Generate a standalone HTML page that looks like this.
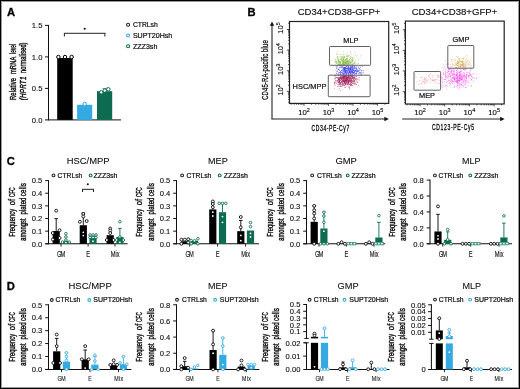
<!DOCTYPE html>
<html><head><meta charset="utf-8"><style>
html,body{margin:0;padding:0;background:#fff;}
#w{position:relative;width:520px;height:389px;overflow:hidden;}
svg{position:absolute;left:0;top:0;will-change:transform;}
text{font-family:"Liberation Sans", sans-serif;}
</style></head><body><div id="w">
<svg width="520" height="389" viewBox="0 0 520 389">
<text x="6.90" y="15.60" font-size="11.2" font-weight="bold" fill="#000" stroke="#000" stroke-width="0.3">A</text>
<line x1="48.50" y1="24.90" x2="48.50" y2="120.40" stroke="#111" stroke-width="1"/>
<line x1="45.00" y1="25.40" x2="48.50" y2="25.40" stroke="#111" stroke-width="1"/>
<text x="42.40" y="28.10" font-size="7.7" text-anchor="end" fill="#111" textLength="10.6" lengthAdjust="spacingAndGlyphs" stroke="#111" stroke-width="0.12">1.5</text>
<line x1="45.00" y1="56.90" x2="48.50" y2="56.90" stroke="#111" stroke-width="1"/>
<text x="42.40" y="59.60" font-size="7.7" text-anchor="end" fill="#111" textLength="10.6" lengthAdjust="spacingAndGlyphs" stroke="#111" stroke-width="0.12">1.0</text>
<line x1="45.00" y1="88.40" x2="48.50" y2="88.40" stroke="#111" stroke-width="1"/>
<text x="42.40" y="91.10" font-size="7.7" text-anchor="end" fill="#111" textLength="10.6" lengthAdjust="spacingAndGlyphs" stroke="#111" stroke-width="0.12">0.5</text>
<line x1="45.00" y1="119.90" x2="48.50" y2="119.90" stroke="#111" stroke-width="1"/>
<text x="42.40" y="122.60" font-size="7.7" text-anchor="end" fill="#111" textLength="10.6" lengthAdjust="spacingAndGlyphs" stroke="#111" stroke-width="0.12">0.0</text>
<line x1="48.50" y1="119.90" x2="121.00" y2="119.90" stroke="#111" stroke-width="1"/>
<rect x="57.20" y="58.00" width="15.50" height="61.90" fill="#000"/>
<rect x="77.10" y="104.80" width="15.10" height="15.10" fill="#35a9e1"/>
<rect x="97.00" y="91.20" width="15.20" height="28.70" fill="#0c6b51"/>
<circle cx="58.40" cy="57.00" r="1.75" fill="#fff" stroke="#000" stroke-width="1.0"/>
<circle cx="65.00" cy="57.00" r="1.75" fill="#fff" stroke="#000" stroke-width="1.0"/>
<circle cx="71.60" cy="57.00" r="1.75" fill="#fff" stroke="#000" stroke-width="1.0"/>
<circle cx="84.70" cy="104.00" r="1.75" fill="#fff" stroke="#35a9e1" stroke-width="1.0"/>
<line x1="104.60" y1="91.20" x2="104.60" y2="88.80" stroke="#0c6b51" stroke-width="0.9"/>
<line x1="102.60" y1="88.80" x2="106.60" y2="88.80" stroke="#0c6b51" stroke-width="0.9"/>
<circle cx="101.20" cy="92.30" r="1.75" fill="#fff" stroke="#0c6b51" stroke-width="1.0"/>
<circle cx="104.80" cy="90.60" r="1.75" fill="#fff" stroke="#0c6b51" stroke-width="1.0"/>
<circle cx="108.30" cy="89.30" r="1.75" fill="#fff" stroke="#0c6b51" stroke-width="1.0"/>
<line x1="63.90" y1="33.30" x2="105.40" y2="33.30" stroke="#222" stroke-width="1"/>
<line x1="64.40" y1="33.30" x2="64.40" y2="36.50" stroke="#222" stroke-width="1"/>
<line x1="104.90" y1="33.30" x2="104.90" y2="36.50" stroke="#222" stroke-width="1"/>
<circle cx="84.7" cy="28.8" r="1.05" fill="#111"/>
<text x="0.00" y="0" transform="translate(15.60,100.00) rotate(-90) scale(0.6929688028693239,1)" font-size="8.4" letter-spacing="0.200" fill="#111" stroke="#111" stroke-width="0.42">Relative</text>
<text x="0.00" y="0" transform="translate(15.60,74.10) rotate(-90) scale(0.6908143282293253,1)" font-size="8.4" letter-spacing="0.200" fill="#111" stroke="#111" stroke-width="0.42">mRNA</text>
<text x="0.00" y="0" transform="translate(15.60,53.80) rotate(-90) scale(0.5310973764965203,1)" font-size="8.4" letter-spacing="0.200" fill="#111" stroke="#111" stroke-width="0.42">level</text>
<text x="0.00" y="0" transform="translate(25.50,100.20) rotate(-90) scale(0.7595302799870353,1)" font-size="8.4" letter-spacing="0.200" fill="#111" stroke="#111" stroke-width="0.42" font-style="italic">(HPRT1</text>
<text x="0.00" y="0" transform="translate(25.50,73.00) rotate(-90) scale(0.6647397613645554,1)" font-size="8.4" letter-spacing="0.200" fill="#111" stroke="#111" stroke-width="0.42">normalised)</text>
<circle cx="128.10" cy="24.70" r="1.55" fill="#fff" stroke="#222" stroke-width="1.05"/>
<text x="132.90" y="27.15" font-size="7.1" fill="#111" textLength="24.9" lengthAdjust="spacingAndGlyphs" stroke="#111" stroke-width="0.22">CTRLsh</text>
<circle cx="128.10" cy="35.45" r="1.55" fill="#fff" stroke="#35a9e1" stroke-width="1.05"/>
<text x="132.90" y="37.90" font-size="7.1" fill="#111" stroke="#111" stroke-width="0.22">SUPT20Hsh</text>
<circle cx="128.10" cy="46.20" r="1.55" fill="#fff" stroke="#0c6b51" stroke-width="1.05"/>
<text x="132.90" y="48.65" font-size="7.1" fill="#111" stroke="#111" stroke-width="0.22">ZZZ3sh</text>
<text x="247.40" y="16.20" font-size="11.2" font-weight="bold" fill="#000" stroke="#000" stroke-width="0.3">B</text>
<g fill="#78b030" fill-opacity="0.8"><circle cx="342.5" cy="63.9" r="0.45"/><circle cx="342.6" cy="60.8" r="0.45"/><circle cx="338.4" cy="61.2" r="0.45"/><circle cx="350.7" cy="63.6" r="0.45"/><circle cx="350.2" cy="62.9" r="0.45"/><circle cx="346.4" cy="62.7" r="0.45"/><circle cx="347.0" cy="63.9" r="0.45"/><circle cx="338.7" cy="60.2" r="0.45"/><circle cx="345.8" cy="61.8" r="0.45"/><circle cx="347.1" cy="59.6" r="0.45"/><circle cx="345.9" cy="63.5" r="0.45"/><circle cx="340.3" cy="59.2" r="0.45"/><circle cx="341.9" cy="61.6" r="0.45"/><circle cx="347.8" cy="62.9" r="0.45"/><circle cx="341.3" cy="58.4" r="0.45"/><circle cx="339.2" cy="62.9" r="0.45"/><circle cx="346.6" cy="56.3" r="0.45"/><circle cx="343.4" cy="58.9" r="0.45"/><circle cx="347.0" cy="61.8" r="0.45"/><circle cx="335.2" cy="65.1" r="0.45"/><circle cx="352.6" cy="63.4" r="0.45"/><circle cx="344.7" cy="57.1" r="0.45"/><circle cx="347.7" cy="59.7" r="0.45"/><circle cx="341.3" cy="57.2" r="0.45"/><circle cx="338.2" cy="60.0" r="0.45"/><circle cx="351.7" cy="54.3" r="0.45"/><circle cx="335.3" cy="62.9" r="0.45"/><circle cx="352.7" cy="64.2" r="0.45"/><circle cx="346.1" cy="59.2" r="0.45"/><circle cx="350.6" cy="62.6" r="0.45"/><circle cx="345.5" cy="63.7" r="0.45"/><circle cx="353.6" cy="64.4" r="0.45"/><circle cx="347.1" cy="64.1" r="0.45"/><circle cx="349.7" cy="64.0" r="0.45"/><circle cx="349.1" cy="55.1" r="0.45"/><circle cx="347.3" cy="61.4" r="0.45"/><circle cx="345.9" cy="64.5" r="0.45"/><circle cx="340.0" cy="60.4" r="0.45"/><circle cx="350.3" cy="62.1" r="0.45"/><circle cx="352.8" cy="60.3" r="0.45"/><circle cx="335.7" cy="61.5" r="0.45"/><circle cx="343.1" cy="60.9" r="0.45"/><circle cx="352.4" cy="58.1" r="0.45"/><circle cx="351.6" cy="57.2" r="0.45"/><circle cx="339.3" cy="64.4" r="0.45"/><circle cx="350.8" cy="65.3" r="0.45"/><circle cx="346.1" cy="62.5" r="0.45"/><circle cx="344.9" cy="64.2" r="0.45"/><circle cx="342.9" cy="63.1" r="0.45"/><circle cx="347.4" cy="62.0" r="0.45"/><circle cx="348.6" cy="64.2" r="0.45"/><circle cx="356.1" cy="63.2" r="0.45"/><circle cx="341.4" cy="60.6" r="0.45"/><circle cx="342.0" cy="63.5" r="0.45"/><circle cx="355.0" cy="52.3" r="0.45"/><circle cx="337.3" cy="62.9" r="0.45"/><circle cx="346.4" cy="62.9" r="0.45"/><circle cx="341.4" cy="64.5" r="0.45"/><circle cx="345.7" cy="60.0" r="0.45"/><circle cx="358.6" cy="63.3" r="0.45"/><circle cx="340.7" cy="61.6" r="0.45"/><circle cx="342.6" cy="61.8" r="0.45"/><circle cx="350.1" cy="57.6" r="0.45"/><circle cx="342.0" cy="64.4" r="0.45"/><circle cx="350.6" cy="51.8" r="0.45"/><circle cx="350.5" cy="56.5" r="0.45"/><circle cx="348.1" cy="56.3" r="0.45"/><circle cx="343.1" cy="62.7" r="0.45"/><circle cx="348.8" cy="62.5" r="0.45"/><circle cx="350.3" cy="60.9" r="0.45"/><circle cx="360.5" cy="57.6" r="0.45"/><circle cx="349.5" cy="61.0" r="0.45"/><circle cx="344.8" cy="64.7" r="0.45"/><circle cx="345.3" cy="64.4" r="0.45"/><circle cx="347.7" cy="58.3" r="0.45"/><circle cx="337.8" cy="56.4" r="0.45"/><circle cx="351.6" cy="64.8" r="0.45"/><circle cx="352.8" cy="58.4" r="0.45"/><circle cx="344.0" cy="57.7" r="0.45"/><circle cx="349.9" cy="61.3" r="0.45"/><circle cx="343.4" cy="59.7" r="0.45"/><circle cx="346.4" cy="63.6" r="0.45"/><circle cx="353.0" cy="58.1" r="0.45"/><circle cx="352.7" cy="61.3" r="0.45"/><circle cx="344.7" cy="62.5" r="0.45"/><circle cx="352.5" cy="61.0" r="0.45"/><circle cx="345.9" cy="59.7" r="0.45"/><circle cx="343.9" cy="65.2" r="0.45"/><circle cx="336.6" cy="62.0" r="0.45"/><circle cx="342.8" cy="61.9" r="0.45"/><circle cx="340.5" cy="62.9" r="0.45"/><circle cx="354.7" cy="62.2" r="0.45"/><circle cx="342.8" cy="57.2" r="0.45"/><circle cx="350.0" cy="65.0" r="0.45"/><circle cx="344.0" cy="65.1" r="0.45"/><circle cx="345.0" cy="57.5" r="0.45"/><circle cx="349.5" cy="59.9" r="0.45"/><circle cx="338.6" cy="59.1" r="0.45"/><circle cx="336.9" cy="63.4" r="0.45"/><circle cx="340.2" cy="54.6" r="0.45"/><circle cx="348.3" cy="61.0" r="0.45"/><circle cx="345.7" cy="60.3" r="0.45"/><circle cx="348.7" cy="64.8" r="0.45"/><circle cx="348.0" cy="63.2" r="0.45"/><circle cx="352.0" cy="64.5" r="0.45"/><circle cx="346.7" cy="54.1" r="0.45"/><circle cx="342.2" cy="60.2" r="0.45"/><circle cx="355.6" cy="55.3" r="0.45"/><circle cx="338.4" cy="64.6" r="0.45"/><circle cx="355.3" cy="61.5" r="0.45"/><circle cx="338.6" cy="61.7" r="0.45"/><circle cx="345.8" cy="65.1" r="0.45"/><circle cx="343.8" cy="61.3" r="0.45"/><circle cx="337.9" cy="60.6" r="0.45"/><circle cx="349.4" cy="62.4" r="0.45"/><circle cx="338.9" cy="58.8" r="0.45"/><circle cx="347.8" cy="52.1" r="0.45"/><circle cx="347.7" cy="63.8" r="0.45"/><circle cx="354.1" cy="63.6" r="0.45"/><circle cx="343.6" cy="64.0" r="0.45"/><circle cx="345.9" cy="59.3" r="0.45"/><circle cx="335.6" cy="59.5" r="0.45"/><circle cx="345.7" cy="62.7" r="0.45"/><circle cx="341.6" cy="58.3" r="0.45"/><circle cx="336.8" cy="56.9" r="0.45"/><circle cx="354.9" cy="65.1" r="0.45"/><circle cx="338.8" cy="63.0" r="0.45"/><circle cx="343.6" cy="64.0" r="0.45"/><circle cx="339.6" cy="61.5" r="0.45"/><circle cx="346.8" cy="63.4" r="0.45"/><circle cx="347.8" cy="62.8" r="0.45"/><circle cx="342.1" cy="65.0" r="0.45"/><circle cx="344.3" cy="58.9" r="0.45"/><circle cx="340.2" cy="62.0" r="0.45"/><circle cx="343.3" cy="62.6" r="0.45"/><circle cx="344.0" cy="62.7" r="0.45"/><circle cx="343.2" cy="57.2" r="0.45"/><circle cx="346.6" cy="61.3" r="0.45"/><circle cx="346.7" cy="58.3" r="0.45"/><circle cx="338.4" cy="64.8" r="0.45"/><circle cx="337.5" cy="52.0" r="0.45"/><circle cx="341.7" cy="56.8" r="0.45"/><circle cx="339.4" cy="64.0" r="0.45"/><circle cx="347.0" cy="62.7" r="0.45"/><circle cx="352.9" cy="64.7" r="0.45"/><circle cx="343.9" cy="64.3" r="0.45"/><circle cx="350.1" cy="57.9" r="0.45"/><circle cx="343.1" cy="64.8" r="0.45"/><circle cx="351.4" cy="61.2" r="0.45"/><circle cx="349.9" cy="62.0" r="0.45"/><circle cx="337.0" cy="62.7" r="0.45"/><circle cx="348.7" cy="62.1" r="0.45"/><circle cx="349.1" cy="64.1" r="0.45"/><circle cx="345.2" cy="62.2" r="0.45"/><circle cx="342.5" cy="64.6" r="0.45"/><circle cx="337.7" cy="59.6" r="0.45"/><circle cx="344.0" cy="56.4" r="0.45"/><circle cx="341.4" cy="54.4" r="0.45"/><circle cx="339.9" cy="64.2" r="0.45"/><circle cx="347.4" cy="61.8" r="0.45"/><circle cx="342.6" cy="56.6" r="0.45"/><circle cx="355.0" cy="64.0" r="0.45"/><circle cx="350.6" cy="58.6" r="0.45"/><circle cx="342.9" cy="55.1" r="0.45"/><circle cx="347.8" cy="55.3" r="0.45"/><circle cx="340.2" cy="56.7" r="0.45"/><circle cx="344.2" cy="62.9" r="0.45"/><circle cx="347.8" cy="64.7" r="0.45"/><circle cx="336.1" cy="60.1" r="0.45"/><circle cx="337.6" cy="57.9" r="0.45"/><circle cx="343.5" cy="62.0" r="0.45"/><circle cx="346.9" cy="56.0" r="0.45"/><circle cx="336.6" cy="61.9" r="0.45"/><circle cx="342.8" cy="60.8" r="0.45"/><circle cx="343.6" cy="59.1" r="0.45"/><circle cx="348.2" cy="63.3" r="0.45"/><circle cx="343.5" cy="59.4" r="0.45"/><circle cx="343.0" cy="51.7" r="0.45"/><circle cx="338.1" cy="62.1" r="0.45"/><circle cx="344.9" cy="56.8" r="0.45"/><circle cx="342.5" cy="60.8" r="0.45"/><circle cx="346.8" cy="64.3" r="0.45"/><circle cx="343.8" cy="58.8" r="0.45"/><circle cx="343.1" cy="61.8" r="0.45"/><circle cx="348.4" cy="63.1" r="0.45"/><circle cx="339.7" cy="56.9" r="0.45"/><circle cx="341.8" cy="59.2" r="0.45"/><circle cx="337.3" cy="61.6" r="0.45"/><circle cx="341.1" cy="62.4" r="0.45"/><circle cx="347.1" cy="60.4" r="0.45"/><circle cx="357.9" cy="60.8" r="0.45"/><circle cx="350.6" cy="62.5" r="0.45"/><circle cx="350.7" cy="53.0" r="0.45"/><circle cx="339.5" cy="62.9" r="0.45"/><circle cx="347.1" cy="61.4" r="0.45"/><circle cx="347.1" cy="57.9" r="0.45"/><circle cx="351.1" cy="58.1" r="0.45"/><circle cx="342.7" cy="62.1" r="0.45"/><circle cx="351.0" cy="62.1" r="0.45"/><circle cx="339.2" cy="63.0" r="0.45"/><circle cx="347.5" cy="64.7" r="0.45"/><circle cx="354.0" cy="62.1" r="0.45"/><circle cx="345.6" cy="60.4" r="0.45"/><circle cx="352.5" cy="59.3" r="0.45"/><circle cx="348.0" cy="60.2" r="0.45"/><circle cx="339.8" cy="64.7" r="0.45"/><circle cx="352.0" cy="62.0" r="0.45"/><circle cx="339.9" cy="65.1" r="0.45"/><circle cx="343.7" cy="63.2" r="0.45"/><circle cx="344.0" cy="65.0" r="0.45"/><circle cx="340.1" cy="61.8" r="0.45"/><circle cx="352.2" cy="57.4" r="0.45"/><circle cx="351.1" cy="60.3" r="0.45"/><circle cx="343.6" cy="60.8" r="0.45"/><circle cx="343.3" cy="57.9" r="0.45"/><circle cx="344.1" cy="56.5" r="0.45"/><circle cx="343.6" cy="63.2" r="0.45"/><circle cx="346.8" cy="61.1" r="0.45"/><circle cx="338.6" cy="62.6" r="0.45"/><circle cx="348.6" cy="61.6" r="0.45"/><circle cx="341.2" cy="59.3" r="0.45"/><circle cx="338.4" cy="60.7" r="0.45"/><circle cx="345.8" cy="64.0" r="0.45"/><circle cx="339.8" cy="62.0" r="0.45"/><circle cx="360.8" cy="54.9" r="0.45"/><circle cx="340.9" cy="62.6" r="0.45"/><circle cx="344.9" cy="63.5" r="0.45"/><circle cx="342.6" cy="63.4" r="0.45"/><circle cx="344.3" cy="64.9" r="0.45"/><circle cx="344.0" cy="58.1" r="0.45"/><circle cx="337.7" cy="64.4" r="0.45"/><circle cx="340.1" cy="64.4" r="0.45"/><circle cx="348.5" cy="63.2" r="0.45"/><circle cx="347.0" cy="61.6" r="0.45"/><circle cx="335.5" cy="61.9" r="0.45"/><circle cx="346.7" cy="60.0" r="0.45"/><circle cx="343.4" cy="64.8" r="0.45"/><circle cx="338.7" cy="64.4" r="0.45"/><circle cx="355.2" cy="59.9" r="0.45"/><circle cx="344.9" cy="61.4" r="0.45"/><circle cx="353.2" cy="63.2" r="0.45"/><circle cx="349.4" cy="59.4" r="0.45"/><circle cx="343.9" cy="62.0" r="0.45"/><circle cx="349.4" cy="55.4" r="0.45"/><circle cx="348.5" cy="61.5" r="0.45"/><circle cx="346.7" cy="63.4" r="0.45"/><circle cx="335.0" cy="61.2" r="0.45"/><circle cx="353.0" cy="59.8" r="0.45"/><circle cx="337.9" cy="56.8" r="0.45"/><circle cx="336.7" cy="63.3" r="0.45"/><circle cx="354.2" cy="63.6" r="0.45"/><circle cx="340.9" cy="59.4" r="0.45"/><circle cx="347.2" cy="64.1" r="0.45"/><circle cx="337.9" cy="57.6" r="0.45"/><circle cx="345.7" cy="62.9" r="0.45"/><circle cx="336.2" cy="61.2" r="0.45"/><circle cx="340.7" cy="63.7" r="0.45"/><circle cx="343.3" cy="61.7" r="0.45"/><circle cx="352.3" cy="60.6" r="0.45"/><circle cx="349.1" cy="59.1" r="0.45"/><circle cx="344.4" cy="64.8" r="0.45"/><circle cx="353.1" cy="60.5" r="0.45"/><circle cx="343.6" cy="62.7" r="0.45"/><circle cx="335.0" cy="62.1" r="0.45"/><circle cx="339.9" cy="63.4" r="0.45"/><circle cx="337.2" cy="54.5" r="0.45"/><circle cx="344.2" cy="63.0" r="0.45"/><circle cx="342.4" cy="59.7" r="0.45"/><circle cx="346.9" cy="56.0" r="0.45"/><circle cx="339.9" cy="61.9" r="0.45"/><circle cx="349.1" cy="61.4" r="0.45"/><circle cx="345.9" cy="59.5" r="0.45"/><circle cx="340.1" cy="62.1" r="0.45"/><circle cx="336.6" cy="54.0" r="0.45"/><circle cx="347.6" cy="65.0" r="0.45"/><circle cx="345.2" cy="63.0" r="0.45"/><circle cx="349.6" cy="63.4" r="0.45"/><circle cx="354.0" cy="57.3" r="0.45"/><circle cx="348.9" cy="60.6" r="0.45"/><circle cx="344.0" cy="61.0" r="0.45"/><circle cx="341.0" cy="58.8" r="0.45"/><circle cx="340.2" cy="64.4" r="0.45"/><circle cx="344.2" cy="62.3" r="0.45"/><circle cx="347.0" cy="61.5" r="0.45"/><circle cx="348.0" cy="61.4" r="0.45"/><circle cx="346.8" cy="58.4" r="0.45"/><circle cx="350.5" cy="63.3" r="0.45"/><circle cx="345.2" cy="61.4" r="0.45"/><circle cx="344.2" cy="60.9" r="0.45"/><circle cx="346.1" cy="62.3" r="0.45"/><circle cx="348.1" cy="60.6" r="0.45"/><circle cx="343.8" cy="53.9" r="0.45"/><circle cx="341.5" cy="64.6" r="0.45"/><circle cx="352.0" cy="60.6" r="0.45"/><circle cx="342.0" cy="64.8" r="0.45"/><circle cx="354.1" cy="62.2" r="0.45"/><circle cx="351.4" cy="59.3" r="0.45"/><circle cx="345.2" cy="61.7" r="0.45"/><circle cx="358.3" cy="59.5" r="0.45"/><circle cx="340.5" cy="63.9" r="0.45"/><circle cx="337.7" cy="63.9" r="0.45"/><circle cx="347.4" cy="60.9" r="0.45"/><circle cx="347.2" cy="56.1" r="0.45"/><circle cx="348.6" cy="56.1" r="0.45"/><circle cx="339.8" cy="59.9" r="0.45"/><circle cx="341.6" cy="65.3" r="0.45"/><circle cx="344.5" cy="60.5" r="0.45"/><circle cx="344.0" cy="63.4" r="0.45"/><circle cx="351.4" cy="63.0" r="0.45"/><circle cx="357.3" cy="54.5" r="0.45"/><circle cx="343.8" cy="63.6" r="0.45"/><circle cx="349.8" cy="64.5" r="0.45"/><circle cx="342.4" cy="58.0" r="0.45"/><circle cx="337.5" cy="58.1" r="0.45"/><circle cx="343.9" cy="54.6" r="0.45"/><circle cx="342.4" cy="60.3" r="0.45"/><circle cx="346.7" cy="59.3" r="0.45"/><circle cx="338.7" cy="60.5" r="0.45"/><circle cx="343.7" cy="59.5" r="0.45"/><circle cx="344.1" cy="64.9" r="0.45"/></g>
<g fill="#3030f0" fill-opacity="0.8"><circle cx="343.9" cy="69.0" r="0.45"/><circle cx="344.3" cy="70.4" r="0.45"/><circle cx="352.4" cy="65.7" r="0.45"/><circle cx="352.0" cy="70.4" r="0.45"/><circle cx="337.1" cy="71.5" r="0.45"/><circle cx="354.2" cy="71.2" r="0.45"/><circle cx="352.1" cy="72.0" r="0.45"/><circle cx="357.5" cy="69.7" r="0.45"/><circle cx="354.7" cy="69.1" r="0.45"/><circle cx="353.7" cy="67.7" r="0.45"/><circle cx="351.9" cy="69.9" r="0.45"/><circle cx="341.6" cy="67.7" r="0.45"/><circle cx="350.3" cy="73.8" r="0.45"/><circle cx="351.8" cy="72.3" r="0.45"/><circle cx="348.7" cy="75.2" r="0.45"/><circle cx="346.5" cy="68.6" r="0.45"/><circle cx="354.8" cy="70.7" r="0.45"/><circle cx="347.2" cy="68.5" r="0.45"/><circle cx="347.3" cy="72.7" r="0.45"/><circle cx="351.3" cy="66.3" r="0.45"/><circle cx="351.8" cy="71.1" r="0.45"/><circle cx="342.5" cy="73.2" r="0.45"/><circle cx="347.2" cy="69.3" r="0.45"/><circle cx="354.2" cy="75.1" r="0.45"/><circle cx="344.5" cy="72.0" r="0.45"/><circle cx="345.8" cy="74.7" r="0.45"/><circle cx="344.8" cy="73.3" r="0.45"/><circle cx="346.2" cy="72.3" r="0.45"/><circle cx="348.4" cy="68.2" r="0.45"/><circle cx="363.0" cy="70.8" r="0.45"/><circle cx="338.3" cy="73.5" r="0.45"/><circle cx="337.8" cy="74.5" r="0.45"/><circle cx="345.2" cy="71.0" r="0.45"/><circle cx="357.2" cy="70.9" r="0.45"/><circle cx="356.7" cy="73.1" r="0.45"/><circle cx="343.7" cy="73.5" r="0.45"/><circle cx="352.2" cy="72.8" r="0.45"/><circle cx="354.9" cy="73.1" r="0.45"/><circle cx="350.1" cy="72.2" r="0.45"/><circle cx="346.9" cy="70.6" r="0.45"/><circle cx="354.8" cy="68.9" r="0.45"/><circle cx="356.5" cy="67.7" r="0.45"/><circle cx="350.7" cy="68.7" r="0.45"/><circle cx="350.0" cy="68.1" r="0.45"/><circle cx="338.6" cy="74.3" r="0.45"/><circle cx="351.0" cy="68.5" r="0.45"/><circle cx="350.3" cy="74.0" r="0.45"/><circle cx="342.6" cy="70.1" r="0.45"/><circle cx="352.5" cy="72.3" r="0.45"/><circle cx="357.1" cy="71.6" r="0.45"/><circle cx="349.1" cy="69.5" r="0.45"/><circle cx="350.7" cy="69.0" r="0.45"/><circle cx="342.3" cy="67.9" r="0.45"/><circle cx="345.1" cy="68.4" r="0.45"/><circle cx="341.5" cy="72.7" r="0.45"/><circle cx="340.5" cy="72.8" r="0.45"/><circle cx="342.4" cy="71.7" r="0.45"/><circle cx="357.9" cy="71.2" r="0.45"/><circle cx="344.2" cy="70.7" r="0.45"/><circle cx="345.1" cy="71.1" r="0.45"/><circle cx="346.0" cy="70.8" r="0.45"/><circle cx="353.8" cy="73.2" r="0.45"/><circle cx="354.9" cy="72.6" r="0.45"/><circle cx="347.1" cy="70.4" r="0.45"/><circle cx="347.2" cy="69.4" r="0.45"/><circle cx="346.8" cy="70.4" r="0.45"/><circle cx="342.7" cy="70.4" r="0.45"/><circle cx="352.4" cy="69.9" r="0.45"/><circle cx="352.4" cy="69.4" r="0.45"/><circle cx="354.5" cy="71.8" r="0.45"/><circle cx="349.1" cy="68.4" r="0.45"/><circle cx="353.1" cy="68.8" r="0.45"/><circle cx="350.5" cy="68.7" r="0.45"/><circle cx="350.3" cy="73.1" r="0.45"/><circle cx="343.3" cy="70.4" r="0.45"/><circle cx="353.0" cy="71.0" r="0.45"/><circle cx="355.0" cy="73.3" r="0.45"/><circle cx="345.0" cy="68.0" r="0.45"/><circle cx="354.8" cy="67.3" r="0.45"/><circle cx="337.2" cy="67.0" r="0.45"/><circle cx="344.5" cy="67.9" r="0.45"/><circle cx="350.5" cy="67.9" r="0.45"/><circle cx="357.5" cy="70.2" r="0.45"/><circle cx="341.9" cy="75.1" r="0.45"/><circle cx="345.2" cy="71.3" r="0.45"/><circle cx="348.9" cy="69.4" r="0.45"/><circle cx="351.1" cy="68.1" r="0.45"/><circle cx="340.8" cy="67.8" r="0.45"/><circle cx="348.9" cy="70.7" r="0.45"/><circle cx="352.6" cy="70.9" r="0.45"/><circle cx="343.8" cy="68.0" r="0.45"/><circle cx="335.2" cy="69.9" r="0.45"/><circle cx="352.2" cy="72.4" r="0.45"/><circle cx="348.2" cy="69.9" r="0.45"/><circle cx="355.1" cy="70.6" r="0.45"/><circle cx="353.8" cy="72.5" r="0.45"/><circle cx="350.4" cy="75.1" r="0.45"/><circle cx="345.3" cy="69.2" r="0.45"/><circle cx="343.7" cy="67.7" r="0.45"/><circle cx="349.1" cy="72.5" r="0.45"/><circle cx="356.6" cy="73.3" r="0.45"/><circle cx="356.8" cy="66.1" r="0.45"/><circle cx="344.8" cy="72.1" r="0.45"/><circle cx="358.3" cy="70.9" r="0.45"/><circle cx="343.4" cy="69.3" r="0.45"/><circle cx="344.7" cy="67.5" r="0.45"/><circle cx="358.8" cy="68.3" r="0.45"/><circle cx="356.7" cy="71.7" r="0.45"/><circle cx="345.0" cy="71.9" r="0.45"/><circle cx="359.5" cy="72.7" r="0.45"/><circle cx="357.2" cy="70.8" r="0.45"/><circle cx="352.4" cy="69.8" r="0.45"/><circle cx="351.8" cy="75.1" r="0.45"/><circle cx="339.7" cy="70.3" r="0.45"/><circle cx="350.6" cy="68.5" r="0.45"/><circle cx="347.0" cy="73.3" r="0.45"/><circle cx="362.0" cy="72.7" r="0.45"/><circle cx="361.5" cy="70.8" r="0.45"/><circle cx="348.8" cy="66.6" r="0.45"/><circle cx="348.6" cy="66.7" r="0.45"/><circle cx="349.5" cy="72.1" r="0.45"/><circle cx="349.2" cy="71.5" r="0.45"/><circle cx="347.8" cy="67.8" r="0.45"/><circle cx="342.4" cy="69.3" r="0.45"/><circle cx="350.9" cy="66.4" r="0.45"/><circle cx="353.4" cy="70.0" r="0.45"/><circle cx="349.8" cy="70.1" r="0.45"/><circle cx="348.7" cy="73.1" r="0.45"/><circle cx="348.9" cy="67.4" r="0.45"/><circle cx="353.2" cy="68.4" r="0.45"/><circle cx="342.2" cy="66.6" r="0.45"/><circle cx="336.8" cy="71.8" r="0.45"/><circle cx="339.4" cy="72.7" r="0.45"/><circle cx="344.0" cy="69.2" r="0.45"/><circle cx="351.1" cy="75.2" r="0.45"/><circle cx="361.6" cy="74.1" r="0.45"/><circle cx="349.9" cy="71.1" r="0.45"/><circle cx="347.0" cy="72.1" r="0.45"/><circle cx="350.9" cy="70.7" r="0.45"/><circle cx="345.7" cy="65.9" r="0.45"/><circle cx="357.0" cy="72.4" r="0.45"/><circle cx="361.0" cy="73.3" r="0.45"/><circle cx="362.4" cy="66.2" r="0.45"/><circle cx="352.4" cy="72.0" r="0.45"/><circle cx="350.3" cy="71.1" r="0.45"/><circle cx="340.9" cy="65.6" r="0.45"/><circle cx="345.4" cy="68.4" r="0.45"/><circle cx="351.4" cy="71.4" r="0.45"/><circle cx="349.2" cy="68.1" r="0.45"/><circle cx="346.1" cy="73.8" r="0.45"/><circle cx="354.0" cy="70.9" r="0.45"/><circle cx="345.1" cy="72.8" r="0.45"/><circle cx="356.5" cy="69.6" r="0.45"/><circle cx="354.4" cy="66.6" r="0.45"/><circle cx="355.6" cy="71.2" r="0.45"/><circle cx="338.7" cy="72.8" r="0.45"/><circle cx="343.2" cy="75.0" r="0.45"/><circle cx="344.6" cy="69.9" r="0.45"/><circle cx="350.8" cy="69.3" r="0.45"/><circle cx="350.7" cy="68.6" r="0.45"/><circle cx="353.4" cy="70.5" r="0.45"/><circle cx="356.5" cy="70.6" r="0.45"/><circle cx="337.4" cy="70.8" r="0.45"/><circle cx="352.0" cy="74.2" r="0.45"/><circle cx="348.0" cy="72.9" r="0.45"/><circle cx="346.6" cy="66.6" r="0.45"/><circle cx="356.1" cy="73.7" r="0.45"/><circle cx="359.0" cy="73.5" r="0.45"/><circle cx="344.8" cy="68.1" r="0.45"/><circle cx="343.7" cy="72.5" r="0.45"/><circle cx="351.1" cy="69.6" r="0.45"/><circle cx="350.1" cy="70.0" r="0.45"/><circle cx="350.4" cy="73.1" r="0.45"/><circle cx="355.2" cy="68.1" r="0.45"/><circle cx="349.7" cy="74.4" r="0.45"/><circle cx="338.3" cy="69.3" r="0.45"/><circle cx="345.6" cy="73.0" r="0.45"/><circle cx="343.4" cy="65.6" r="0.45"/><circle cx="352.4" cy="73.8" r="0.45"/><circle cx="350.3" cy="65.9" r="0.45"/><circle cx="354.1" cy="73.3" r="0.45"/><circle cx="352.6" cy="68.8" r="0.45"/><circle cx="351.0" cy="73.3" r="0.45"/><circle cx="351.1" cy="72.2" r="0.45"/><circle cx="349.1" cy="73.6" r="0.45"/><circle cx="345.2" cy="70.2" r="0.45"/><circle cx="347.0" cy="72.5" r="0.45"/><circle cx="359.4" cy="69.6" r="0.45"/><circle cx="354.1" cy="72.6" r="0.45"/><circle cx="360.5" cy="69.9" r="0.45"/><circle cx="348.3" cy="66.8" r="0.45"/><circle cx="352.1" cy="75.2" r="0.45"/><circle cx="352.5" cy="72.0" r="0.45"/><circle cx="347.7" cy="71.1" r="0.45"/><circle cx="339.7" cy="74.2" r="0.45"/><circle cx="346.3" cy="66.6" r="0.45"/><circle cx="344.1" cy="67.6" r="0.45"/><circle cx="354.6" cy="74.2" r="0.45"/><circle cx="340.2" cy="73.7" r="0.45"/><circle cx="354.8" cy="68.5" r="0.45"/><circle cx="339.3" cy="67.9" r="0.45"/><circle cx="344.9" cy="71.7" r="0.45"/><circle cx="354.9" cy="66.3" r="0.45"/><circle cx="344.5" cy="67.5" r="0.45"/><circle cx="345.5" cy="75.0" r="0.45"/><circle cx="354.5" cy="72.6" r="0.45"/><circle cx="345.6" cy="68.6" r="0.45"/><circle cx="342.6" cy="72.3" r="0.45"/><circle cx="344.2" cy="68.0" r="0.45"/><circle cx="352.9" cy="75.2" r="0.45"/><circle cx="350.1" cy="67.1" r="0.45"/><circle cx="356.9" cy="71.5" r="0.45"/><circle cx="356.3" cy="69.0" r="0.45"/><circle cx="355.8" cy="73.2" r="0.45"/><circle cx="339.0" cy="69.1" r="0.45"/><circle cx="339.7" cy="70.1" r="0.45"/><circle cx="352.8" cy="66.8" r="0.45"/><circle cx="335.6" cy="75.0" r="0.45"/><circle cx="340.4" cy="74.2" r="0.45"/><circle cx="347.6" cy="71.4" r="0.45"/><circle cx="348.0" cy="74.0" r="0.45"/><circle cx="355.7" cy="70.8" r="0.45"/><circle cx="340.2" cy="73.1" r="0.45"/><circle cx="345.9" cy="72.7" r="0.45"/><circle cx="356.4" cy="68.9" r="0.45"/><circle cx="345.5" cy="72.0" r="0.45"/><circle cx="356.7" cy="74.9" r="0.45"/><circle cx="352.4" cy="65.9" r="0.45"/><circle cx="340.8" cy="71.4" r="0.45"/><circle cx="343.4" cy="74.5" r="0.45"/><circle cx="343.7" cy="71.1" r="0.45"/><circle cx="345.8" cy="70.0" r="0.45"/><circle cx="352.1" cy="67.7" r="0.45"/><circle cx="352.0" cy="68.3" r="0.45"/><circle cx="345.5" cy="72.4" r="0.45"/><circle cx="345.3" cy="71.5" r="0.45"/><circle cx="359.4" cy="70.6" r="0.45"/><circle cx="348.1" cy="73.1" r="0.45"/><circle cx="346.6" cy="74.3" r="0.45"/><circle cx="340.7" cy="72.7" r="0.45"/><circle cx="345.7" cy="67.7" r="0.45"/><circle cx="360.5" cy="67.5" r="0.45"/><circle cx="360.4" cy="72.8" r="0.45"/><circle cx="358.4" cy="67.1" r="0.45"/><circle cx="348.2" cy="70.0" r="0.45"/><circle cx="346.3" cy="68.3" r="0.45"/><circle cx="351.9" cy="71.7" r="0.45"/><circle cx="346.9" cy="72.2" r="0.45"/><circle cx="358.5" cy="67.0" r="0.45"/><circle cx="340.2" cy="66.7" r="0.45"/><circle cx="338.5" cy="69.4" r="0.45"/><circle cx="336.5" cy="73.2" r="0.45"/><circle cx="344.2" cy="69.6" r="0.45"/><circle cx="349.4" cy="72.4" r="0.45"/><circle cx="346.7" cy="70.6" r="0.45"/><circle cx="345.4" cy="70.9" r="0.45"/><circle cx="341.4" cy="70.7" r="0.45"/><circle cx="336.4" cy="68.8" r="0.45"/><circle cx="361.4" cy="70.8" r="0.45"/><circle cx="340.8" cy="71.4" r="0.45"/><circle cx="344.2" cy="73.1" r="0.45"/><circle cx="351.5" cy="70.2" r="0.45"/><circle cx="343.0" cy="66.7" r="0.45"/><circle cx="357.8" cy="71.4" r="0.45"/><circle cx="341.5" cy="70.2" r="0.45"/><circle cx="350.4" cy="69.9" r="0.45"/><circle cx="347.2" cy="65.7" r="0.45"/><circle cx="344.1" cy="73.5" r="0.45"/><circle cx="338.0" cy="69.5" r="0.45"/><circle cx="350.7" cy="74.1" r="0.45"/><circle cx="341.7" cy="72.6" r="0.45"/><circle cx="351.5" cy="67.9" r="0.45"/><circle cx="352.1" cy="67.4" r="0.45"/><circle cx="343.8" cy="70.4" r="0.45"/><circle cx="346.2" cy="73.2" r="0.45"/><circle cx="346.4" cy="74.9" r="0.45"/><circle cx="341.5" cy="65.9" r="0.45"/><circle cx="359.1" cy="71.9" r="0.45"/><circle cx="355.1" cy="67.6" r="0.45"/><circle cx="354.2" cy="71.4" r="0.45"/><circle cx="353.2" cy="70.6" r="0.45"/><circle cx="356.8" cy="68.2" r="0.45"/><circle cx="356.5" cy="67.9" r="0.45"/><circle cx="342.2" cy="67.2" r="0.45"/><circle cx="346.1" cy="66.1" r="0.45"/><circle cx="347.1" cy="68.3" r="0.45"/><circle cx="345.4" cy="67.1" r="0.45"/><circle cx="349.2" cy="68.9" r="0.45"/><circle cx="349.7" cy="71.4" r="0.45"/><circle cx="345.5" cy="67.7" r="0.45"/><circle cx="344.4" cy="69.5" r="0.45"/><circle cx="346.8" cy="74.0" r="0.45"/><circle cx="346.1" cy="73.9" r="0.45"/><circle cx="356.9" cy="72.0" r="0.45"/><circle cx="352.2" cy="70.9" r="0.45"/><circle cx="352.1" cy="66.2" r="0.45"/><circle cx="355.2" cy="68.6" r="0.45"/><circle cx="355.4" cy="70.8" r="0.45"/><circle cx="336.2" cy="66.0" r="0.45"/><circle cx="356.3" cy="70.0" r="0.45"/><circle cx="346.4" cy="71.3" r="0.45"/><circle cx="346.2" cy="68.6" r="0.45"/><circle cx="349.7" cy="71.0" r="0.45"/><circle cx="358.9" cy="70.7" r="0.45"/><circle cx="360.2" cy="74.2" r="0.45"/><circle cx="349.8" cy="71.0" r="0.45"/><circle cx="348.1" cy="67.9" r="0.45"/><circle cx="348.6" cy="68.3" r="0.45"/><circle cx="359.7" cy="72.4" r="0.45"/><circle cx="348.7" cy="69.0" r="0.45"/><circle cx="341.9" cy="66.5" r="0.45"/><circle cx="348.8" cy="70.0" r="0.45"/><circle cx="358.4" cy="71.0" r="0.45"/><circle cx="350.1" cy="69.2" r="0.45"/><circle cx="346.7" cy="70.6" r="0.45"/><circle cx="343.3" cy="73.9" r="0.45"/><circle cx="339.9" cy="72.5" r="0.45"/><circle cx="342.9" cy="74.3" r="0.45"/><circle cx="344.4" cy="67.9" r="0.45"/><circle cx="340.4" cy="74.5" r="0.45"/><circle cx="359.7" cy="68.4" r="0.45"/><circle cx="344.1" cy="69.3" r="0.45"/><circle cx="344.6" cy="74.7" r="0.45"/><circle cx="361.1" cy="69.6" r="0.45"/><circle cx="344.5" cy="68.7" r="0.45"/><circle cx="336.7" cy="73.7" r="0.45"/><circle cx="341.9" cy="74.2" r="0.45"/><circle cx="337.9" cy="66.1" r="0.45"/><circle cx="350.9" cy="67.8" r="0.45"/><circle cx="354.1" cy="70.5" r="0.45"/><circle cx="341.4" cy="72.7" r="0.45"/><circle cx="360.9" cy="72.2" r="0.45"/><circle cx="344.3" cy="69.3" r="0.45"/><circle cx="347.4" cy="71.7" r="0.45"/><circle cx="338.0" cy="68.4" r="0.45"/><circle cx="353.3" cy="69.4" r="0.45"/><circle cx="341.3" cy="67.2" r="0.45"/><circle cx="344.7" cy="71.0" r="0.45"/><circle cx="350.9" cy="66.7" r="0.45"/><circle cx="359.0" cy="73.8" r="0.45"/><circle cx="349.7" cy="68.0" r="0.45"/><circle cx="336.8" cy="66.9" r="0.45"/><circle cx="354.9" cy="67.7" r="0.45"/><circle cx="340.4" cy="71.2" r="0.45"/><circle cx="350.6" cy="72.6" r="0.45"/><circle cx="343.5" cy="73.9" r="0.45"/><circle cx="342.6" cy="72.9" r="0.45"/><circle cx="350.2" cy="71.4" r="0.45"/><circle cx="355.3" cy="70.4" r="0.45"/><circle cx="356.2" cy="73.6" r="0.45"/><circle cx="349.9" cy="68.5" r="0.45"/><circle cx="344.1" cy="68.7" r="0.45"/><circle cx="347.7" cy="70.4" r="0.45"/><circle cx="354.0" cy="67.5" r="0.45"/><circle cx="344.4" cy="69.4" r="0.45"/><circle cx="350.2" cy="66.9" r="0.45"/><circle cx="359.5" cy="68.5" r="0.45"/><circle cx="349.0" cy="71.5" r="0.45"/><circle cx="350.2" cy="72.6" r="0.45"/><circle cx="350.8" cy="71.1" r="0.45"/><circle cx="336.7" cy="68.0" r="0.45"/><circle cx="351.0" cy="69.8" r="0.45"/><circle cx="343.7" cy="68.5" r="0.45"/><circle cx="348.6" cy="75.0" r="0.45"/><circle cx="345.9" cy="67.4" r="0.45"/><circle cx="345.4" cy="71.2" r="0.45"/><circle cx="349.3" cy="71.5" r="0.45"/><circle cx="348.8" cy="73.8" r="0.45"/><circle cx="360.5" cy="66.1" r="0.45"/><circle cx="350.1" cy="69.6" r="0.45"/><circle cx="352.4" cy="71.2" r="0.45"/><circle cx="346.6" cy="67.9" r="0.45"/><circle cx="339.8" cy="67.3" r="0.45"/><circle cx="353.5" cy="72.4" r="0.45"/><circle cx="348.9" cy="72.3" r="0.45"/><circle cx="345.1" cy="70.7" r="0.45"/><circle cx="349.3" cy="72.4" r="0.45"/><circle cx="348.5" cy="70.0" r="0.45"/><circle cx="348.1" cy="68.2" r="0.45"/><circle cx="363.5" cy="72.3" r="0.45"/><circle cx="353.5" cy="73.4" r="0.45"/><circle cx="361.3" cy="75.1" r="0.45"/><circle cx="354.0" cy="66.4" r="0.45"/><circle cx="343.3" cy="71.4" r="0.45"/><circle cx="352.3" cy="66.9" r="0.45"/><circle cx="346.5" cy="69.1" r="0.45"/><circle cx="349.4" cy="71.7" r="0.45"/><circle cx="347.1" cy="66.2" r="0.45"/><circle cx="348.3" cy="74.1" r="0.45"/><circle cx="351.9" cy="72.8" r="0.45"/><circle cx="352.1" cy="67.8" r="0.45"/><circle cx="352.7" cy="74.0" r="0.45"/><circle cx="361.9" cy="73.1" r="0.45"/><circle cx="346.8" cy="68.4" r="0.45"/><circle cx="343.7" cy="70.9" r="0.45"/><circle cx="348.8" cy="72.8" r="0.45"/><circle cx="363.8" cy="70.4" r="0.45"/><circle cx="353.4" cy="72.2" r="0.45"/><circle cx="350.8" cy="69.8" r="0.45"/><circle cx="348.2" cy="67.6" r="0.45"/><circle cx="350.2" cy="70.4" r="0.45"/><circle cx="351.1" cy="67.5" r="0.45"/><circle cx="349.3" cy="70.7" r="0.45"/><circle cx="352.9" cy="66.8" r="0.45"/><circle cx="351.7" cy="73.9" r="0.45"/><circle cx="352.9" cy="69.2" r="0.45"/><circle cx="345.8" cy="69.7" r="0.45"/><circle cx="348.0" cy="68.3" r="0.45"/><circle cx="351.4" cy="71.2" r="0.45"/><circle cx="343.1" cy="67.9" r="0.45"/></g>
<g fill="#a0205a" fill-opacity="0.8"><circle cx="345.4" cy="81.9" r="0.45"/><circle cx="338.8" cy="75.8" r="0.45"/><circle cx="346.7" cy="80.8" r="0.45"/><circle cx="345.3" cy="75.8" r="0.45"/><circle cx="345.6" cy="78.3" r="0.45"/><circle cx="348.0" cy="76.5" r="0.45"/><circle cx="344.9" cy="79.5" r="0.45"/><circle cx="351.8" cy="77.3" r="0.45"/><circle cx="349.3" cy="77.5" r="0.45"/><circle cx="350.4" cy="85.8" r="0.45"/><circle cx="343.6" cy="81.1" r="0.45"/><circle cx="340.4" cy="83.0" r="0.45"/><circle cx="353.3" cy="79.6" r="0.45"/><circle cx="339.2" cy="80.9" r="0.45"/><circle cx="352.9" cy="83.4" r="0.45"/><circle cx="341.9" cy="84.6" r="0.45"/><circle cx="338.6" cy="83.6" r="0.45"/><circle cx="357.3" cy="82.2" r="0.45"/><circle cx="352.7" cy="78.3" r="0.45"/><circle cx="338.6" cy="79.1" r="0.45"/><circle cx="344.8" cy="79.3" r="0.45"/><circle cx="350.2" cy="79.0" r="0.45"/><circle cx="347.2" cy="81.0" r="0.45"/><circle cx="346.0" cy="86.1" r="0.45"/><circle cx="348.7" cy="79.8" r="0.45"/><circle cx="344.8" cy="77.2" r="0.45"/><circle cx="354.1" cy="80.0" r="0.45"/><circle cx="339.5" cy="77.5" r="0.45"/><circle cx="345.2" cy="77.9" r="0.45"/><circle cx="349.0" cy="80.0" r="0.45"/><circle cx="338.9" cy="79.7" r="0.45"/><circle cx="345.4" cy="81.3" r="0.45"/><circle cx="343.3" cy="80.6" r="0.45"/><circle cx="336.0" cy="75.6" r="0.45"/><circle cx="350.7" cy="83.2" r="0.45"/><circle cx="345.9" cy="77.3" r="0.45"/><circle cx="341.2" cy="81.9" r="0.45"/><circle cx="349.9" cy="75.8" r="0.45"/><circle cx="334.7" cy="84.7" r="0.45"/><circle cx="346.9" cy="76.3" r="0.45"/><circle cx="346.3" cy="82.7" r="0.45"/><circle cx="352.8" cy="80.9" r="0.45"/><circle cx="359.5" cy="77.3" r="0.45"/><circle cx="346.0" cy="83.3" r="0.45"/><circle cx="342.2" cy="77.0" r="0.45"/><circle cx="343.8" cy="79.2" r="0.45"/><circle cx="339.5" cy="81.2" r="0.45"/><circle cx="349.3" cy="79.8" r="0.45"/><circle cx="356.2" cy="78.3" r="0.45"/><circle cx="353.8" cy="77.5" r="0.45"/><circle cx="347.2" cy="78.9" r="0.45"/><circle cx="343.0" cy="77.3" r="0.45"/><circle cx="343.9" cy="76.9" r="0.45"/><circle cx="342.7" cy="77.6" r="0.45"/><circle cx="339.7" cy="79.0" r="0.45"/><circle cx="350.7" cy="78.6" r="0.45"/><circle cx="343.0" cy="84.4" r="0.45"/><circle cx="351.9" cy="82.8" r="0.45"/><circle cx="352.9" cy="78.3" r="0.45"/><circle cx="345.2" cy="83.5" r="0.45"/><circle cx="342.7" cy="79.1" r="0.45"/><circle cx="348.3" cy="80.8" r="0.45"/><circle cx="344.3" cy="83.0" r="0.45"/><circle cx="344.9" cy="82.1" r="0.45"/><circle cx="352.4" cy="81.9" r="0.45"/><circle cx="338.1" cy="77.3" r="0.45"/><circle cx="348.9" cy="84.9" r="0.45"/><circle cx="338.7" cy="80.6" r="0.45"/><circle cx="340.9" cy="76.9" r="0.45"/><circle cx="344.3" cy="82.0" r="0.45"/><circle cx="347.3" cy="83.7" r="0.45"/><circle cx="340.1" cy="82.7" r="0.45"/><circle cx="351.6" cy="79.8" r="0.45"/><circle cx="348.9" cy="77.5" r="0.45"/><circle cx="339.5" cy="78.0" r="0.45"/><circle cx="342.1" cy="89.9" r="0.45"/><circle cx="343.1" cy="85.4" r="0.45"/><circle cx="347.2" cy="80.6" r="0.45"/><circle cx="350.5" cy="76.7" r="0.45"/><circle cx="351.5" cy="80.9" r="0.45"/><circle cx="336.9" cy="81.7" r="0.45"/><circle cx="349.3" cy="81.1" r="0.45"/><circle cx="355.5" cy="78.0" r="0.45"/><circle cx="349.1" cy="82.2" r="0.45"/><circle cx="340.6" cy="83.8" r="0.45"/><circle cx="349.1" cy="75.6" r="0.45"/><circle cx="346.4" cy="75.4" r="0.45"/><circle cx="348.7" cy="78.5" r="0.45"/><circle cx="346.4" cy="79.3" r="0.45"/><circle cx="340.4" cy="77.9" r="0.45"/><circle cx="341.4" cy="77.3" r="0.45"/><circle cx="339.7" cy="80.7" r="0.45"/><circle cx="345.2" cy="76.5" r="0.45"/><circle cx="340.1" cy="82.4" r="0.45"/><circle cx="342.0" cy="81.6" r="0.45"/><circle cx="339.5" cy="79.5" r="0.45"/><circle cx="348.1" cy="82.3" r="0.45"/><circle cx="350.8" cy="83.2" r="0.45"/><circle cx="343.8" cy="78.7" r="0.45"/><circle cx="350.7" cy="78.0" r="0.45"/><circle cx="349.9" cy="78.9" r="0.45"/><circle cx="334.2" cy="83.0" r="0.45"/><circle cx="347.9" cy="79.6" r="0.45"/><circle cx="339.5" cy="77.8" r="0.45"/><circle cx="355.1" cy="76.5" r="0.45"/><circle cx="338.8" cy="79.0" r="0.45"/><circle cx="343.6" cy="76.2" r="0.45"/><circle cx="340.9" cy="83.3" r="0.45"/><circle cx="337.3" cy="86.5" r="0.45"/><circle cx="342.7" cy="75.6" r="0.45"/><circle cx="350.7" cy="81.5" r="0.45"/><circle cx="339.7" cy="82.2" r="0.45"/><circle cx="335.0" cy="76.2" r="0.45"/><circle cx="352.8" cy="78.6" r="0.45"/><circle cx="338.2" cy="81.4" r="0.45"/><circle cx="351.5" cy="79.4" r="0.45"/><circle cx="335.2" cy="78.3" r="0.45"/><circle cx="348.5" cy="82.3" r="0.45"/><circle cx="357.1" cy="78.6" r="0.45"/><circle cx="343.1" cy="79.4" r="0.45"/><circle cx="353.2" cy="76.1" r="0.45"/><circle cx="350.8" cy="77.1" r="0.45"/><circle cx="348.8" cy="82.0" r="0.45"/><circle cx="338.9" cy="79.2" r="0.45"/><circle cx="347.4" cy="81.6" r="0.45"/><circle cx="340.4" cy="75.9" r="0.45"/><circle cx="334.5" cy="88.6" r="0.45"/><circle cx="344.8" cy="78.7" r="0.45"/><circle cx="337.0" cy="82.8" r="0.45"/><circle cx="342.8" cy="84.7" r="0.45"/><circle cx="351.1" cy="79.6" r="0.45"/><circle cx="350.4" cy="75.5" r="0.45"/><circle cx="344.0" cy="77.4" r="0.45"/><circle cx="338.4" cy="79.6" r="0.45"/><circle cx="345.1" cy="84.7" r="0.45"/><circle cx="340.5" cy="77.8" r="0.45"/><circle cx="348.5" cy="81.0" r="0.45"/><circle cx="346.2" cy="77.8" r="0.45"/><circle cx="349.0" cy="80.8" r="0.45"/><circle cx="334.9" cy="78.6" r="0.45"/><circle cx="346.9" cy="79.7" r="0.45"/><circle cx="346.7" cy="76.3" r="0.45"/><circle cx="344.8" cy="76.2" r="0.45"/><circle cx="348.3" cy="82.0" r="0.45"/><circle cx="356.5" cy="84.1" r="0.45"/><circle cx="341.2" cy="77.9" r="0.45"/><circle cx="340.4" cy="80.6" r="0.45"/><circle cx="357.9" cy="82.1" r="0.45"/><circle cx="338.2" cy="81.4" r="0.45"/><circle cx="346.0" cy="80.6" r="0.45"/><circle cx="356.7" cy="76.5" r="0.45"/><circle cx="340.9" cy="86.6" r="0.45"/><circle cx="348.1" cy="76.7" r="0.45"/><circle cx="346.3" cy="83.1" r="0.45"/><circle cx="345.2" cy="77.0" r="0.45"/><circle cx="341.6" cy="86.3" r="0.45"/><circle cx="335.4" cy="80.1" r="0.45"/><circle cx="346.2" cy="81.7" r="0.45"/><circle cx="343.6" cy="81.3" r="0.45"/><circle cx="350.9" cy="79.0" r="0.45"/><circle cx="343.3" cy="78.8" r="0.45"/><circle cx="340.2" cy="78.8" r="0.45"/><circle cx="344.2" cy="80.3" r="0.45"/><circle cx="354.0" cy="84.2" r="0.45"/><circle cx="343.3" cy="81.7" r="0.45"/><circle cx="347.8" cy="82.2" r="0.45"/><circle cx="346.1" cy="80.5" r="0.45"/><circle cx="343.2" cy="76.7" r="0.45"/><circle cx="351.2" cy="84.2" r="0.45"/><circle cx="350.0" cy="81.1" r="0.45"/><circle cx="347.6" cy="77.9" r="0.45"/><circle cx="335.3" cy="81.9" r="0.45"/><circle cx="347.2" cy="77.5" r="0.45"/><circle cx="340.2" cy="84.1" r="0.45"/><circle cx="335.2" cy="85.8" r="0.45"/><circle cx="349.8" cy="88.0" r="0.45"/><circle cx="341.7" cy="79.4" r="0.45"/><circle cx="343.0" cy="80.1" r="0.45"/><circle cx="344.7" cy="76.8" r="0.45"/><circle cx="352.4" cy="76.7" r="0.45"/><circle cx="343.0" cy="81.5" r="0.45"/><circle cx="342.8" cy="77.9" r="0.45"/><circle cx="348.1" cy="78.2" r="0.45"/><circle cx="338.5" cy="79.1" r="0.45"/><circle cx="344.7" cy="85.6" r="0.45"/><circle cx="339.4" cy="83.0" r="0.45"/><circle cx="341.3" cy="78.2" r="0.45"/><circle cx="344.0" cy="80.5" r="0.45"/><circle cx="351.2" cy="85.8" r="0.45"/><circle cx="342.2" cy="84.3" r="0.45"/><circle cx="352.0" cy="82.4" r="0.45"/><circle cx="341.4" cy="82.7" r="0.45"/><circle cx="345.4" cy="80.8" r="0.45"/><circle cx="344.4" cy="81.9" r="0.45"/><circle cx="352.7" cy="83.6" r="0.45"/><circle cx="344.8" cy="83.1" r="0.45"/><circle cx="354.7" cy="76.1" r="0.45"/><circle cx="349.3" cy="81.6" r="0.45"/><circle cx="354.9" cy="80.5" r="0.45"/><circle cx="343.1" cy="76.6" r="0.45"/><circle cx="338.5" cy="82.3" r="0.45"/><circle cx="344.6" cy="76.9" r="0.45"/><circle cx="349.2" cy="76.7" r="0.45"/><circle cx="343.4" cy="77.8" r="0.45"/><circle cx="355.9" cy="84.8" r="0.45"/><circle cx="347.7" cy="79.8" r="0.45"/><circle cx="348.1" cy="81.5" r="0.45"/><circle cx="344.1" cy="82.8" r="0.45"/><circle cx="351.0" cy="80.3" r="0.45"/><circle cx="343.6" cy="77.8" r="0.45"/><circle cx="350.2" cy="75.5" r="0.45"/><circle cx="345.0" cy="76.8" r="0.45"/><circle cx="337.6" cy="81.7" r="0.45"/><circle cx="345.8" cy="79.6" r="0.45"/><circle cx="345.6" cy="80.5" r="0.45"/><circle cx="351.0" cy="75.6" r="0.45"/><circle cx="350.3" cy="80.3" r="0.45"/><circle cx="354.1" cy="83.6" r="0.45"/><circle cx="349.3" cy="87.2" r="0.45"/><circle cx="346.0" cy="78.0" r="0.45"/><circle cx="344.0" cy="76.1" r="0.45"/><circle cx="345.5" cy="81.0" r="0.45"/><circle cx="351.9" cy="78.2" r="0.45"/><circle cx="354.3" cy="77.2" r="0.45"/><circle cx="341.4" cy="76.7" r="0.45"/><circle cx="354.8" cy="81.4" r="0.45"/><circle cx="339.5" cy="81.4" r="0.45"/><circle cx="348.8" cy="78.7" r="0.45"/><circle cx="346.1" cy="78.4" r="0.45"/><circle cx="345.5" cy="84.0" r="0.45"/><circle cx="354.4" cy="78.5" r="0.45"/><circle cx="341.6" cy="78.8" r="0.45"/><circle cx="351.3" cy="80.7" r="0.45"/><circle cx="342.6" cy="80.8" r="0.45"/><circle cx="344.8" cy="81.3" r="0.45"/><circle cx="346.3" cy="82.2" r="0.45"/><circle cx="339.5" cy="79.1" r="0.45"/><circle cx="351.1" cy="78.2" r="0.45"/><circle cx="342.2" cy="86.6" r="0.45"/><circle cx="350.9" cy="83.1" r="0.45"/><circle cx="340.5" cy="85.2" r="0.45"/><circle cx="336.3" cy="77.7" r="0.45"/><circle cx="350.3" cy="84.2" r="0.45"/><circle cx="340.6" cy="77.2" r="0.45"/><circle cx="349.7" cy="81.5" r="0.45"/><circle cx="343.4" cy="81.4" r="0.45"/><circle cx="350.5" cy="80.6" r="0.45"/><circle cx="349.0" cy="84.8" r="0.45"/><circle cx="343.2" cy="80.1" r="0.45"/><circle cx="343.0" cy="83.1" r="0.45"/><circle cx="343.6" cy="81.2" r="0.45"/><circle cx="346.8" cy="79.7" r="0.45"/><circle cx="356.0" cy="79.2" r="0.45"/><circle cx="354.2" cy="82.4" r="0.45"/><circle cx="353.7" cy="78.9" r="0.45"/><circle cx="351.4" cy="82.1" r="0.45"/><circle cx="342.4" cy="80.4" r="0.45"/><circle cx="345.3" cy="79.4" r="0.45"/><circle cx="353.6" cy="77.0" r="0.45"/><circle cx="343.4" cy="77.3" r="0.45"/><circle cx="346.1" cy="81.5" r="0.45"/><circle cx="356.2" cy="80.6" r="0.45"/><circle cx="348.7" cy="76.9" r="0.45"/><circle cx="349.4" cy="84.2" r="0.45"/><circle cx="351.2" cy="85.0" r="0.45"/><circle cx="344.2" cy="81.5" r="0.45"/><circle cx="348.4" cy="76.7" r="0.45"/><circle cx="340.9" cy="82.9" r="0.45"/><circle cx="338.3" cy="84.5" r="0.45"/><circle cx="346.1" cy="80.5" r="0.45"/><circle cx="338.3" cy="77.4" r="0.45"/><circle cx="338.9" cy="79.6" r="0.45"/><circle cx="348.8" cy="82.0" r="0.45"/><circle cx="343.9" cy="78.8" r="0.45"/><circle cx="344.6" cy="77.5" r="0.45"/><circle cx="347.4" cy="80.0" r="0.45"/><circle cx="342.4" cy="80.4" r="0.45"/><circle cx="345.9" cy="79.2" r="0.45"/><circle cx="347.5" cy="75.8" r="0.45"/><circle cx="344.2" cy="84.7" r="0.45"/><circle cx="339.8" cy="79.2" r="0.45"/><circle cx="342.6" cy="82.8" r="0.45"/><circle cx="349.0" cy="78.3" r="0.45"/><circle cx="344.2" cy="83.2" r="0.45"/><circle cx="340.9" cy="78.2" r="0.45"/><circle cx="346.9" cy="80.9" r="0.45"/><circle cx="343.0" cy="83.1" r="0.45"/><circle cx="358.9" cy="78.1" r="0.45"/><circle cx="354.1" cy="78.3" r="0.45"/><circle cx="346.8" cy="78.3" r="0.45"/><circle cx="343.7" cy="84.0" r="0.45"/><circle cx="352.6" cy="78.3" r="0.45"/><circle cx="343.0" cy="77.1" r="0.45"/><circle cx="339.1" cy="85.7" r="0.45"/><circle cx="349.8" cy="79.9" r="0.45"/><circle cx="343.2" cy="76.0" r="0.45"/><circle cx="353.6" cy="82.2" r="0.45"/><circle cx="340.5" cy="82.9" r="0.45"/><circle cx="339.6" cy="81.7" r="0.45"/><circle cx="340.5" cy="78.1" r="0.45"/><circle cx="348.9" cy="81.0" r="0.45"/><circle cx="351.8" cy="76.6" r="0.45"/><circle cx="355.1" cy="84.1" r="0.45"/><circle cx="345.9" cy="81.1" r="0.45"/><circle cx="341.5" cy="79.0" r="0.45"/><circle cx="338.4" cy="79.8" r="0.45"/><circle cx="347.1" cy="84.1" r="0.45"/><circle cx="351.5" cy="82.3" r="0.45"/><circle cx="343.9" cy="78.7" r="0.45"/><circle cx="344.0" cy="80.3" r="0.45"/><circle cx="334.9" cy="82.2" r="0.45"/><circle cx="337.0" cy="77.7" r="0.45"/><circle cx="346.1" cy="77.7" r="0.45"/><circle cx="355.6" cy="79.2" r="0.45"/><circle cx="355.1" cy="83.6" r="0.45"/><circle cx="343.1" cy="80.9" r="0.45"/><circle cx="353.5" cy="78.3" r="0.45"/><circle cx="346.5" cy="77.6" r="0.45"/><circle cx="346.3" cy="78.3" r="0.45"/><circle cx="346.5" cy="83.0" r="0.45"/><circle cx="354.0" cy="80.0" r="0.45"/><circle cx="347.2" cy="82.5" r="0.45"/><circle cx="344.3" cy="75.8" r="0.45"/><circle cx="352.4" cy="76.3" r="0.45"/><circle cx="351.4" cy="76.2" r="0.45"/><circle cx="356.5" cy="75.9" r="0.45"/><circle cx="350.9" cy="84.7" r="0.45"/><circle cx="340.5" cy="84.6" r="0.45"/><circle cx="350.2" cy="81.9" r="0.45"/><circle cx="345.7" cy="78.4" r="0.45"/><circle cx="343.8" cy="78.5" r="0.45"/><circle cx="335.7" cy="77.5" r="0.45"/><circle cx="356.4" cy="84.8" r="0.45"/><circle cx="343.9" cy="77.0" r="0.45"/><circle cx="348.3" cy="83.2" r="0.45"/><circle cx="350.2" cy="75.5" r="0.45"/><circle cx="346.9" cy="80.0" r="0.45"/><circle cx="354.3" cy="83.6" r="0.45"/><circle cx="349.0" cy="83.7" r="0.45"/><circle cx="343.7" cy="84.8" r="0.45"/><circle cx="343.5" cy="80.9" r="0.45"/><circle cx="351.3" cy="76.3" r="0.45"/><circle cx="346.9" cy="79.3" r="0.45"/><circle cx="344.1" cy="81.2" r="0.45"/><circle cx="346.5" cy="78.6" r="0.45"/><circle cx="350.6" cy="85.6" r="0.45"/><circle cx="343.4" cy="76.3" r="0.45"/><circle cx="342.5" cy="79.8" r="0.45"/><circle cx="349.4" cy="76.5" r="0.45"/><circle cx="351.8" cy="76.0" r="0.45"/><circle cx="350.8" cy="81.0" r="0.45"/><circle cx="348.7" cy="87.0" r="0.45"/><circle cx="344.5" cy="78.9" r="0.45"/><circle cx="348.7" cy="82.5" r="0.45"/><circle cx="338.3" cy="80.5" r="0.45"/><circle cx="341.7" cy="81.7" r="0.45"/><circle cx="353.9" cy="79.7" r="0.45"/><circle cx="345.4" cy="80.1" r="0.45"/><circle cx="349.2" cy="80.1" r="0.45"/><circle cx="343.7" cy="77.0" r="0.45"/><circle cx="345.0" cy="83.7" r="0.45"/><circle cx="345.4" cy="84.2" r="0.45"/><circle cx="347.6" cy="79.5" r="0.45"/><circle cx="336.4" cy="77.2" r="0.45"/><circle cx="340.3" cy="75.7" r="0.45"/><circle cx="342.8" cy="81.7" r="0.45"/><circle cx="354.4" cy="77.5" r="0.45"/><circle cx="342.6" cy="85.3" r="0.45"/><circle cx="342.3" cy="77.0" r="0.45"/><circle cx="340.2" cy="78.3" r="0.45"/><circle cx="351.1" cy="80.7" r="0.45"/><circle cx="338.0" cy="89.1" r="0.45"/><circle cx="340.3" cy="79.9" r="0.45"/><circle cx="346.2" cy="82.1" r="0.45"/><circle cx="344.1" cy="81.1" r="0.45"/><circle cx="358.1" cy="79.8" r="0.45"/><circle cx="339.8" cy="80.6" r="0.45"/><circle cx="341.4" cy="78.2" r="0.45"/><circle cx="347.1" cy="80.7" r="0.45"/><circle cx="344.4" cy="82.4" r="0.45"/><circle cx="351.1" cy="78.2" r="0.45"/><circle cx="353.0" cy="77.2" r="0.45"/><circle cx="349.3" cy="80.6" r="0.45"/><circle cx="339.6" cy="84.4" r="0.45"/><circle cx="335.1" cy="82.7" r="0.45"/><circle cx="352.3" cy="81.2" r="0.45"/><circle cx="349.9" cy="77.8" r="0.45"/><circle cx="345.9" cy="80.3" r="0.45"/><circle cx="348.4" cy="81.9" r="0.45"/><circle cx="344.8" cy="77.1" r="0.45"/><circle cx="342.8" cy="80.9" r="0.45"/><circle cx="343.6" cy="77.6" r="0.45"/><circle cx="344.0" cy="78.6" r="0.45"/><circle cx="344.2" cy="81.1" r="0.45"/><circle cx="348.8" cy="83.6" r="0.45"/><circle cx="352.1" cy="75.9" r="0.45"/><circle cx="349.7" cy="78.3" r="0.45"/><circle cx="341.4" cy="84.8" r="0.45"/><circle cx="342.4" cy="76.5" r="0.45"/><circle cx="343.6" cy="76.6" r="0.45"/><circle cx="351.8" cy="80.8" r="0.45"/><circle cx="354.1" cy="80.9" r="0.45"/><circle cx="342.5" cy="83.1" r="0.45"/><circle cx="342.2" cy="77.9" r="0.45"/><circle cx="345.0" cy="79.6" r="0.45"/><circle cx="352.9" cy="77.4" r="0.45"/><circle cx="348.0" cy="79.4" r="0.45"/><circle cx="338.7" cy="75.7" r="0.45"/><circle cx="344.7" cy="80.9" r="0.45"/><circle cx="347.9" cy="81.2" r="0.45"/><circle cx="346.3" cy="77.9" r="0.45"/><circle cx="348.5" cy="76.0" r="0.45"/><circle cx="338.2" cy="78.3" r="0.45"/><circle cx="337.7" cy="77.7" r="0.45"/><circle cx="341.7" cy="77.6" r="0.45"/><circle cx="345.7" cy="76.7" r="0.45"/><circle cx="346.8" cy="76.4" r="0.45"/><circle cx="341.4" cy="80.3" r="0.45"/><circle cx="346.5" cy="79.9" r="0.45"/><circle cx="337.3" cy="80.3" r="0.45"/><circle cx="346.9" cy="76.1" r="0.45"/><circle cx="350.3" cy="79.3" r="0.45"/><circle cx="346.1" cy="77.9" r="0.45"/><circle cx="349.2" cy="79.8" r="0.45"/><circle cx="352.6" cy="81.1" r="0.45"/><circle cx="342.4" cy="78.7" r="0.45"/><circle cx="351.3" cy="78.2" r="0.45"/><circle cx="348.2" cy="81.3" r="0.45"/><circle cx="346.8" cy="80.2" r="0.45"/><circle cx="346.8" cy="76.9" r="0.45"/><circle cx="353.0" cy="79.0" r="0.45"/><circle cx="342.4" cy="77.0" r="0.45"/><circle cx="348.1" cy="75.7" r="0.45"/><circle cx="340.2" cy="86.5" r="0.45"/><circle cx="353.6" cy="83.2" r="0.45"/><circle cx="353.9" cy="81.6" r="0.45"/><circle cx="336.2" cy="83.7" r="0.45"/><circle cx="353.2" cy="81.2" r="0.45"/><circle cx="334.6" cy="83.8" r="0.45"/><circle cx="353.9" cy="77.8" r="0.45"/><circle cx="346.7" cy="82.2" r="0.45"/><circle cx="345.5" cy="83.3" r="0.45"/><circle cx="346.5" cy="81.9" r="0.45"/><circle cx="340.2" cy="90.5" r="0.45"/><circle cx="347.6" cy="84.1" r="0.45"/><circle cx="352.6" cy="85.5" r="0.45"/><circle cx="349.2" cy="77.4" r="0.45"/><circle cx="344.9" cy="82.7" r="0.45"/><circle cx="350.8" cy="84.1" r="0.45"/><circle cx="340.6" cy="77.2" r="0.45"/><circle cx="335.1" cy="75.9" r="0.45"/><circle cx="349.1" cy="86.7" r="0.45"/><circle cx="339.3" cy="84.3" r="0.45"/><circle cx="348.5" cy="77.8" r="0.45"/><circle cx="345.6" cy="80.3" r="0.45"/><circle cx="358.4" cy="85.8" r="0.45"/><circle cx="359.2" cy="80.0" r="0.45"/><circle cx="351.7" cy="84.3" r="0.45"/><circle cx="349.0" cy="80.8" r="0.45"/><circle cx="344.9" cy="78.1" r="0.45"/><circle cx="338.8" cy="86.3" r="0.45"/><circle cx="347.5" cy="79.4" r="0.45"/><circle cx="347.0" cy="85.9" r="0.45"/><circle cx="345.4" cy="78.6" r="0.45"/><circle cx="341.6" cy="79.4" r="0.45"/><circle cx="343.4" cy="80.2" r="0.45"/><circle cx="341.0" cy="86.3" r="0.45"/><circle cx="351.0" cy="82.4" r="0.45"/><circle cx="350.2" cy="82.4" r="0.45"/><circle cx="349.9" cy="84.4" r="0.45"/><circle cx="351.9" cy="84.2" r="0.45"/><circle cx="343.1" cy="79.5" r="0.45"/><circle cx="341.7" cy="82.9" r="0.45"/><circle cx="350.9" cy="77.9" r="0.45"/><circle cx="349.4" cy="88.7" r="0.45"/><circle cx="353.2" cy="75.6" r="0.45"/><circle cx="345.5" cy="81.7" r="0.45"/><circle cx="345.8" cy="80.9" r="0.45"/><circle cx="352.9" cy="80.7" r="0.45"/><circle cx="339.6" cy="82.0" r="0.45"/><circle cx="345.4" cy="79.9" r="0.45"/><circle cx="338.7" cy="78.3" r="0.45"/><circle cx="352.7" cy="75.4" r="0.45"/><circle cx="341.8" cy="81.4" r="0.45"/><circle cx="341.5" cy="81.8" r="0.45"/><circle cx="343.2" cy="80.6" r="0.45"/><circle cx="346.6" cy="79.5" r="0.45"/><circle cx="345.8" cy="84.4" r="0.45"/><circle cx="342.8" cy="81.4" r="0.45"/><circle cx="346.9" cy="81.2" r="0.45"/><circle cx="347.6" cy="78.9" r="0.45"/><circle cx="344.2" cy="76.5" r="0.45"/><circle cx="341.4" cy="75.9" r="0.45"/><circle cx="339.6" cy="88.3" r="0.45"/><circle cx="355.9" cy="79.5" r="0.45"/><circle cx="350.3" cy="76.1" r="0.45"/><circle cx="346.8" cy="84.5" r="0.45"/><circle cx="345.8" cy="76.0" r="0.45"/><circle cx="344.6" cy="76.0" r="0.45"/><circle cx="337.8" cy="78.7" r="0.45"/><circle cx="343.7" cy="76.7" r="0.45"/><circle cx="340.8" cy="76.2" r="0.45"/><circle cx="347.4" cy="84.4" r="0.45"/><circle cx="344.8" cy="87.3" r="0.45"/><circle cx="336.5" cy="80.5" r="0.45"/><circle cx="339.2" cy="78.9" r="0.45"/><circle cx="346.6" cy="81.5" r="0.45"/><circle cx="352.6" cy="77.6" r="0.45"/><circle cx="338.7" cy="78.8" r="0.45"/><circle cx="347.7" cy="77.0" r="0.45"/><circle cx="351.2" cy="85.4" r="0.45"/><circle cx="337.7" cy="80.8" r="0.45"/><circle cx="347.2" cy="78.7" r="0.45"/><circle cx="337.7" cy="84.1" r="0.45"/><circle cx="347.3" cy="77.8" r="0.45"/><circle cx="348.6" cy="81.8" r="0.45"/><circle cx="350.5" cy="81.5" r="0.45"/><circle cx="343.5" cy="80.0" r="0.45"/><circle cx="343.8" cy="75.8" r="0.45"/><circle cx="335.4" cy="80.4" r="0.45"/><circle cx="346.2" cy="77.5" r="0.45"/><circle cx="343.6" cy="76.4" r="0.45"/><circle cx="341.6" cy="79.2" r="0.45"/><circle cx="342.2" cy="81.9" r="0.45"/><circle cx="345.2" cy="80.0" r="0.45"/><circle cx="348.4" cy="84.0" r="0.45"/><circle cx="349.5" cy="80.3" r="0.45"/><circle cx="345.0" cy="76.7" r="0.45"/><circle cx="344.0" cy="81.9" r="0.45"/><circle cx="347.3" cy="78.1" r="0.45"/><circle cx="347.9" cy="83.1" r="0.45"/><circle cx="344.8" cy="80.3" r="0.45"/><circle cx="340.6" cy="80.7" r="0.45"/><circle cx="344.8" cy="76.6" r="0.45"/><circle cx="338.7" cy="82.3" r="0.45"/><circle cx="348.1" cy="76.4" r="0.45"/><circle cx="340.1" cy="82.6" r="0.45"/><circle cx="349.5" cy="78.4" r="0.45"/><circle cx="355.3" cy="78.5" r="0.45"/><circle cx="339.8" cy="83.3" r="0.45"/><circle cx="344.9" cy="80.7" r="0.45"/><circle cx="346.2" cy="76.0" r="0.45"/><circle cx="339.1" cy="78.8" r="0.45"/><circle cx="354.2" cy="76.0" r="0.45"/><circle cx="353.9" cy="80.3" r="0.45"/><circle cx="339.5" cy="80.4" r="0.45"/><circle cx="349.3" cy="76.3" r="0.45"/><circle cx="339.5" cy="81.0" r="0.45"/><circle cx="334.8" cy="79.0" r="0.45"/><circle cx="344.6" cy="80.1" r="0.45"/><circle cx="349.1" cy="81.2" r="0.45"/><circle cx="355.8" cy="82.6" r="0.45"/><circle cx="348.1" cy="80.4" r="0.45"/><circle cx="354.5" cy="81.3" r="0.45"/><circle cx="344.3" cy="75.5" r="0.45"/><circle cx="354.7" cy="81.4" r="0.45"/><circle cx="339.1" cy="81.9" r="0.45"/><circle cx="357.1" cy="79.4" r="0.45"/><circle cx="348.3" cy="78.0" r="0.45"/><circle cx="342.3" cy="83.3" r="0.45"/><circle cx="345.3" cy="82.3" r="0.45"/><circle cx="344.2" cy="82.0" r="0.45"/><circle cx="350.8" cy="75.9" r="0.45"/><circle cx="339.8" cy="79.2" r="0.45"/><circle cx="350.9" cy="80.5" r="0.45"/><circle cx="348.9" cy="77.3" r="0.45"/><circle cx="346.6" cy="80.6" r="0.45"/><circle cx="340.3" cy="78.7" r="0.45"/><circle cx="339.2" cy="80.4" r="0.45"/><circle cx="341.0" cy="77.8" r="0.45"/><circle cx="347.3" cy="77.2" r="0.45"/><circle cx="352.7" cy="77.3" r="0.45"/><circle cx="350.9" cy="80.5" r="0.45"/><circle cx="340.0" cy="78.7" r="0.45"/><circle cx="341.1" cy="78.2" r="0.45"/><circle cx="344.4" cy="85.8" r="0.45"/><circle cx="343.6" cy="85.0" r="0.45"/><circle cx="334.4" cy="82.0" r="0.45"/><circle cx="352.0" cy="80.9" r="0.45"/><circle cx="344.8" cy="78.6" r="0.45"/><circle cx="347.5" cy="78.4" r="0.45"/><circle cx="342.9" cy="78.2" r="0.45"/><circle cx="352.8" cy="77.3" r="0.45"/><circle cx="348.2" cy="75.5" r="0.45"/><circle cx="344.9" cy="81.9" r="0.45"/><circle cx="347.8" cy="77.8" r="0.45"/><circle cx="349.6" cy="78.3" r="0.45"/><circle cx="348.2" cy="80.5" r="0.45"/><circle cx="338.4" cy="82.2" r="0.45"/><circle cx="345.4" cy="87.3" r="0.45"/><circle cx="344.6" cy="77.6" r="0.45"/><circle cx="354.7" cy="81.4" r="0.45"/><circle cx="357.0" cy="81.3" r="0.45"/><circle cx="344.8" cy="82.0" r="0.45"/><circle cx="341.4" cy="77.9" r="0.45"/><circle cx="342.8" cy="78.7" r="0.45"/><circle cx="350.5" cy="77.8" r="0.45"/><circle cx="347.9" cy="77.8" r="0.45"/><circle cx="344.8" cy="80.1" r="0.45"/><circle cx="339.7" cy="83.0" r="0.45"/><circle cx="347.3" cy="84.0" r="0.45"/><circle cx="351.6" cy="81.7" r="0.45"/><circle cx="345.1" cy="75.7" r="0.45"/><circle cx="344.7" cy="77.9" r="0.45"/><circle cx="347.4" cy="77.9" r="0.45"/><circle cx="352.8" cy="77.9" r="0.45"/><circle cx="344.6" cy="82.7" r="0.45"/></g>
<rect x="329.5" y="46.5" width="41.10" height="18.80" rx="0.8" fill="none" stroke="#5a5a5a" stroke-width="0.95"/>
<rect x="328.3" y="75.2" width="41.80" height="21.50" rx="0.8" fill="none" stroke="#5a5a5a" stroke-width="0.95"/>
<text x="350.90" y="43.40" font-size="7.4" text-anchor="middle" fill="#111" stroke="#111" stroke-width="0.2">MLP</text>
<text x="292.60" y="89.20" font-size="7.4" fill="#111" textLength="33.8" lengthAdjust="spacingAndGlyphs" stroke="#111" stroke-width="0.2">HSC/MPP</text>
<g fill="#ee30e8" fill-opacity="0.7"><circle cx="460.2" cy="76.1" r="0.45"/><circle cx="441.1" cy="78.0" r="0.45"/><circle cx="448.8" cy="73.4" r="0.45"/><circle cx="460.7" cy="78.4" r="0.45"/><circle cx="454.8" cy="87.5" r="0.45"/><circle cx="460.2" cy="74.0" r="0.45"/><circle cx="458.8" cy="76.4" r="0.45"/><circle cx="446.3" cy="87.0" r="0.45"/><circle cx="455.6" cy="75.7" r="0.45"/><circle cx="452.6" cy="81.7" r="0.45"/><circle cx="457.2" cy="85.2" r="0.45"/><circle cx="463.1" cy="84.9" r="0.45"/><circle cx="456.1" cy="78.8" r="0.45"/><circle cx="453.7" cy="76.2" r="0.45"/><circle cx="443.6" cy="74.2" r="0.45"/><circle cx="449.7" cy="73.9" r="0.45"/><circle cx="466.4" cy="78.3" r="0.45"/><circle cx="466.5" cy="81.1" r="0.45"/><circle cx="464.1" cy="81.8" r="0.45"/><circle cx="452.3" cy="80.9" r="0.45"/><circle cx="454.5" cy="74.4" r="0.45"/><circle cx="466.2" cy="87.4" r="0.45"/><circle cx="449.5" cy="85.4" r="0.45"/><circle cx="463.4" cy="72.9" r="0.45"/><circle cx="459.1" cy="78.8" r="0.45"/><circle cx="459.9" cy="75.3" r="0.45"/><circle cx="447.1" cy="77.2" r="0.45"/><circle cx="463.6" cy="80.8" r="0.45"/><circle cx="462.1" cy="82.3" r="0.45"/><circle cx="449.4" cy="76.8" r="0.45"/><circle cx="459.6" cy="81.8" r="0.45"/><circle cx="458.2" cy="79.5" r="0.45"/><circle cx="458.0" cy="87.1" r="0.45"/><circle cx="440.2" cy="76.9" r="0.45"/><circle cx="476.1" cy="78.1" r="0.45"/><circle cx="442.9" cy="77.6" r="0.45"/><circle cx="446.0" cy="73.7" r="0.45"/><circle cx="458.7" cy="85.3" r="0.45"/><circle cx="460.6" cy="80.2" r="0.45"/><circle cx="464.8" cy="78.0" r="0.45"/><circle cx="450.4" cy="76.5" r="0.45"/><circle cx="459.6" cy="75.7" r="0.45"/><circle cx="451.9" cy="75.3" r="0.45"/><circle cx="445.4" cy="72.1" r="0.45"/><circle cx="456.3" cy="75.3" r="0.45"/><circle cx="457.3" cy="83.8" r="0.45"/><circle cx="459.3" cy="76.8" r="0.45"/><circle cx="448.0" cy="71.8" r="0.45"/><circle cx="459.9" cy="72.8" r="0.45"/><circle cx="460.3" cy="71.8" r="0.45"/><circle cx="458.0" cy="76.6" r="0.45"/><circle cx="464.7" cy="75.1" r="0.45"/><circle cx="454.1" cy="78.2" r="0.45"/><circle cx="457.4" cy="85.1" r="0.45"/><circle cx="455.0" cy="74.4" r="0.45"/><circle cx="454.5" cy="79.3" r="0.45"/><circle cx="458.8" cy="80.3" r="0.45"/><circle cx="446.3" cy="88.9" r="0.45"/><circle cx="471.2" cy="76.8" r="0.45"/><circle cx="447.7" cy="77.7" r="0.45"/><circle cx="460.2" cy="66.3" r="0.45"/><circle cx="457.1" cy="69.9" r="0.45"/><circle cx="460.5" cy="83.6" r="0.45"/><circle cx="465.0" cy="69.8" r="0.45"/><circle cx="467.6" cy="81.4" r="0.45"/><circle cx="454.2" cy="79.4" r="0.45"/><circle cx="468.7" cy="75.4" r="0.45"/><circle cx="456.9" cy="74.3" r="0.45"/><circle cx="465.9" cy="66.6" r="0.45"/><circle cx="467.9" cy="72.3" r="0.45"/><circle cx="464.1" cy="69.2" r="0.45"/><circle cx="449.8" cy="74.1" r="0.45"/><circle cx="463.4" cy="69.2" r="0.45"/><circle cx="461.6" cy="73.9" r="0.45"/><circle cx="466.6" cy="75.5" r="0.45"/><circle cx="460.7" cy="76.2" r="0.45"/><circle cx="470.8" cy="75.3" r="0.45"/><circle cx="456.8" cy="86.5" r="0.45"/><circle cx="457.6" cy="80.3" r="0.45"/><circle cx="451.3" cy="78.0" r="0.45"/><circle cx="452.0" cy="69.8" r="0.45"/><circle cx="446.1" cy="82.5" r="0.45"/><circle cx="460.3" cy="69.7" r="0.45"/><circle cx="471.0" cy="73.7" r="0.45"/><circle cx="454.2" cy="78.2" r="0.45"/><circle cx="448.2" cy="69.2" r="0.45"/><circle cx="451.3" cy="82.7" r="0.45"/><circle cx="464.3" cy="69.4" r="0.45"/><circle cx="466.3" cy="77.2" r="0.45"/><circle cx="460.9" cy="77.2" r="0.45"/><circle cx="460.2" cy="72.2" r="0.45"/><circle cx="450.0" cy="73.6" r="0.45"/><circle cx="454.2" cy="80.0" r="0.45"/><circle cx="447.6" cy="84.7" r="0.45"/><circle cx="452.1" cy="74.2" r="0.45"/><circle cx="462.4" cy="79.1" r="0.45"/><circle cx="454.4" cy="71.9" r="0.45"/><circle cx="449.3" cy="69.3" r="0.45"/><circle cx="465.8" cy="82.2" r="0.45"/><circle cx="471.4" cy="79.4" r="0.45"/><circle cx="459.6" cy="80.6" r="0.45"/><circle cx="464.3" cy="75.8" r="0.45"/><circle cx="459.7" cy="87.4" r="0.45"/><circle cx="444.0" cy="70.2" r="0.45"/><circle cx="449.6" cy="80.6" r="0.45"/><circle cx="466.1" cy="75.4" r="0.45"/><circle cx="462.2" cy="76.8" r="0.45"/><circle cx="459.3" cy="74.4" r="0.45"/><circle cx="456.8" cy="77.0" r="0.45"/><circle cx="465.7" cy="87.7" r="0.45"/><circle cx="443.0" cy="79.6" r="0.45"/><circle cx="457.0" cy="81.7" r="0.45"/><circle cx="465.2" cy="80.8" r="0.45"/><circle cx="463.2" cy="72.4" r="0.45"/><circle cx="443.9" cy="85.0" r="0.45"/><circle cx="466.3" cy="72.4" r="0.45"/><circle cx="466.9" cy="80.2" r="0.45"/><circle cx="449.4" cy="82.6" r="0.45"/><circle cx="451.8" cy="73.4" r="0.45"/><circle cx="445.1" cy="76.0" r="0.45"/><circle cx="464.8" cy="73.8" r="0.45"/><circle cx="442.7" cy="87.3" r="0.45"/><circle cx="471.2" cy="80.3" r="0.45"/><circle cx="452.9" cy="71.2" r="0.45"/><circle cx="444.4" cy="79.7" r="0.45"/><circle cx="467.0" cy="71.9" r="0.45"/><circle cx="457.0" cy="75.7" r="0.45"/><circle cx="455.0" cy="79.4" r="0.45"/><circle cx="473.1" cy="73.9" r="0.45"/><circle cx="463.6" cy="82.2" r="0.45"/><circle cx="454.8" cy="76.3" r="0.45"/><circle cx="446.7" cy="82.2" r="0.45"/><circle cx="452.9" cy="73.8" r="0.45"/><circle cx="457.5" cy="72.9" r="0.45"/><circle cx="449.0" cy="75.6" r="0.45"/><circle cx="468.5" cy="76.0" r="0.45"/><circle cx="461.1" cy="69.9" r="0.45"/><circle cx="442.0" cy="85.8" r="0.45"/><circle cx="453.9" cy="69.6" r="0.45"/><circle cx="456.2" cy="79.9" r="0.45"/><circle cx="443.7" cy="72.7" r="0.45"/><circle cx="459.0" cy="72.6" r="0.45"/><circle cx="463.1" cy="81.6" r="0.45"/><circle cx="460.4" cy="74.9" r="0.45"/><circle cx="456.6" cy="73.9" r="0.45"/><circle cx="456.0" cy="78.5" r="0.45"/><circle cx="454.7" cy="81.7" r="0.45"/><circle cx="477.0" cy="74.4" r="0.45"/><circle cx="459.6" cy="81.0" r="0.45"/><circle cx="462.0" cy="75.9" r="0.45"/><circle cx="453.3" cy="81.8" r="0.45"/><circle cx="461.8" cy="79.4" r="0.45"/><circle cx="450.8" cy="80.0" r="0.45"/><circle cx="463.1" cy="76.1" r="0.45"/><circle cx="462.0" cy="87.5" r="0.45"/><circle cx="442.5" cy="79.9" r="0.45"/><circle cx="448.0" cy="70.4" r="0.45"/><circle cx="455.2" cy="79.6" r="0.45"/><circle cx="457.4" cy="71.4" r="0.45"/><circle cx="445.9" cy="74.3" r="0.45"/><circle cx="457.1" cy="73.0" r="0.45"/><circle cx="445.4" cy="85.5" r="0.45"/><circle cx="450.5" cy="76.2" r="0.45"/><circle cx="452.8" cy="74.2" r="0.45"/><circle cx="457.3" cy="75.6" r="0.45"/><circle cx="461.8" cy="71.3" r="0.45"/><circle cx="445.5" cy="86.4" r="0.45"/><circle cx="456.4" cy="80.7" r="0.45"/><circle cx="466.1" cy="79.7" r="0.45"/><circle cx="457.3" cy="69.5" r="0.45"/><circle cx="444.6" cy="81.7" r="0.45"/><circle cx="462.2" cy="79.8" r="0.45"/><circle cx="444.2" cy="66.7" r="0.45"/><circle cx="448.8" cy="71.3" r="0.45"/><circle cx="458.2" cy="72.1" r="0.45"/><circle cx="469.3" cy="74.0" r="0.45"/><circle cx="452.6" cy="81.2" r="0.45"/><circle cx="459.5" cy="72.6" r="0.45"/><circle cx="463.4" cy="86.3" r="0.45"/><circle cx="447.5" cy="75.8" r="0.45"/><circle cx="448.6" cy="67.6" r="0.45"/><circle cx="461.9" cy="80.4" r="0.45"/><circle cx="464.6" cy="79.1" r="0.45"/><circle cx="441.4" cy="76.9" r="0.45"/><circle cx="451.8" cy="71.3" r="0.45"/><circle cx="448.4" cy="80.7" r="0.45"/><circle cx="454.7" cy="86.5" r="0.45"/><circle cx="460.7" cy="67.7" r="0.45"/><circle cx="463.9" cy="83.1" r="0.45"/><circle cx="457.2" cy="71.1" r="0.45"/><circle cx="470.7" cy="70.6" r="0.45"/><circle cx="456.3" cy="67.7" r="0.45"/><circle cx="447.2" cy="68.7" r="0.45"/><circle cx="465.5" cy="82.7" r="0.45"/><circle cx="453.8" cy="70.4" r="0.45"/><circle cx="456.5" cy="78.8" r="0.45"/><circle cx="445.1" cy="71.4" r="0.45"/><circle cx="456.2" cy="80.4" r="0.45"/><circle cx="457.6" cy="79.2" r="0.45"/><circle cx="459.4" cy="72.5" r="0.45"/><circle cx="456.0" cy="75.2" r="0.45"/><circle cx="460.7" cy="73.2" r="0.45"/><circle cx="468.3" cy="77.2" r="0.45"/><circle cx="461.1" cy="80.1" r="0.45"/><circle cx="465.1" cy="79.0" r="0.45"/><circle cx="443.3" cy="73.9" r="0.45"/><circle cx="471.5" cy="79.3" r="0.45"/><circle cx="461.4" cy="79.3" r="0.45"/><circle cx="452.0" cy="73.7" r="0.45"/><circle cx="451.9" cy="82.7" r="0.45"/><circle cx="459.8" cy="85.7" r="0.45"/><circle cx="460.9" cy="86.2" r="0.45"/><circle cx="460.6" cy="71.2" r="0.45"/><circle cx="470.6" cy="78.7" r="0.45"/><circle cx="466.3" cy="78.1" r="0.45"/><circle cx="454.4" cy="77.8" r="0.45"/><circle cx="448.2" cy="71.1" r="0.45"/><circle cx="450.0" cy="74.4" r="0.45"/><circle cx="446.4" cy="76.5" r="0.45"/><circle cx="459.4" cy="86.9" r="0.45"/><circle cx="471.4" cy="76.8" r="0.45"/><circle cx="463.9" cy="75.9" r="0.45"/><circle cx="460.1" cy="76.8" r="0.45"/><circle cx="452.8" cy="77.4" r="0.45"/><circle cx="445.4" cy="79.2" r="0.45"/><circle cx="454.7" cy="71.7" r="0.45"/><circle cx="454.2" cy="79.7" r="0.45"/><circle cx="451.7" cy="79.3" r="0.45"/><circle cx="461.5" cy="84.7" r="0.45"/><circle cx="448.4" cy="76.5" r="0.45"/><circle cx="461.0" cy="84.4" r="0.45"/><circle cx="459.1" cy="80.7" r="0.45"/><circle cx="445.4" cy="74.1" r="0.45"/><circle cx="470.1" cy="75.6" r="0.45"/><circle cx="474.0" cy="73.4" r="0.45"/><circle cx="454.8" cy="69.1" r="0.45"/><circle cx="462.0" cy="78.3" r="0.45"/><circle cx="472.9" cy="77.8" r="0.45"/><circle cx="455.0" cy="70.1" r="0.45"/><circle cx="456.4" cy="81.7" r="0.45"/><circle cx="462.8" cy="83.1" r="0.45"/><circle cx="463.8" cy="76.8" r="0.45"/><circle cx="461.8" cy="77.9" r="0.45"/><circle cx="446.5" cy="85.4" r="0.45"/><circle cx="460.0" cy="71.8" r="0.45"/><circle cx="460.0" cy="78.4" r="0.45"/><circle cx="464.9" cy="84.1" r="0.45"/><circle cx="469.1" cy="72.3" r="0.45"/><circle cx="442.3" cy="78.4" r="0.45"/><circle cx="459.7" cy="78.7" r="0.45"/><circle cx="448.2" cy="74.7" r="0.45"/><circle cx="458.5" cy="80.7" r="0.45"/><circle cx="474.4" cy="78.5" r="0.45"/><circle cx="465.5" cy="76.3" r="0.45"/><circle cx="456.1" cy="72.1" r="0.45"/><circle cx="462.8" cy="68.1" r="0.45"/><circle cx="457.9" cy="77.6" r="0.45"/><circle cx="459.4" cy="83.5" r="0.45"/><circle cx="456.2" cy="77.5" r="0.45"/><circle cx="463.8" cy="69.3" r="0.45"/><circle cx="454.7" cy="77.3" r="0.45"/><circle cx="464.6" cy="73.0" r="0.45"/><circle cx="463.4" cy="78.9" r="0.45"/><circle cx="445.2" cy="69.7" r="0.45"/><circle cx="445.6" cy="77.7" r="0.45"/><circle cx="458.6" cy="80.6" r="0.45"/><circle cx="463.5" cy="74.3" r="0.45"/><circle cx="465.5" cy="81.1" r="0.45"/><circle cx="460.7" cy="79.4" r="0.45"/><circle cx="446.8" cy="78.8" r="0.45"/><circle cx="448.8" cy="71.1" r="0.45"/><circle cx="454.2" cy="77.7" r="0.45"/><circle cx="456.6" cy="75.4" r="0.45"/><circle cx="449.0" cy="77.9" r="0.45"/><circle cx="451.1" cy="70.0" r="0.45"/><circle cx="457.7" cy="84.2" r="0.45"/><circle cx="453.8" cy="71.7" r="0.45"/><circle cx="468.0" cy="85.5" r="0.45"/><circle cx="454.7" cy="76.0" r="0.45"/><circle cx="458.1" cy="81.9" r="0.45"/><circle cx="460.5" cy="67.9" r="0.45"/><circle cx="448.2" cy="70.9" r="0.45"/><circle cx="460.4" cy="77.5" r="0.45"/><circle cx="471.3" cy="75.7" r="0.45"/><circle cx="459.5" cy="77.4" r="0.45"/><circle cx="458.1" cy="88.5" r="0.45"/><circle cx="459.3" cy="84.3" r="0.45"/><circle cx="467.3" cy="74.0" r="0.45"/><circle cx="462.5" cy="75.1" r="0.45"/><circle cx="457.9" cy="77.8" r="0.45"/><circle cx="457.2" cy="74.7" r="0.45"/><circle cx="469.4" cy="75.7" r="0.45"/><circle cx="462.6" cy="85.4" r="0.45"/><circle cx="462.0" cy="82.1" r="0.45"/><circle cx="468.1" cy="82.4" r="0.45"/><circle cx="470.7" cy="69.9" r="0.45"/><circle cx="472.6" cy="77.1" r="0.45"/><circle cx="443.1" cy="73.8" r="0.45"/><circle cx="445.9" cy="76.9" r="0.45"/><circle cx="445.1" cy="72.0" r="0.45"/><circle cx="459.4" cy="77.8" r="0.45"/><circle cx="450.6" cy="75.8" r="0.45"/><circle cx="456.2" cy="77.4" r="0.45"/><circle cx="456.9" cy="75.9" r="0.45"/><circle cx="464.0" cy="69.0" r="0.45"/><circle cx="453.1" cy="77.7" r="0.45"/><circle cx="453.8" cy="74.2" r="0.45"/><circle cx="453.5" cy="78.0" r="0.45"/><circle cx="466.9" cy="76.1" r="0.45"/><circle cx="454.9" cy="78.8" r="0.45"/><circle cx="455.1" cy="67.3" r="0.45"/><circle cx="459.1" cy="75.1" r="0.45"/><circle cx="452.4" cy="80.1" r="0.45"/><circle cx="457.4" cy="74.2" r="0.45"/><circle cx="457.1" cy="76.4" r="0.45"/><circle cx="460.5" cy="78.1" r="0.45"/><circle cx="453.2" cy="70.7" r="0.45"/><circle cx="448.2" cy="76.3" r="0.45"/><circle cx="447.8" cy="80.8" r="0.45"/><circle cx="446.4" cy="68.0" r="0.45"/><circle cx="455.5" cy="68.1" r="0.45"/><circle cx="470.0" cy="72.0" r="0.45"/><circle cx="456.6" cy="75.8" r="0.45"/><circle cx="450.4" cy="68.2" r="0.45"/><circle cx="442.1" cy="81.3" r="0.45"/><circle cx="465.2" cy="87.8" r="0.45"/><circle cx="445.3" cy="79.8" r="0.45"/><circle cx="456.9" cy="81.2" r="0.45"/><circle cx="452.9" cy="80.6" r="0.45"/><circle cx="464.2" cy="80.0" r="0.45"/><circle cx="468.6" cy="76.1" r="0.45"/><circle cx="469.3" cy="73.5" r="0.45"/><circle cx="457.1" cy="73.0" r="0.45"/><circle cx="457.0" cy="82.2" r="0.45"/><circle cx="462.7" cy="77.5" r="0.45"/><circle cx="470.6" cy="69.6" r="0.45"/><circle cx="450.5" cy="84.5" r="0.45"/><circle cx="459.6" cy="66.6" r="0.45"/><circle cx="459.7" cy="71.1" r="0.45"/><circle cx="468.8" cy="82.7" r="0.45"/><circle cx="452.6" cy="83.5" r="0.45"/><circle cx="450.3" cy="81.6" r="0.45"/><circle cx="461.6" cy="76.4" r="0.45"/><circle cx="445.6" cy="75.6" r="0.45"/><circle cx="442.2" cy="83.1" r="0.45"/><circle cx="461.7" cy="78.8" r="0.45"/><circle cx="452.9" cy="87.6" r="0.45"/><circle cx="463.2" cy="77.3" r="0.45"/><circle cx="460.8" cy="81.8" r="0.45"/><circle cx="452.3" cy="69.9" r="0.45"/><circle cx="456.7" cy="68.6" r="0.45"/><circle cx="457.1" cy="80.9" r="0.45"/><circle cx="469.1" cy="78.3" r="0.45"/><circle cx="458.6" cy="80.7" r="0.45"/><circle cx="468.2" cy="75.4" r="0.45"/><circle cx="447.2" cy="73.0" r="0.45"/><circle cx="446.9" cy="72.6" r="0.45"/><circle cx="456.0" cy="78.7" r="0.45"/><circle cx="458.2" cy="77.3" r="0.45"/><circle cx="454.1" cy="79.1" r="0.45"/><circle cx="464.1" cy="80.8" r="0.45"/><circle cx="469.0" cy="75.5" r="0.45"/><circle cx="455.0" cy="85.5" r="0.45"/><circle cx="458.6" cy="79.1" r="0.45"/><circle cx="454.3" cy="81.8" r="0.45"/><circle cx="453.8" cy="72.0" r="0.45"/><circle cx="456.5" cy="74.8" r="0.45"/><circle cx="463.7" cy="75.1" r="0.45"/><circle cx="458.0" cy="75.9" r="0.45"/><circle cx="459.7" cy="73.8" r="0.45"/><circle cx="465.8" cy="69.9" r="0.45"/><circle cx="453.9" cy="73.5" r="0.45"/><circle cx="462.2" cy="77.2" r="0.45"/><circle cx="460.9" cy="75.3" r="0.45"/><circle cx="451.3" cy="71.4" r="0.45"/><circle cx="454.3" cy="74.3" r="0.45"/><circle cx="459.2" cy="78.8" r="0.45"/><circle cx="464.8" cy="76.5" r="0.45"/><circle cx="451.0" cy="71.7" r="0.45"/><circle cx="457.5" cy="78.8" r="0.45"/><circle cx="472.6" cy="77.9" r="0.45"/><circle cx="471.1" cy="86.4" r="0.45"/><circle cx="448.6" cy="83.1" r="0.45"/><circle cx="466.1" cy="83.7" r="0.45"/><circle cx="456.9" cy="81.8" r="0.45"/><circle cx="453.2" cy="76.6" r="0.45"/><circle cx="457.2" cy="85.9" r="0.45"/><circle cx="455.3" cy="81.8" r="0.45"/><circle cx="457.5" cy="73.5" r="0.45"/><circle cx="458.9" cy="80.3" r="0.45"/><circle cx="451.3" cy="80.2" r="0.45"/><circle cx="451.3" cy="72.6" r="0.45"/><circle cx="458.8" cy="75.8" r="0.45"/><circle cx="449.1" cy="68.9" r="0.45"/><circle cx="457.2" cy="78.2" r="0.45"/><circle cx="453.3" cy="77.9" r="0.45"/><circle cx="444.8" cy="79.0" r="0.45"/><circle cx="460.3" cy="78.4" r="0.45"/><circle cx="452.1" cy="77.4" r="0.45"/><circle cx="458.0" cy="82.3" r="0.45"/><circle cx="459.2" cy="78.3" r="0.45"/><circle cx="451.2" cy="81.3" r="0.45"/><circle cx="466.4" cy="74.5" r="0.45"/><circle cx="462.1" cy="78.5" r="0.45"/><circle cx="456.6" cy="70.6" r="0.45"/><circle cx="471.1" cy="67.7" r="0.45"/><circle cx="459.4" cy="75.1" r="0.45"/><circle cx="466.2" cy="74.9" r="0.45"/><circle cx="457.3" cy="80.1" r="0.45"/><circle cx="460.6" cy="74.4" r="0.45"/><circle cx="462.4" cy="79.0" r="0.45"/><circle cx="464.9" cy="74.4" r="0.45"/><circle cx="456.6" cy="75.0" r="0.45"/><circle cx="450.3" cy="78.3" r="0.45"/><circle cx="460.3" cy="84.1" r="0.45"/><circle cx="454.4" cy="78.9" r="0.45"/><circle cx="466.1" cy="76.4" r="0.45"/><circle cx="457.5" cy="77.7" r="0.45"/><circle cx="451.5" cy="72.1" r="0.45"/><circle cx="465.9" cy="77.9" r="0.45"/><circle cx="456.4" cy="70.8" r="0.45"/><circle cx="457.9" cy="82.8" r="0.45"/><circle cx="447.8" cy="72.6" r="0.45"/><circle cx="465.8" cy="84.1" r="0.45"/><circle cx="469.4" cy="74.2" r="0.45"/><circle cx="461.8" cy="73.3" r="0.45"/><circle cx="461.1" cy="75.2" r="0.45"/><circle cx="458.6" cy="83.7" r="0.45"/><circle cx="459.7" cy="75.8" r="0.45"/><circle cx="457.4" cy="78.3" r="0.45"/><circle cx="452.9" cy="78.0" r="0.45"/><circle cx="461.8" cy="84.8" r="0.45"/><circle cx="440.6" cy="71.1" r="0.45"/><circle cx="447.2" cy="81.4" r="0.45"/><circle cx="476.4" cy="78.0" r="0.45"/><circle cx="458.0" cy="82.7" r="0.45"/><circle cx="453.0" cy="74.6" r="0.45"/><circle cx="459.7" cy="74.1" r="0.45"/><circle cx="465.8" cy="77.0" r="0.45"/><circle cx="460.0" cy="89.6" r="0.45"/><circle cx="453.4" cy="81.6" r="0.45"/><circle cx="450.4" cy="83.2" r="0.45"/><circle cx="464.7" cy="77.7" r="0.45"/><circle cx="464.9" cy="85.0" r="0.45"/><circle cx="467.9" cy="77.0" r="0.45"/><circle cx="456.6" cy="82.5" r="0.45"/><circle cx="445.3" cy="74.0" r="0.45"/><circle cx="460.8" cy="79.8" r="0.45"/><circle cx="471.8" cy="85.7" r="0.45"/><circle cx="459.6" cy="79.2" r="0.45"/><circle cx="446.5" cy="76.1" r="0.45"/><circle cx="459.1" cy="75.9" r="0.45"/><circle cx="457.5" cy="80.0" r="0.45"/><circle cx="449.5" cy="74.2" r="0.45"/><circle cx="442.9" cy="82.7" r="0.45"/><circle cx="448.6" cy="68.6" r="0.45"/><circle cx="463.1" cy="75.9" r="0.45"/><circle cx="464.7" cy="75.2" r="0.45"/><circle cx="473.8" cy="80.5" r="0.45"/><circle cx="458.2" cy="77.6" r="0.45"/><circle cx="455.4" cy="81.0" r="0.45"/><circle cx="472.8" cy="74.9" r="0.45"/><circle cx="448.4" cy="80.0" r="0.45"/><circle cx="465.4" cy="69.6" r="0.45"/><circle cx="451.5" cy="72.1" r="0.45"/><circle cx="461.4" cy="79.5" r="0.45"/><circle cx="451.2" cy="71.4" r="0.45"/><circle cx="462.4" cy="66.8" r="0.45"/><circle cx="462.1" cy="76.2" r="0.45"/><circle cx="472.2" cy="81.9" r="0.45"/><circle cx="452.4" cy="75.6" r="0.45"/><circle cx="454.8" cy="73.4" r="0.45"/><circle cx="457.6" cy="81.8" r="0.45"/><circle cx="445.1" cy="75.9" r="0.45"/><circle cx="468.8" cy="80.7" r="0.45"/><circle cx="450.6" cy="73.0" r="0.45"/><circle cx="450.3" cy="69.1" r="0.45"/><circle cx="466.1" cy="77.3" r="0.45"/><circle cx="451.5" cy="69.9" r="0.45"/><circle cx="454.0" cy="74.5" r="0.45"/><circle cx="470.6" cy="74.7" r="0.45"/><circle cx="457.9" cy="82.3" r="0.45"/><circle cx="462.3" cy="76.1" r="0.45"/><circle cx="461.7" cy="74.9" r="0.45"/><circle cx="456.3" cy="72.3" r="0.45"/><circle cx="449.9" cy="69.7" r="0.45"/><circle cx="460.9" cy="79.5" r="0.45"/><circle cx="458.4" cy="80.8" r="0.45"/><circle cx="461.2" cy="77.6" r="0.45"/><circle cx="450.1" cy="79.9" r="0.45"/><circle cx="466.3" cy="80.1" r="0.45"/><circle cx="466.8" cy="74.7" r="0.45"/><circle cx="449.3" cy="83.1" r="0.45"/><circle cx="452.4" cy="78.2" r="0.45"/><circle cx="455.5" cy="77.1" r="0.45"/><circle cx="454.9" cy="74.4" r="0.45"/><circle cx="443.0" cy="86.4" r="0.45"/><circle cx="458.6" cy="67.6" r="0.45"/><circle cx="449.9" cy="71.5" r="0.45"/><circle cx="461.5" cy="85.0" r="0.45"/><circle cx="455.1" cy="80.6" r="0.45"/><circle cx="461.7" cy="70.9" r="0.45"/><circle cx="466.6" cy="68.7" r="0.45"/><circle cx="452.5" cy="75.2" r="0.45"/></g>
<g fill="#ee30e8" fill-opacity="0.6"><circle cx="450.3" cy="64.5" r="0.45"/><circle cx="445.6" cy="60.8" r="0.45"/><circle cx="446.3" cy="64.2" r="0.45"/><circle cx="448.5" cy="69.5" r="0.45"/><circle cx="448.5" cy="64.1" r="0.45"/><circle cx="446.7" cy="63.9" r="0.45"/><circle cx="448.0" cy="63.6" r="0.45"/><circle cx="443.8" cy="68.2" r="0.45"/><circle cx="444.4" cy="67.8" r="0.45"/><circle cx="443.3" cy="64.4" r="0.45"/></g>
<g fill="#d4a040" fill-opacity="0.8"><circle cx="463.2" cy="63.9" r="0.45"/><circle cx="462.3" cy="64.5" r="0.45"/><circle cx="455.0" cy="60.5" r="0.45"/><circle cx="460.3" cy="61.0" r="0.45"/><circle cx="457.5" cy="63.6" r="0.45"/><circle cx="467.4" cy="62.0" r="0.45"/><circle cx="464.0" cy="64.0" r="0.45"/><circle cx="459.1" cy="60.9" r="0.45"/><circle cx="460.2" cy="61.5" r="0.45"/><circle cx="463.9" cy="58.7" r="0.45"/><circle cx="467.1" cy="65.6" r="0.45"/><circle cx="464.1" cy="67.6" r="0.45"/><circle cx="464.2" cy="58.8" r="0.45"/><circle cx="461.3" cy="64.7" r="0.45"/><circle cx="457.3" cy="60.4" r="0.45"/><circle cx="463.3" cy="64.9" r="0.45"/><circle cx="458.7" cy="62.8" r="0.45"/><circle cx="458.3" cy="61.9" r="0.45"/><circle cx="460.7" cy="66.4" r="0.45"/><circle cx="452.4" cy="62.6" r="0.45"/><circle cx="469.7" cy="64.4" r="0.45"/><circle cx="461.8" cy="65.8" r="0.45"/><circle cx="455.6" cy="60.2" r="0.45"/><circle cx="452.1" cy="59.5" r="0.45"/><circle cx="462.3" cy="65.8" r="0.45"/><circle cx="458.8" cy="61.6" r="0.45"/><circle cx="463.2" cy="65.2" r="0.45"/><circle cx="462.4" cy="58.3" r="0.45"/><circle cx="458.1" cy="56.6" r="0.45"/><circle cx="462.3" cy="61.2" r="0.45"/><circle cx="457.5" cy="67.6" r="0.45"/><circle cx="468.1" cy="64.8" r="0.45"/><circle cx="462.5" cy="64.0" r="0.45"/><circle cx="457.9" cy="63.4" r="0.45"/><circle cx="471.2" cy="61.1" r="0.45"/><circle cx="457.5" cy="63.9" r="0.45"/><circle cx="465.8" cy="65.8" r="0.45"/><circle cx="455.8" cy="63.1" r="0.45"/><circle cx="459.6" cy="60.1" r="0.45"/><circle cx="461.4" cy="62.2" r="0.45"/><circle cx="465.9" cy="64.7" r="0.45"/><circle cx="456.8" cy="63.7" r="0.45"/><circle cx="459.1" cy="61.8" r="0.45"/><circle cx="458.4" cy="66.4" r="0.45"/><circle cx="458.8" cy="58.8" r="0.45"/><circle cx="456.9" cy="65.7" r="0.45"/><circle cx="459.1" cy="62.6" r="0.45"/><circle cx="453.5" cy="64.6" r="0.45"/><circle cx="460.7" cy="64.3" r="0.45"/><circle cx="465.2" cy="65.8" r="0.45"/><circle cx="457.6" cy="61.9" r="0.45"/><circle cx="469.3" cy="65.4" r="0.45"/><circle cx="461.8" cy="60.5" r="0.45"/><circle cx="465.7" cy="64.9" r="0.45"/><circle cx="465.3" cy="64.2" r="0.45"/><circle cx="461.3" cy="62.0" r="0.45"/><circle cx="462.7" cy="64.2" r="0.45"/><circle cx="464.5" cy="66.5" r="0.45"/><circle cx="462.7" cy="62.0" r="0.45"/><circle cx="465.3" cy="67.7" r="0.45"/><circle cx="456.5" cy="64.6" r="0.45"/><circle cx="463.9" cy="65.0" r="0.45"/><circle cx="463.7" cy="63.3" r="0.45"/><circle cx="470.3" cy="59.7" r="0.45"/><circle cx="457.4" cy="62.1" r="0.45"/><circle cx="452.5" cy="64.5" r="0.45"/><circle cx="460.7" cy="62.0" r="0.45"/><circle cx="468.9" cy="66.7" r="0.45"/><circle cx="458.8" cy="65.3" r="0.45"/><circle cx="460.8" cy="66.6" r="0.45"/><circle cx="464.1" cy="63.4" r="0.45"/><circle cx="464.0" cy="61.5" r="0.45"/><circle cx="465.2" cy="67.6" r="0.45"/><circle cx="459.1" cy="65.0" r="0.45"/><circle cx="452.1" cy="66.1" r="0.45"/><circle cx="465.7" cy="60.7" r="0.45"/><circle cx="470.3" cy="63.8" r="0.45"/><circle cx="451.8" cy="59.8" r="0.45"/><circle cx="465.7" cy="62.8" r="0.45"/><circle cx="466.9" cy="59.3" r="0.45"/><circle cx="460.5" cy="66.2" r="0.45"/><circle cx="457.4" cy="65.4" r="0.45"/><circle cx="459.1" cy="64.4" r="0.45"/><circle cx="454.4" cy="65.6" r="0.45"/><circle cx="468.0" cy="60.4" r="0.45"/><circle cx="466.6" cy="55.4" r="0.45"/><circle cx="459.7" cy="58.8" r="0.45"/><circle cx="462.6" cy="61.5" r="0.45"/><circle cx="458.0" cy="61.2" r="0.45"/><circle cx="462.6" cy="62.2" r="0.45"/><circle cx="456.2" cy="62.9" r="0.45"/><circle cx="463.2" cy="61.2" r="0.45"/><circle cx="466.9" cy="59.0" r="0.45"/><circle cx="463.2" cy="62.4" r="0.45"/><circle cx="469.4" cy="61.8" r="0.45"/><circle cx="457.5" cy="59.9" r="0.45"/><circle cx="471.6" cy="65.2" r="0.45"/><circle cx="455.2" cy="62.6" r="0.45"/><circle cx="455.9" cy="67.6" r="0.45"/><circle cx="463.2" cy="58.0" r="0.45"/><circle cx="462.1" cy="66.0" r="0.45"/><circle cx="461.0" cy="64.8" r="0.45"/><circle cx="460.4" cy="64.1" r="0.45"/><circle cx="462.1" cy="61.6" r="0.45"/><circle cx="462.9" cy="64.0" r="0.45"/><circle cx="460.8" cy="61.6" r="0.45"/><circle cx="455.6" cy="64.2" r="0.45"/><circle cx="465.4" cy="56.9" r="0.45"/><circle cx="458.1" cy="67.2" r="0.45"/><circle cx="465.9" cy="61.6" r="0.45"/><circle cx="468.2" cy="60.8" r="0.45"/><circle cx="458.7" cy="62.9" r="0.45"/><circle cx="452.2" cy="60.7" r="0.45"/><circle cx="454.7" cy="63.1" r="0.45"/><circle cx="451.2" cy="66.4" r="0.45"/><circle cx="459.1" cy="61.9" r="0.45"/><circle cx="457.6" cy="65.5" r="0.45"/><circle cx="469.2" cy="62.4" r="0.45"/><circle cx="468.2" cy="64.3" r="0.45"/><circle cx="453.0" cy="65.3" r="0.45"/><circle cx="458.8" cy="64.0" r="0.45"/><circle cx="450.9" cy="62.7" r="0.45"/><circle cx="462.2" cy="60.9" r="0.45"/><circle cx="462.2" cy="61.6" r="0.45"/><circle cx="456.1" cy="64.6" r="0.45"/><circle cx="457.8" cy="57.3" r="0.45"/><circle cx="462.4" cy="65.8" r="0.45"/><circle cx="456.7" cy="67.5" r="0.45"/><circle cx="463.7" cy="66.7" r="0.45"/><circle cx="452.8" cy="63.5" r="0.45"/><circle cx="468.1" cy="63.5" r="0.45"/><circle cx="462.0" cy="61.8" r="0.45"/><circle cx="466.9" cy="61.6" r="0.45"/><circle cx="461.7" cy="57.9" r="0.45"/><circle cx="461.3" cy="64.1" r="0.45"/><circle cx="458.2" cy="62.9" r="0.45"/><circle cx="454.3" cy="59.8" r="0.45"/><circle cx="454.4" cy="65.3" r="0.45"/><circle cx="460.7" cy="65.7" r="0.45"/><circle cx="455.2" cy="65.1" r="0.45"/><circle cx="458.6" cy="63.7" r="0.45"/><circle cx="466.0" cy="63.6" r="0.45"/><circle cx="459.1" cy="58.9" r="0.45"/><circle cx="461.3" cy="65.6" r="0.45"/><circle cx="457.6" cy="63.3" r="0.45"/><circle cx="451.5" cy="59.8" r="0.45"/><circle cx="463.2" cy="67.0" r="0.45"/><circle cx="459.3" cy="58.9" r="0.45"/><circle cx="459.0" cy="59.2" r="0.45"/><circle cx="462.6" cy="63.1" r="0.45"/><circle cx="466.6" cy="62.5" r="0.45"/><circle cx="462.8" cy="64.0" r="0.45"/><circle cx="463.4" cy="59.5" r="0.45"/><circle cx="464.8" cy="65.9" r="0.45"/><circle cx="456.2" cy="67.6" r="0.45"/><circle cx="461.1" cy="65.4" r="0.45"/><circle cx="464.0" cy="65.9" r="0.45"/><circle cx="457.6" cy="61.9" r="0.45"/><circle cx="463.0" cy="65.2" r="0.45"/><circle cx="464.1" cy="64.4" r="0.45"/><circle cx="458.4" cy="66.5" r="0.45"/><circle cx="463.5" cy="66.4" r="0.45"/><circle cx="457.4" cy="63.8" r="0.45"/><circle cx="458.4" cy="62.6" r="0.45"/><circle cx="462.0" cy="64.5" r="0.45"/><circle cx="456.7" cy="56.5" r="0.45"/><circle cx="456.8" cy="65.0" r="0.45"/><circle cx="456.4" cy="64.7" r="0.45"/></g>
<g fill="#f06060" fill-opacity="0.75"><circle cx="428.5" cy="76.6" r="0.45"/><circle cx="439.1" cy="83.2" r="0.45"/><circle cx="430.3" cy="78.9" r="0.45"/><circle cx="437.6" cy="75.6" r="0.45"/><circle cx="425.0" cy="81.9" r="0.45"/><circle cx="437.2" cy="77.7" r="0.45"/><circle cx="425.6" cy="79.9" r="0.45"/><circle cx="421.3" cy="77.7" r="0.45"/><circle cx="435.1" cy="81.0" r="0.45"/><circle cx="438.4" cy="75.3" r="0.45"/><circle cx="422.1" cy="76.9" r="0.45"/><circle cx="422.0" cy="84.3" r="0.45"/><circle cx="424.2" cy="78.2" r="0.45"/><circle cx="432.4" cy="80.2" r="0.45"/><circle cx="437.1" cy="79.4" r="0.45"/><circle cx="422.9" cy="79.4" r="0.45"/><circle cx="421.3" cy="83.2" r="0.45"/><circle cx="425.9" cy="81.6" r="0.45"/><circle cx="424.8" cy="79.3" r="0.45"/><circle cx="423.7" cy="81.3" r="0.45"/><circle cx="432.2" cy="77.0" r="0.45"/><circle cx="426.2" cy="80.9" r="0.45"/><circle cx="420.9" cy="83.4" r="0.45"/><circle cx="425.5" cy="78.5" r="0.45"/><circle cx="424.6" cy="83.2" r="0.45"/><circle cx="436.7" cy="82.4" r="0.45"/><circle cx="435.5" cy="79.2" r="0.45"/><circle cx="434.0" cy="80.5" r="0.45"/><circle cx="436.1" cy="79.7" r="0.45"/><circle cx="429.8" cy="74.9" r="0.45"/><circle cx="416.0" cy="77.2" r="0.45"/><circle cx="426.8" cy="79.7" r="0.45"/><circle cx="430.8" cy="73.9" r="0.45"/><circle cx="428.7" cy="79.8" r="0.45"/><circle cx="439.2" cy="75.9" r="0.45"/><circle cx="415.3" cy="74.9" r="0.45"/><circle cx="433.3" cy="79.2" r="0.45"/><circle cx="432.0" cy="79.4" r="0.45"/><circle cx="428.4" cy="75.5" r="0.45"/><circle cx="434.2" cy="80.0" r="0.45"/><circle cx="435.0" cy="82.2" r="0.45"/><circle cx="418.5" cy="84.6" r="0.45"/><circle cx="424.6" cy="80.0" r="0.45"/><circle cx="430.9" cy="80.9" r="0.45"/><circle cx="429.8" cy="77.4" r="0.45"/><circle cx="432.7" cy="80.4" r="0.45"/><circle cx="424.2" cy="82.4" r="0.45"/><circle cx="439.0" cy="80.2" r="0.45"/><circle cx="430.2" cy="78.4" r="0.45"/><circle cx="419.5" cy="80.7" r="0.45"/><circle cx="424.2" cy="77.7" r="0.45"/><circle cx="438.0" cy="76.6" r="0.45"/><circle cx="427.3" cy="81.2" r="0.45"/><circle cx="438.7" cy="77.3" r="0.45"/><circle cx="433.7" cy="80.3" r="0.45"/><circle cx="423.0" cy="81.7" r="0.45"/><circle cx="432.9" cy="76.0" r="0.45"/><circle cx="422.1" cy="81.0" r="0.45"/><circle cx="420.8" cy="77.2" r="0.45"/><circle cx="416.1" cy="82.6" r="0.45"/><circle cx="426.4" cy="77.5" r="0.45"/><circle cx="427.0" cy="80.4" r="0.45"/><circle cx="434.1" cy="74.3" r="0.45"/><circle cx="426.1" cy="83.0" r="0.45"/><circle cx="430.3" cy="82.6" r="0.45"/><circle cx="438.5" cy="83.3" r="0.45"/></g>
<rect x="447.8" y="45.5" width="26.00" height="22.70" rx="0.8" fill="none" stroke="#5a5a5a" stroke-width="0.95"/>
<rect x="414.0" y="71.5" width="26.60" height="18.70" rx="0.8" fill="none" stroke="#5a5a5a" stroke-width="0.95"/>
<text x="461.00" y="42.00" font-size="7.4" text-anchor="middle" fill="#111" stroke="#111" stroke-width="0.2">GMP</text>
<text x="427.00" y="98.40" font-size="7.4" text-anchor="middle" fill="#111" stroke="#111" stroke-width="0.2">MEP</text>
<rect x="289.5" y="21.5" width="99.20" height="81.90" fill="none" stroke="#222" stroke-width="1.2"/>
<rect x="405.4" y="21.1" width="98.80" height="82.90" fill="none" stroke="#222" stroke-width="1.2"/>
<text x="297.70" y="14.60" font-size="9.5" fill="#111" textLength="82.7" lengthAdjust="spacingAndGlyphs" stroke="#111" stroke-width="0.15">CD34+CD38-GFP+</text>
<text x="411.70" y="14.60" font-size="9.5" fill="#111" textLength="85.6" lengthAdjust="spacingAndGlyphs" stroke="#111" stroke-width="0.15">CD34+CD38+GFP+</text>
<line x1="288.10" y1="102.19" x2="289.50" y2="102.19" stroke="#222" stroke-width="0.75"/>
<line x1="288.10" y1="99.61" x2="289.50" y2="99.61" stroke="#222" stroke-width="0.75"/>
<line x1="288.10" y1="97.61" x2="289.50" y2="97.61" stroke="#222" stroke-width="0.75"/>
<line x1="288.10" y1="95.98" x2="289.50" y2="95.98" stroke="#222" stroke-width="0.75"/>
<line x1="288.10" y1="94.60" x2="289.50" y2="94.60" stroke="#222" stroke-width="0.75"/>
<line x1="288.10" y1="93.40" x2="289.50" y2="93.40" stroke="#222" stroke-width="0.75"/>
<line x1="288.10" y1="92.34" x2="289.50" y2="92.34" stroke="#222" stroke-width="0.75"/>
<line x1="286.90" y1="91.40" x2="289.50" y2="91.40" stroke="#222" stroke-width="0.75"/>
<line x1="288.10" y1="85.19" x2="289.50" y2="85.19" stroke="#222" stroke-width="0.75"/>
<line x1="288.10" y1="81.56" x2="289.50" y2="81.56" stroke="#222" stroke-width="0.75"/>
<line x1="288.10" y1="78.98" x2="289.50" y2="78.98" stroke="#222" stroke-width="0.75"/>
<line x1="288.10" y1="76.98" x2="289.50" y2="76.98" stroke="#222" stroke-width="0.75"/>
<line x1="288.10" y1="75.35" x2="289.50" y2="75.35" stroke="#222" stroke-width="0.75"/>
<line x1="288.10" y1="73.97" x2="289.50" y2="73.97" stroke="#222" stroke-width="0.75"/>
<line x1="288.10" y1="72.77" x2="289.50" y2="72.77" stroke="#222" stroke-width="0.75"/>
<line x1="288.10" y1="71.71" x2="289.50" y2="71.71" stroke="#222" stroke-width="0.75"/>
<line x1="286.90" y1="70.77" x2="289.50" y2="70.77" stroke="#222" stroke-width="0.75"/>
<line x1="288.10" y1="64.56" x2="289.50" y2="64.56" stroke="#222" stroke-width="0.75"/>
<line x1="288.10" y1="60.93" x2="289.50" y2="60.93" stroke="#222" stroke-width="0.75"/>
<line x1="288.10" y1="58.35" x2="289.50" y2="58.35" stroke="#222" stroke-width="0.75"/>
<line x1="288.10" y1="56.35" x2="289.50" y2="56.35" stroke="#222" stroke-width="0.75"/>
<line x1="288.10" y1="54.72" x2="289.50" y2="54.72" stroke="#222" stroke-width="0.75"/>
<line x1="288.10" y1="53.34" x2="289.50" y2="53.34" stroke="#222" stroke-width="0.75"/>
<line x1="288.10" y1="52.14" x2="289.50" y2="52.14" stroke="#222" stroke-width="0.75"/>
<line x1="288.10" y1="51.08" x2="289.50" y2="51.08" stroke="#222" stroke-width="0.75"/>
<line x1="286.90" y1="50.14" x2="289.50" y2="50.14" stroke="#222" stroke-width="0.75"/>
<line x1="288.10" y1="43.93" x2="289.50" y2="43.93" stroke="#222" stroke-width="0.75"/>
<line x1="288.10" y1="40.30" x2="289.50" y2="40.30" stroke="#222" stroke-width="0.75"/>
<line x1="288.10" y1="37.72" x2="289.50" y2="37.72" stroke="#222" stroke-width="0.75"/>
<line x1="288.10" y1="35.72" x2="289.50" y2="35.72" stroke="#222" stroke-width="0.75"/>
<line x1="288.10" y1="34.09" x2="289.50" y2="34.09" stroke="#222" stroke-width="0.75"/>
<line x1="288.10" y1="32.71" x2="289.50" y2="32.71" stroke="#222" stroke-width="0.75"/>
<line x1="288.10" y1="31.51" x2="289.50" y2="31.51" stroke="#222" stroke-width="0.75"/>
<line x1="288.10" y1="30.45" x2="289.50" y2="30.45" stroke="#222" stroke-width="0.75"/>
<line x1="286.90" y1="29.51" x2="289.50" y2="29.51" stroke="#222" stroke-width="0.75"/>
<line x1="288.10" y1="23.30" x2="289.50" y2="23.30" stroke="#222" stroke-width="0.75"/>
<line x1="291.19" y1="103.40" x2="291.19" y2="104.80" stroke="#222" stroke-width="0.75"/>
<line x1="294.25" y1="103.40" x2="294.25" y2="104.80" stroke="#222" stroke-width="0.75"/>
<line x1="296.62" y1="103.40" x2="296.62" y2="104.80" stroke="#222" stroke-width="0.75"/>
<line x1="298.56" y1="103.40" x2="298.56" y2="104.80" stroke="#222" stroke-width="0.75"/>
<line x1="300.20" y1="103.40" x2="300.20" y2="104.80" stroke="#222" stroke-width="0.75"/>
<line x1="301.63" y1="103.40" x2="301.63" y2="104.80" stroke="#222" stroke-width="0.75"/>
<line x1="302.88" y1="103.40" x2="302.88" y2="104.80" stroke="#222" stroke-width="0.75"/>
<line x1="304.00" y1="103.40" x2="304.00" y2="105.80" stroke="#222" stroke-width="0.75"/>
<line x1="311.38" y1="103.40" x2="311.38" y2="104.80" stroke="#222" stroke-width="0.75"/>
<line x1="315.69" y1="103.40" x2="315.69" y2="104.80" stroke="#222" stroke-width="0.75"/>
<line x1="318.75" y1="103.40" x2="318.75" y2="104.80" stroke="#222" stroke-width="0.75"/>
<line x1="321.12" y1="103.40" x2="321.12" y2="104.80" stroke="#222" stroke-width="0.75"/>
<line x1="323.06" y1="103.40" x2="323.06" y2="104.80" stroke="#222" stroke-width="0.75"/>
<line x1="324.70" y1="103.40" x2="324.70" y2="104.80" stroke="#222" stroke-width="0.75"/>
<line x1="326.13" y1="103.40" x2="326.13" y2="104.80" stroke="#222" stroke-width="0.75"/>
<line x1="327.38" y1="103.40" x2="327.38" y2="104.80" stroke="#222" stroke-width="0.75"/>
<line x1="328.50" y1="103.40" x2="328.50" y2="105.80" stroke="#222" stroke-width="0.75"/>
<line x1="335.88" y1="103.40" x2="335.88" y2="104.80" stroke="#222" stroke-width="0.75"/>
<line x1="340.19" y1="103.40" x2="340.19" y2="104.80" stroke="#222" stroke-width="0.75"/>
<line x1="343.25" y1="103.40" x2="343.25" y2="104.80" stroke="#222" stroke-width="0.75"/>
<line x1="345.62" y1="103.40" x2="345.62" y2="104.80" stroke="#222" stroke-width="0.75"/>
<line x1="347.56" y1="103.40" x2="347.56" y2="104.80" stroke="#222" stroke-width="0.75"/>
<line x1="349.20" y1="103.40" x2="349.20" y2="104.80" stroke="#222" stroke-width="0.75"/>
<line x1="350.63" y1="103.40" x2="350.63" y2="104.80" stroke="#222" stroke-width="0.75"/>
<line x1="351.88" y1="103.40" x2="351.88" y2="104.80" stroke="#222" stroke-width="0.75"/>
<line x1="353.00" y1="103.40" x2="353.00" y2="105.80" stroke="#222" stroke-width="0.75"/>
<line x1="360.38" y1="103.40" x2="360.38" y2="104.80" stroke="#222" stroke-width="0.75"/>
<line x1="364.69" y1="103.40" x2="364.69" y2="104.80" stroke="#222" stroke-width="0.75"/>
<line x1="367.75" y1="103.40" x2="367.75" y2="104.80" stroke="#222" stroke-width="0.75"/>
<line x1="370.12" y1="103.40" x2="370.12" y2="104.80" stroke="#222" stroke-width="0.75"/>
<line x1="372.06" y1="103.40" x2="372.06" y2="104.80" stroke="#222" stroke-width="0.75"/>
<line x1="373.70" y1="103.40" x2="373.70" y2="104.80" stroke="#222" stroke-width="0.75"/>
<line x1="375.13" y1="103.40" x2="375.13" y2="104.80" stroke="#222" stroke-width="0.75"/>
<line x1="376.38" y1="103.40" x2="376.38" y2="104.80" stroke="#222" stroke-width="0.75"/>
<line x1="377.50" y1="103.40" x2="377.50" y2="105.80" stroke="#222" stroke-width="0.75"/>
<line x1="384.88" y1="103.40" x2="384.88" y2="104.80" stroke="#222" stroke-width="0.75"/>
<line x1="404.00" y1="102.39" x2="405.40" y2="102.39" stroke="#222" stroke-width="0.75"/>
<line x1="404.00" y1="99.81" x2="405.40" y2="99.81" stroke="#222" stroke-width="0.75"/>
<line x1="404.00" y1="97.81" x2="405.40" y2="97.81" stroke="#222" stroke-width="0.75"/>
<line x1="404.00" y1="96.18" x2="405.40" y2="96.18" stroke="#222" stroke-width="0.75"/>
<line x1="404.00" y1="94.80" x2="405.40" y2="94.80" stroke="#222" stroke-width="0.75"/>
<line x1="404.00" y1="93.60" x2="405.40" y2="93.60" stroke="#222" stroke-width="0.75"/>
<line x1="404.00" y1="92.54" x2="405.40" y2="92.54" stroke="#222" stroke-width="0.75"/>
<line x1="402.80" y1="91.60" x2="405.40" y2="91.60" stroke="#222" stroke-width="0.75"/>
<line x1="404.00" y1="85.39" x2="405.40" y2="85.39" stroke="#222" stroke-width="0.75"/>
<line x1="404.00" y1="81.76" x2="405.40" y2="81.76" stroke="#222" stroke-width="0.75"/>
<line x1="404.00" y1="79.18" x2="405.40" y2="79.18" stroke="#222" stroke-width="0.75"/>
<line x1="404.00" y1="77.18" x2="405.40" y2="77.18" stroke="#222" stroke-width="0.75"/>
<line x1="404.00" y1="75.55" x2="405.40" y2="75.55" stroke="#222" stroke-width="0.75"/>
<line x1="404.00" y1="74.17" x2="405.40" y2="74.17" stroke="#222" stroke-width="0.75"/>
<line x1="404.00" y1="72.97" x2="405.40" y2="72.97" stroke="#222" stroke-width="0.75"/>
<line x1="404.00" y1="71.91" x2="405.40" y2="71.91" stroke="#222" stroke-width="0.75"/>
<line x1="402.80" y1="70.97" x2="405.40" y2="70.97" stroke="#222" stroke-width="0.75"/>
<line x1="404.00" y1="64.76" x2="405.40" y2="64.76" stroke="#222" stroke-width="0.75"/>
<line x1="404.00" y1="61.13" x2="405.40" y2="61.13" stroke="#222" stroke-width="0.75"/>
<line x1="404.00" y1="58.55" x2="405.40" y2="58.55" stroke="#222" stroke-width="0.75"/>
<line x1="404.00" y1="56.55" x2="405.40" y2="56.55" stroke="#222" stroke-width="0.75"/>
<line x1="404.00" y1="54.92" x2="405.40" y2="54.92" stroke="#222" stroke-width="0.75"/>
<line x1="404.00" y1="53.54" x2="405.40" y2="53.54" stroke="#222" stroke-width="0.75"/>
<line x1="404.00" y1="52.34" x2="405.40" y2="52.34" stroke="#222" stroke-width="0.75"/>
<line x1="404.00" y1="51.28" x2="405.40" y2="51.28" stroke="#222" stroke-width="0.75"/>
<line x1="402.80" y1="50.34" x2="405.40" y2="50.34" stroke="#222" stroke-width="0.75"/>
<line x1="404.00" y1="44.13" x2="405.40" y2="44.13" stroke="#222" stroke-width="0.75"/>
<line x1="404.00" y1="40.50" x2="405.40" y2="40.50" stroke="#222" stroke-width="0.75"/>
<line x1="404.00" y1="37.92" x2="405.40" y2="37.92" stroke="#222" stroke-width="0.75"/>
<line x1="404.00" y1="35.92" x2="405.40" y2="35.92" stroke="#222" stroke-width="0.75"/>
<line x1="404.00" y1="34.29" x2="405.40" y2="34.29" stroke="#222" stroke-width="0.75"/>
<line x1="404.00" y1="32.91" x2="405.40" y2="32.91" stroke="#222" stroke-width="0.75"/>
<line x1="404.00" y1="31.71" x2="405.40" y2="31.71" stroke="#222" stroke-width="0.75"/>
<line x1="404.00" y1="30.65" x2="405.40" y2="30.65" stroke="#222" stroke-width="0.75"/>
<line x1="402.80" y1="29.71" x2="405.40" y2="29.71" stroke="#222" stroke-width="0.75"/>
<line x1="404.00" y1="23.50" x2="405.40" y2="23.50" stroke="#222" stroke-width="0.75"/>
<line x1="407.08" y1="104.00" x2="407.08" y2="105.40" stroke="#222" stroke-width="0.75"/>
<line x1="410.17" y1="104.00" x2="410.17" y2="105.40" stroke="#222" stroke-width="0.75"/>
<line x1="412.56" y1="104.00" x2="412.56" y2="105.40" stroke="#222" stroke-width="0.75"/>
<line x1="414.52" y1="104.00" x2="414.52" y2="105.40" stroke="#222" stroke-width="0.75"/>
<line x1="416.17" y1="104.00" x2="416.17" y2="105.40" stroke="#222" stroke-width="0.75"/>
<line x1="417.61" y1="104.00" x2="417.61" y2="105.40" stroke="#222" stroke-width="0.75"/>
<line x1="418.87" y1="104.00" x2="418.87" y2="105.40" stroke="#222" stroke-width="0.75"/>
<line x1="420.00" y1="104.00" x2="420.00" y2="106.40" stroke="#222" stroke-width="0.75"/>
<line x1="427.44" y1="104.00" x2="427.44" y2="105.40" stroke="#222" stroke-width="0.75"/>
<line x1="431.78" y1="104.00" x2="431.78" y2="105.40" stroke="#222" stroke-width="0.75"/>
<line x1="434.87" y1="104.00" x2="434.87" y2="105.40" stroke="#222" stroke-width="0.75"/>
<line x1="437.26" y1="104.00" x2="437.26" y2="105.40" stroke="#222" stroke-width="0.75"/>
<line x1="439.22" y1="104.00" x2="439.22" y2="105.40" stroke="#222" stroke-width="0.75"/>
<line x1="440.87" y1="104.00" x2="440.87" y2="105.40" stroke="#222" stroke-width="0.75"/>
<line x1="442.31" y1="104.00" x2="442.31" y2="105.40" stroke="#222" stroke-width="0.75"/>
<line x1="443.57" y1="104.00" x2="443.57" y2="105.40" stroke="#222" stroke-width="0.75"/>
<line x1="444.70" y1="104.00" x2="444.70" y2="106.40" stroke="#222" stroke-width="0.75"/>
<line x1="452.14" y1="104.00" x2="452.14" y2="105.40" stroke="#222" stroke-width="0.75"/>
<line x1="456.48" y1="104.00" x2="456.48" y2="105.40" stroke="#222" stroke-width="0.75"/>
<line x1="459.57" y1="104.00" x2="459.57" y2="105.40" stroke="#222" stroke-width="0.75"/>
<line x1="461.96" y1="104.00" x2="461.96" y2="105.40" stroke="#222" stroke-width="0.75"/>
<line x1="463.92" y1="104.00" x2="463.92" y2="105.40" stroke="#222" stroke-width="0.75"/>
<line x1="465.57" y1="104.00" x2="465.57" y2="105.40" stroke="#222" stroke-width="0.75"/>
<line x1="467.01" y1="104.00" x2="467.01" y2="105.40" stroke="#222" stroke-width="0.75"/>
<line x1="468.27" y1="104.00" x2="468.27" y2="105.40" stroke="#222" stroke-width="0.75"/>
<line x1="469.40" y1="104.00" x2="469.40" y2="106.40" stroke="#222" stroke-width="0.75"/>
<line x1="476.84" y1="104.00" x2="476.84" y2="105.40" stroke="#222" stroke-width="0.75"/>
<line x1="481.18" y1="104.00" x2="481.18" y2="105.40" stroke="#222" stroke-width="0.75"/>
<line x1="484.27" y1="104.00" x2="484.27" y2="105.40" stroke="#222" stroke-width="0.75"/>
<line x1="486.66" y1="104.00" x2="486.66" y2="105.40" stroke="#222" stroke-width="0.75"/>
<line x1="488.62" y1="104.00" x2="488.62" y2="105.40" stroke="#222" stroke-width="0.75"/>
<line x1="490.27" y1="104.00" x2="490.27" y2="105.40" stroke="#222" stroke-width="0.75"/>
<line x1="491.71" y1="104.00" x2="491.71" y2="105.40" stroke="#222" stroke-width="0.75"/>
<line x1="492.97" y1="104.00" x2="492.97" y2="105.40" stroke="#222" stroke-width="0.75"/>
<line x1="494.10" y1="104.00" x2="494.10" y2="106.40" stroke="#222" stroke-width="0.75"/>
<line x1="501.54" y1="104.00" x2="501.54" y2="105.40" stroke="#222" stroke-width="0.75"/>
<text x="304.00" y="115.20" font-size="7.8" fill="#111" stroke="#111" stroke-width="0.15" text-anchor="middle">10<tspan dy="-3.1" font-size="5.46">2</tspan></text>
<text x="420.00" y="115.00" font-size="7.8" fill="#111" stroke="#111" stroke-width="0.15" text-anchor="middle">10<tspan dy="-3.1" font-size="5.46">2</tspan></text>
<text x="0" y="0" transform="translate(283.40,95.57) rotate(-90)" font-size="7.5" fill="#111" stroke="#111" stroke-width="0.15">10<tspan dy="-3.0" font-size="5.25">2</tspan></text>
<text x="0" y="0" transform="translate(399.30,95.77) rotate(-90)" font-size="7.5" fill="#111" stroke="#111" stroke-width="0.15">10<tspan dy="-3.0" font-size="5.25">2</tspan></text>
<text x="328.50" y="115.20" font-size="7.8" fill="#111" stroke="#111" stroke-width="0.15" text-anchor="middle">10<tspan dy="-3.1" font-size="5.46">3</tspan></text>
<text x="444.70" y="115.00" font-size="7.8" fill="#111" stroke="#111" stroke-width="0.15" text-anchor="middle">10<tspan dy="-3.1" font-size="5.46">3</tspan></text>
<text x="0" y="0" transform="translate(283.40,74.94) rotate(-90)" font-size="7.5" fill="#111" stroke="#111" stroke-width="0.15">10<tspan dy="-3.0" font-size="5.25">3</tspan></text>
<text x="0" y="0" transform="translate(399.30,75.14) rotate(-90)" font-size="7.5" fill="#111" stroke="#111" stroke-width="0.15">10<tspan dy="-3.0" font-size="5.25">3</tspan></text>
<text x="353.00" y="115.20" font-size="7.8" fill="#111" stroke="#111" stroke-width="0.15" text-anchor="middle">10<tspan dy="-3.1" font-size="5.46">4</tspan></text>
<text x="469.40" y="115.00" font-size="7.8" fill="#111" stroke="#111" stroke-width="0.15" text-anchor="middle">10<tspan dy="-3.1" font-size="5.46">4</tspan></text>
<text x="0" y="0" transform="translate(283.40,54.31) rotate(-90)" font-size="7.5" fill="#111" stroke="#111" stroke-width="0.15">10<tspan dy="-3.0" font-size="5.25">4</tspan></text>
<text x="0" y="0" transform="translate(399.30,54.51) rotate(-90)" font-size="7.5" fill="#111" stroke="#111" stroke-width="0.15">10<tspan dy="-3.0" font-size="5.25">4</tspan></text>
<text x="377.50" y="115.20" font-size="7.8" fill="#111" stroke="#111" stroke-width="0.15" text-anchor="middle">10<tspan dy="-3.1" font-size="5.46">5</tspan></text>
<text x="494.10" y="115.00" font-size="7.8" fill="#111" stroke="#111" stroke-width="0.15" text-anchor="middle">10<tspan dy="-3.1" font-size="5.46">5</tspan></text>
<text x="0" y="0" transform="translate(283.40,33.68) rotate(-90)" font-size="7.5" fill="#111" stroke="#111" stroke-width="0.15">10<tspan dy="-3.0" font-size="5.25">5</tspan></text>
<text x="0" y="0" transform="translate(399.30,33.88) rotate(-90)" font-size="7.5" fill="#111" stroke="#111" stroke-width="0.15">10<tspan dy="-3.0" font-size="5.25">5</tspan></text>
<line x1="272.00" y1="24.50" x2="272.00" y2="119.00" stroke="#222" stroke-width="1.1"/>
<line x1="271.45" y1="119.00" x2="385.50" y2="119.00" stroke="#222" stroke-width="1.1"/>
<path d="M272.0 21.4 L274.2 25.8 L269.8 25.8 Z" fill="#111"/>
<path d="M388.8 119.0 L384.4 116.8 L384.4 121.2 Z" fill="#111"/>
<line x1="402.20" y1="119.00" x2="501.50" y2="119.00" stroke="#222" stroke-width="1.1"/>
<path d="M504.6 119.0 L500.2 116.8 L500.2 121.2 Z" fill="#111"/>
<text x="0.00" y="0" transform="translate(311.60,130.60) scale(0.58,1)" font-size="8.7" letter-spacing="0.971" fill="#111" stroke="#111" stroke-width="0.35">CD34-PE-Cy7</text>
<text x="0.00" y="0" transform="translate(432.00,130.30) scale(0.58,1)" font-size="8.7" letter-spacing="1.133" fill="#111" stroke="#111" stroke-width="0.35">CD123-PE-Cy5</text>
<text x="0.00" y="0" transform="translate(267.60,99.80) rotate(-90) scale(0.7047927440197521,1)" font-size="8.4" letter-spacing="0.200" fill="#111" stroke="#111" stroke-width="0.3">CD45-RA-pacific blue</text>
<text x="6.80" y="165.20" font-size="11.2" font-weight="bold" fill="#000" stroke="#000" stroke-width="0.3">C</text>
<text x="6.80" y="290.00" font-size="11.2" font-weight="bold" fill="#000" stroke="#000" stroke-width="0.3">D</text>
<line x1="48.50" y1="180.10" x2="48.50" y2="244.30" stroke="#111" stroke-width="1.05"/>
<line x1="45.20" y1="243.80" x2="48.50" y2="243.80" stroke="#111" stroke-width="1.0"/>
<text x="42.30" y="246.50" font-size="7.6" text-anchor="end" fill="#111" stroke="#111" stroke-width="0.12">0.0</text>
<line x1="45.20" y1="231.16" x2="48.50" y2="231.16" stroke="#111" stroke-width="1.0"/>
<text x="42.30" y="233.86" font-size="7.6" text-anchor="end" fill="#111" stroke="#111" stroke-width="0.12">0.1</text>
<line x1="45.20" y1="218.52" x2="48.50" y2="218.52" stroke="#111" stroke-width="1.0"/>
<text x="42.30" y="221.22" font-size="7.6" text-anchor="end" fill="#111" stroke="#111" stroke-width="0.12">0.2</text>
<line x1="45.20" y1="205.88" x2="48.50" y2="205.88" stroke="#111" stroke-width="1.0"/>
<text x="42.30" y="208.58" font-size="7.6" text-anchor="end" fill="#111" stroke="#111" stroke-width="0.12">0.3</text>
<line x1="45.20" y1="193.24" x2="48.50" y2="193.24" stroke="#111" stroke-width="1.0"/>
<text x="42.30" y="195.94" font-size="7.6" text-anchor="end" fill="#111" stroke="#111" stroke-width="0.12">0.4</text>
<line x1="45.20" y1="180.60" x2="48.50" y2="180.60" stroke="#111" stroke-width="1.0"/>
<text x="42.30" y="183.30" font-size="7.6" text-anchor="end" fill="#111" stroke="#111" stroke-width="0.12">0.5</text>
<line x1="45.20" y1="243.80" x2="127.60" y2="243.80" stroke="#111" stroke-width="1.05"/>
<line x1="61.00" y1="243.80" x2="61.00" y2="246.60" stroke="#111" stroke-width="0.9"/>
<line x1="88.10" y1="243.80" x2="88.10" y2="246.60" stroke="#111" stroke-width="0.9"/>
<line x1="115.00" y1="243.80" x2="115.00" y2="246.60" stroke="#111" stroke-width="0.9"/>
<rect x="52.60" y="231.03" width="7.20" height="12.77" fill="#000"/>
<line x1="56.20" y1="231.03" x2="56.20" y2="218.65" stroke="#000" stroke-width="0.9"/>
<line x1="54.40" y1="218.65" x2="58.00" y2="218.65" stroke="#000" stroke-width="0.9"/>
<circle cx="56.20" cy="210.68" r="1.45" fill="#fff" stroke="#000" stroke-width="0.85"/>
<circle cx="59.60" cy="230.28" r="1.45" fill="#fff" stroke="#000" stroke-width="0.85"/>
<circle cx="52.80" cy="233.06" r="1.45" fill="#fff" stroke="#000" stroke-width="0.85"/>
<circle cx="52.80" cy="239.50" r="1.45" fill="#fff" stroke="#000" stroke-width="0.85"/>
<circle cx="59.60" cy="237.99" r="1.45" fill="#fff" stroke="#000" stroke-width="0.85"/>
<rect x="62.30" y="241.02" width="7.20" height="2.78" fill="#0c6b51"/>
<circle cx="65.90" cy="233.69" r="1.3" fill="#fff" stroke="#0c6b51" stroke-width="0.85"/>
<circle cx="65.90" cy="236.97" r="1.3" fill="#fff" stroke="#0c6b51" stroke-width="0.85"/>
<circle cx="65.90" cy="240.01" r="1.3" fill="#fff" stroke="#0c6b51" stroke-width="0.85"/>
<circle cx="62.50" cy="242.03" r="1.3" fill="#fff" stroke="#0c6b51" stroke-width="0.85"/>
<circle cx="69.30" cy="242.03" r="1.3" fill="#fff" stroke="#0c6b51" stroke-width="0.85"/>
<circle cx="65.90" cy="242.54" r="1.3" fill="#fff" stroke="#0c6b51" stroke-width="0.85"/>
<rect x="79.70" y="225.22" width="7.20" height="18.58" fill="#000"/>
<line x1="83.30" y1="225.22" x2="83.30" y2="212.96" stroke="#000" stroke-width="0.9"/>
<line x1="81.50" y1="212.96" x2="85.10" y2="212.96" stroke="#000" stroke-width="0.9"/>
<circle cx="83.30" cy="213.97" r="1.45" fill="#fff" stroke="#000" stroke-width="0.85"/>
<circle cx="83.30" cy="216.50" r="1.45" fill="#fff" stroke="#000" stroke-width="0.85"/>
<circle cx="79.90" cy="221.81" r="1.45" fill="#fff" stroke="#000" stroke-width="0.85"/>
<circle cx="86.70" cy="221.05" r="1.45" fill="#fff" stroke="#000" stroke-width="0.85"/>
<circle cx="83.30" cy="232.30" r="0.9" fill="#fff"/>
<circle cx="83.30" cy="235.58" r="0.9" fill="#fff"/>
<rect x="89.40" y="236.22" width="7.20" height="7.58" fill="#0c6b51"/>
<circle cx="90.00" cy="234.95" r="1.3" fill="#fff" stroke="#0c6b51" stroke-width="0.85"/>
<circle cx="93.00" cy="234.95" r="1.3" fill="#fff" stroke="#0c6b51" stroke-width="0.85"/>
<circle cx="96.00" cy="234.95" r="1.3" fill="#fff" stroke="#0c6b51" stroke-width="0.85"/>
<circle cx="90.00" cy="237.48" r="1.3" fill="#fff" stroke="#0c6b51" stroke-width="0.85"/>
<circle cx="93.00" cy="237.48" r="1.3" fill="#fff" stroke="#0c6b51" stroke-width="0.85"/>
<circle cx="96.00" cy="237.48" r="1.3" fill="#fff" stroke="#0c6b51" stroke-width="0.85"/>
<circle cx="93.00" cy="241.27" r="0.9" fill="#fff"/>
<rect x="106.60" y="235.20" width="7.20" height="8.60" fill="#000"/>
<circle cx="110.20" cy="228.51" r="1.45" fill="#fff" stroke="#000" stroke-width="0.85"/>
<circle cx="110.20" cy="230.53" r="1.45" fill="#fff" stroke="#000" stroke-width="0.85"/>
<circle cx="110.20" cy="233.06" r="1.45" fill="#fff" stroke="#000" stroke-width="0.85"/>
<circle cx="106.80" cy="240.01" r="1.45" fill="#fff" stroke="#000" stroke-width="0.85"/>
<circle cx="113.60" cy="240.01" r="1.45" fill="#fff" stroke="#000" stroke-width="0.85"/>
<rect x="116.30" y="236.97" width="7.20" height="6.83" fill="#0c6b51"/>
<line x1="119.90" y1="236.97" x2="119.90" y2="228.38" stroke="#0c6b51" stroke-width="0.9"/>
<line x1="118.10" y1="228.38" x2="121.70" y2="228.38" stroke="#0c6b51" stroke-width="0.9"/>
<circle cx="119.90" cy="221.68" r="1.3" fill="#fff" stroke="#0c6b51" stroke-width="0.85"/>
<circle cx="119.90" cy="236.97" r="1.3" fill="#fff" stroke="#0c6b51" stroke-width="0.85"/>
<circle cx="116.50" cy="240.01" r="1.3" fill="#fff" stroke="#0c6b51" stroke-width="0.85"/>
<circle cx="123.30" cy="240.01" r="1.3" fill="#fff" stroke="#0c6b51" stroke-width="0.85"/>
<circle cx="119.90" cy="242.28" r="1.3" fill="#fff" stroke="#0c6b51" stroke-width="0.85"/>
<text x="-6.29" y="0" transform="translate(61.10,256.60) scale(0.66,1)" font-size="8.7" letter-spacing="-1.439" fill="#111" stroke="#111" stroke-width="0.12">GM</text>
<text x="-2.90" y="0" transform="translate(88.20,256.60) scale(0.66,1)" font-size="8.7" letter-spacing="0.000" fill="#111" stroke="#111" stroke-width="0.12">E</text>
<text x="-6.67" y="0" transform="translate(115.10,256.60) scale(0.66,1)" font-size="8.7" letter-spacing="-0.098" fill="#111" stroke="#111" stroke-width="0.12">Mix</text>
<line x1="82.00" y1="189.30" x2="94.00" y2="189.30" stroke="#222" stroke-width="1"/>
<line x1="82.50" y1="189.30" x2="82.50" y2="192.00" stroke="#222" stroke-width="1"/>
<line x1="93.50" y1="189.30" x2="93.50" y2="192.00" stroke="#222" stroke-width="1"/>
<circle cx="87.8" cy="184.3" r="1.05" fill="#111"/>
<text x="66.70" y="164.40" font-size="9.8" fill="#111" textLength="42.9" lengthAdjust="spacingAndGlyphs" stroke="#111" stroke-width="0.1">HSC/MPP</text>
<circle cx="53.50" cy="175.40" r="1.4" fill="#fff" stroke="#222" stroke-width="1.1"/>
<text x="57.50" y="177.85" font-size="7.0" fill="#111" textLength="24.8" lengthAdjust="spacingAndGlyphs" stroke="#111" stroke-width="0.22">CTRLsh</text>
<circle cx="90.60" cy="175.40" r="1.4" fill="#fff" stroke="#0c6b51" stroke-width="1.1"/>
<text x="93.40" y="177.85" font-size="7.0" fill="#111" stroke="#111" stroke-width="0.22">ZZZ3sh</text>
<text x="0.00" y="0" transform="translate(14.50,236.80) rotate(-90) scale(0.6606421059447062,1)" font-size="8.6" letter-spacing="0.200" fill="#111" stroke="#111" stroke-width="0.42">Frequency</text>
<text x="0.00" y="0" transform="translate(14.50,205.30) rotate(-90) scale(0.8816828273194511,1)" font-size="8.6" letter-spacing="0.200" fill="#111" stroke="#111" stroke-width="0.42">of</text>
<text x="0.00" y="0" transform="translate(14.50,197.00) rotate(-90) scale(0.531134680116488,1)" font-size="8.6" letter-spacing="0.200" fill="#111" stroke="#111" stroke-width="0.42">CFC</text>
<text x="0.00" y="0" transform="translate(25.70,240.80) rotate(-90) scale(0.6523355034809017,1)" font-size="8.6" letter-spacing="0.200" fill="#111" stroke="#111" stroke-width="0.42">amongst</text>
<text x="0.00" y="0" transform="translate(25.70,214.60) rotate(-90) scale(0.6999120633144134,1)" font-size="8.6" letter-spacing="0.200" fill="#111" stroke="#111" stroke-width="0.42">plated</text>
<text x="0.00" y="0" transform="translate(25.70,196.20) rotate(-90) scale(0.727608034150019,1)" font-size="8.6" letter-spacing="0.200" fill="#111" stroke="#111" stroke-width="0.42">cells</text>
<line x1="176.50" y1="180.10" x2="176.50" y2="244.30" stroke="#111" stroke-width="1.05"/>
<line x1="173.20" y1="243.80" x2="176.50" y2="243.80" stroke="#111" stroke-width="1.0"/>
<text x="170.30" y="246.50" font-size="7.6" text-anchor="end" fill="#111" stroke="#111" stroke-width="0.12">0.0</text>
<line x1="173.20" y1="231.16" x2="176.50" y2="231.16" stroke="#111" stroke-width="1.0"/>
<text x="170.30" y="233.86" font-size="7.6" text-anchor="end" fill="#111" stroke="#111" stroke-width="0.12">0.1</text>
<line x1="173.20" y1="218.52" x2="176.50" y2="218.52" stroke="#111" stroke-width="1.0"/>
<text x="170.30" y="221.22" font-size="7.6" text-anchor="end" fill="#111" stroke="#111" stroke-width="0.12">0.2</text>
<line x1="173.20" y1="205.88" x2="176.50" y2="205.88" stroke="#111" stroke-width="1.0"/>
<text x="170.30" y="208.58" font-size="7.6" text-anchor="end" fill="#111" stroke="#111" stroke-width="0.12">0.3</text>
<line x1="173.20" y1="193.24" x2="176.50" y2="193.24" stroke="#111" stroke-width="1.0"/>
<text x="170.30" y="195.94" font-size="7.6" text-anchor="end" fill="#111" stroke="#111" stroke-width="0.12">0.4</text>
<line x1="173.20" y1="180.60" x2="176.50" y2="180.60" stroke="#111" stroke-width="1.0"/>
<text x="170.30" y="183.30" font-size="7.6" text-anchor="end" fill="#111" stroke="#111" stroke-width="0.12">0.5</text>
<line x1="173.20" y1="243.80" x2="259.00" y2="243.80" stroke="#111" stroke-width="1.05"/>
<line x1="189.60" y1="243.80" x2="189.60" y2="246.60" stroke="#111" stroke-width="0.9"/>
<line x1="217.60" y1="243.80" x2="217.60" y2="246.60" stroke="#111" stroke-width="0.9"/>
<line x1="245.60" y1="243.80" x2="245.60" y2="246.60" stroke="#111" stroke-width="0.9"/>
<rect x="181.20" y="241.27" width="7.20" height="2.53" fill="#000"/>
<circle cx="181.40" cy="239.63" r="1.45" fill="#fff" stroke="#000" stroke-width="0.85"/>
<circle cx="184.80" cy="239.63" r="1.45" fill="#fff" stroke="#000" stroke-width="0.85"/>
<circle cx="188.20" cy="239.25" r="1.45" fill="#fff" stroke="#000" stroke-width="0.85"/>
<circle cx="181.40" cy="243.80" r="1.45" fill="#fff" stroke="#000" stroke-width="0.85"/>
<circle cx="188.20" cy="242.54" r="1.45" fill="#fff" stroke="#000" stroke-width="0.85"/>
<rect x="190.90" y="240.77" width="7.20" height="3.03" fill="#0c6b51"/>
<circle cx="191.10" cy="240.51" r="1.3" fill="#fff" stroke="#0c6b51" stroke-width="0.85"/>
<circle cx="194.50" cy="240.77" r="1.3" fill="#fff" stroke="#0c6b51" stroke-width="0.85"/>
<circle cx="197.90" cy="238.74" r="1.3" fill="#fff" stroke="#0c6b51" stroke-width="0.85"/>
<circle cx="191.10" cy="243.80" r="1.3" fill="#fff" stroke="#0c6b51" stroke-width="0.85"/>
<circle cx="197.90" cy="243.80" r="1.3" fill="#fff" stroke="#0c6b51" stroke-width="0.85"/>
<rect x="209.20" y="209.42" width="7.20" height="34.38" fill="#000"/>
<line x1="212.80" y1="209.42" x2="212.80" y2="202.09" stroke="#000" stroke-width="0.9"/>
<line x1="211.00" y1="202.09" x2="214.60" y2="202.09" stroke="#000" stroke-width="0.9"/>
<circle cx="212.80" cy="201.46" r="1.45" fill="#fff" stroke="#000" stroke-width="0.85"/>
<circle cx="212.80" cy="203.98" r="1.45" fill="#fff" stroke="#000" stroke-width="0.85"/>
<circle cx="212.80" cy="207.14" r="1.45" fill="#fff" stroke="#000" stroke-width="0.85"/>
<circle cx="212.80" cy="212.20" r="0.9" fill="#fff"/>
<circle cx="212.80" cy="215.99" r="0.9" fill="#fff"/>
<rect x="218.90" y="212.20" width="7.20" height="31.60" fill="#0c6b51"/>
<line x1="222.50" y1="212.20" x2="222.50" y2="203.35" stroke="#0c6b51" stroke-width="0.9"/>
<line x1="220.70" y1="203.35" x2="224.30" y2="203.35" stroke="#0c6b51" stroke-width="0.9"/>
<circle cx="219.20" cy="203.35" r="1.3" fill="#fff" stroke="#0c6b51" stroke-width="0.85"/>
<circle cx="222.50" cy="203.35" r="1.3" fill="#fff" stroke="#0c6b51" stroke-width="0.85"/>
<circle cx="225.80" cy="203.35" r="1.3" fill="#fff" stroke="#0c6b51" stroke-width="0.85"/>
<circle cx="222.50" cy="216.62" r="0.9" fill="#fff"/>
<circle cx="222.50" cy="222.31" r="0.9" fill="#fff"/>
<rect x="237.20" y="231.16" width="7.20" height="12.64" fill="#000"/>
<line x1="240.80" y1="231.16" x2="240.80" y2="220.42" stroke="#000" stroke-width="0.9"/>
<line x1="239.00" y1="220.42" x2="242.60" y2="220.42" stroke="#000" stroke-width="0.9"/>
<circle cx="240.80" cy="217.00" r="1.45" fill="#fff" stroke="#000" stroke-width="0.85"/>
<circle cx="240.80" cy="227.37" r="1.45" fill="#fff" stroke="#000" stroke-width="0.85"/>
<circle cx="240.80" cy="235.46" r="0.9" fill="#fff"/>
<circle cx="240.80" cy="240.64" r="0.9" fill="#fff"/>
<rect x="246.90" y="230.53" width="7.20" height="13.27" fill="#0c6b51"/>
<circle cx="250.50" cy="222.56" r="1.3" fill="#fff" stroke="#0c6b51" stroke-width="0.85"/>
<circle cx="250.50" cy="226.61" r="1.3" fill="#fff" stroke="#0c6b51" stroke-width="0.85"/>
<circle cx="250.50" cy="233.44" r="0.9" fill="#fff"/>
<circle cx="250.50" cy="236.97" r="0.9" fill="#fff"/>
<text x="-6.29" y="0" transform="translate(189.70,256.60) scale(0.66,1)" font-size="8.7" letter-spacing="-1.439" fill="#111" stroke="#111" stroke-width="0.12">GM</text>
<text x="-2.90" y="0" transform="translate(217.70,256.60) scale(0.66,1)" font-size="8.7" letter-spacing="0.000" fill="#111" stroke="#111" stroke-width="0.12">E</text>
<text x="-6.67" y="0" transform="translate(245.70,256.60) scale(0.66,1)" font-size="8.7" letter-spacing="-0.098" fill="#111" stroke="#111" stroke-width="0.12">Mix</text>
<text x="208.00" y="164.40" font-size="9.8" fill="#111" textLength="19.7" lengthAdjust="spacingAndGlyphs" stroke="#111" stroke-width="0.1">MEP</text>
<circle cx="182.10" cy="175.40" r="1.4" fill="#fff" stroke="#222" stroke-width="1.1"/>
<text x="186.50" y="177.85" font-size="7.0" fill="#111" textLength="24.8" lengthAdjust="spacingAndGlyphs" stroke="#111" stroke-width="0.22">CTRLsh</text>
<circle cx="219.70" cy="175.40" r="1.4" fill="#fff" stroke="#0c6b51" stroke-width="1.1"/>
<text x="223.80" y="177.85" font-size="7.0" fill="#111" stroke="#111" stroke-width="0.22">ZZZ3sh</text>
<text x="0.00" y="0" transform="translate(142.10,236.80) rotate(-90) scale(0.6606421059447062,1)" font-size="8.6" letter-spacing="0.200" fill="#111" stroke="#111" stroke-width="0.42">Frequency</text>
<text x="0.00" y="0" transform="translate(142.10,205.30) rotate(-90) scale(0.8816828273194511,1)" font-size="8.6" letter-spacing="0.200" fill="#111" stroke="#111" stroke-width="0.42">of</text>
<text x="0.00" y="0" transform="translate(142.10,197.00) rotate(-90) scale(0.531134680116488,1)" font-size="8.6" letter-spacing="0.200" fill="#111" stroke="#111" stroke-width="0.42">CFC</text>
<text x="0.00" y="0" transform="translate(153.70,240.80) rotate(-90) scale(0.6523355034809017,1)" font-size="8.6" letter-spacing="0.200" fill="#111" stroke="#111" stroke-width="0.42">amongst</text>
<text x="0.00" y="0" transform="translate(153.70,214.60) rotate(-90) scale(0.6999120633144134,1)" font-size="8.6" letter-spacing="0.200" fill="#111" stroke="#111" stroke-width="0.42">plated</text>
<text x="0.00" y="0" transform="translate(153.70,196.20) rotate(-90) scale(0.727608034150019,1)" font-size="8.6" letter-spacing="0.200" fill="#111" stroke="#111" stroke-width="0.42">cells</text>
<line x1="306.50" y1="180.10" x2="306.50" y2="244.30" stroke="#111" stroke-width="1.05"/>
<line x1="303.20" y1="243.80" x2="306.50" y2="243.80" stroke="#111" stroke-width="1.0"/>
<text x="300.30" y="246.50" font-size="7.6" text-anchor="end" fill="#111" stroke="#111" stroke-width="0.12">0.0</text>
<line x1="303.20" y1="231.16" x2="306.50" y2="231.16" stroke="#111" stroke-width="1.0"/>
<text x="300.30" y="233.86" font-size="7.6" text-anchor="end" fill="#111" stroke="#111" stroke-width="0.12">0.1</text>
<line x1="303.20" y1="218.52" x2="306.50" y2="218.52" stroke="#111" stroke-width="1.0"/>
<text x="300.30" y="221.22" font-size="7.6" text-anchor="end" fill="#111" stroke="#111" stroke-width="0.12">0.2</text>
<line x1="303.20" y1="205.88" x2="306.50" y2="205.88" stroke="#111" stroke-width="1.0"/>
<text x="300.30" y="208.58" font-size="7.6" text-anchor="end" fill="#111" stroke="#111" stroke-width="0.12">0.3</text>
<line x1="303.20" y1="193.24" x2="306.50" y2="193.24" stroke="#111" stroke-width="1.0"/>
<text x="300.30" y="195.94" font-size="7.6" text-anchor="end" fill="#111" stroke="#111" stroke-width="0.12">0.4</text>
<line x1="303.20" y1="180.60" x2="306.50" y2="180.60" stroke="#111" stroke-width="1.0"/>
<text x="300.30" y="183.30" font-size="7.6" text-anchor="end" fill="#111" stroke="#111" stroke-width="0.12">0.5</text>
<line x1="303.20" y1="243.80" x2="385.30" y2="243.80" stroke="#111" stroke-width="1.05"/>
<line x1="319.00" y1="243.80" x2="319.00" y2="246.60" stroke="#111" stroke-width="0.9"/>
<line x1="346.40" y1="243.80" x2="346.40" y2="246.60" stroke="#111" stroke-width="0.9"/>
<line x1="374.00" y1="243.80" x2="374.00" y2="246.60" stroke="#111" stroke-width="0.9"/>
<rect x="310.60" y="221.81" width="7.20" height="21.99" fill="#000"/>
<line x1="314.20" y1="221.81" x2="314.20" y2="205.88" stroke="#000" stroke-width="0.9"/>
<line x1="312.40" y1="205.88" x2="316.00" y2="205.88" stroke="#000" stroke-width="0.9"/>
<circle cx="314.20" cy="205.88" r="1.45" fill="#fff" stroke="#000" stroke-width="0.85"/>
<circle cx="314.20" cy="210.30" r="1.45" fill="#fff" stroke="#000" stroke-width="0.85"/>
<circle cx="314.20" cy="213.46" r="1.45" fill="#fff" stroke="#000" stroke-width="0.85"/>
<circle cx="314.20" cy="218.52" r="1.45" fill="#fff" stroke="#000" stroke-width="0.85"/>
<circle cx="314.20" cy="243.80" r="1.45" fill="#fff" stroke="#000" stroke-width="0.85"/>
<rect x="320.30" y="228.51" width="7.20" height="15.29" fill="#0c6b51"/>
<line x1="323.90" y1="228.51" x2="323.90" y2="212.20" stroke="#0c6b51" stroke-width="0.9"/>
<line x1="322.10" y1="212.20" x2="325.70" y2="212.20" stroke="#0c6b51" stroke-width="0.9"/>
<circle cx="323.90" cy="212.20" r="1.3" fill="#fff" stroke="#0c6b51" stroke-width="0.85"/>
<circle cx="323.90" cy="215.99" r="1.3" fill="#fff" stroke="#0c6b51" stroke-width="0.85"/>
<circle cx="323.90" cy="222.31" r="1.3" fill="#fff" stroke="#0c6b51" stroke-width="0.85"/>
<circle cx="323.90" cy="231.16" r="0.9" fill="#fff"/>
<circle cx="323.90" cy="243.80" r="1.3" fill="#fff" stroke="#0c6b51" stroke-width="0.85"/>
<circle cx="320.50" cy="243.80" r="1.3" fill="#fff" stroke="#0c6b51" stroke-width="0.85"/>
<circle cx="327.30" cy="243.80" r="1.3" fill="#fff" stroke="#0c6b51" stroke-width="0.85"/>
<circle cx="338.30" cy="243.80" r="1.45" fill="#fff" stroke="#000" stroke-width="0.85"/>
<circle cx="341.60" cy="242.28" r="1.45" fill="#fff" stroke="#000" stroke-width="0.85"/>
<circle cx="344.90" cy="243.80" r="1.45" fill="#fff" stroke="#000" stroke-width="0.85"/>
<rect x="346.30" y="242.00" width="10.00" height="3.30" fill="#4a9a84"/>
<circle cx="348.20" cy="243.60" r="0.85" fill="#fff"/>
<circle cx="351.30" cy="243.60" r="0.85" fill="#fff"/>
<circle cx="354.40" cy="243.60" r="0.85" fill="#fff"/>
<circle cx="365.90" cy="243.80" r="1.45" fill="#fff" stroke="#000" stroke-width="0.85"/>
<circle cx="369.20" cy="242.28" r="1.45" fill="#fff" stroke="#000" stroke-width="0.85"/>
<circle cx="372.50" cy="243.80" r="1.45" fill="#fff" stroke="#000" stroke-width="0.85"/>
<rect x="375.30" y="237.48" width="7.20" height="6.32" fill="#0c6b51"/>
<line x1="378.90" y1="237.48" x2="378.90" y2="222.31" stroke="#0c6b51" stroke-width="0.9"/>
<line x1="377.10" y1="222.31" x2="380.70" y2="222.31" stroke="#0c6b51" stroke-width="0.9"/>
<rect x="373.90" y="242.00" width="10.00" height="3.30" fill="#4a9a84"/>
<circle cx="375.80" cy="243.60" r="0.85" fill="#fff"/>
<circle cx="378.90" cy="243.60" r="0.85" fill="#fff"/>
<circle cx="382.00" cy="243.60" r="0.85" fill="#fff"/>
<circle cx="378.90" cy="215.61" r="1.3" fill="#fff" stroke="#0c6b51" stroke-width="0.85"/>
<text x="-6.29" y="0" transform="translate(319.10,256.60) scale(0.66,1)" font-size="8.7" letter-spacing="-1.439" fill="#111" stroke="#111" stroke-width="0.12">GM</text>
<text x="-2.90" y="0" transform="translate(346.50,256.60) scale(0.66,1)" font-size="8.7" letter-spacing="0.000" fill="#111" stroke="#111" stroke-width="0.12">E</text>
<text x="-6.67" y="0" transform="translate(374.10,256.60) scale(0.66,1)" font-size="8.7" letter-spacing="-0.098" fill="#111" stroke="#111" stroke-width="0.12">Mix</text>
<text x="335.40" y="164.40" font-size="9.8" fill="#111" textLength="21.5" lengthAdjust="spacingAndGlyphs" stroke="#111" stroke-width="0.1">GMP</text>
<circle cx="312.20" cy="175.40" r="1.4" fill="#fff" stroke="#222" stroke-width="1.1"/>
<text x="316.90" y="177.85" font-size="7.0" fill="#111" textLength="24.8" lengthAdjust="spacingAndGlyphs" stroke="#111" stroke-width="0.22">CTRLsh</text>
<circle cx="347.70" cy="175.40" r="1.4" fill="#fff" stroke="#0c6b51" stroke-width="1.1"/>
<text x="351.50" y="177.85" font-size="7.0" fill="#111" stroke="#111" stroke-width="0.22">ZZZ3sh</text>
<text x="0.00" y="0" transform="translate(272.90,236.80) rotate(-90) scale(0.6606421059447062,1)" font-size="8.6" letter-spacing="0.200" fill="#111" stroke="#111" stroke-width="0.42">Frequency</text>
<text x="0.00" y="0" transform="translate(272.90,205.30) rotate(-90) scale(0.8816828273194511,1)" font-size="8.6" letter-spacing="0.200" fill="#111" stroke="#111" stroke-width="0.42">of</text>
<text x="0.00" y="0" transform="translate(272.90,197.00) rotate(-90) scale(0.531134680116488,1)" font-size="8.6" letter-spacing="0.200" fill="#111" stroke="#111" stroke-width="0.42">CFC</text>
<text x="0.00" y="0" transform="translate(284.40,240.80) rotate(-90) scale(0.6523355034809017,1)" font-size="8.6" letter-spacing="0.200" fill="#111" stroke="#111" stroke-width="0.42">amongst</text>
<text x="0.00" y="0" transform="translate(284.40,214.60) rotate(-90) scale(0.6999120633144134,1)" font-size="8.6" letter-spacing="0.200" fill="#111" stroke="#111" stroke-width="0.42">plated</text>
<text x="0.00" y="0" transform="translate(284.40,196.20) rotate(-90) scale(0.727608034150019,1)" font-size="8.6" letter-spacing="0.200" fill="#111" stroke="#111" stroke-width="0.42">cells</text>
<line x1="430.00" y1="179.60" x2="430.00" y2="244.30" stroke="#111" stroke-width="1.05"/>
<line x1="426.70" y1="243.80" x2="430.00" y2="243.80" stroke="#111" stroke-width="1.0"/>
<text x="423.80" y="246.50" font-size="7.6" text-anchor="end" fill="#111" stroke="#111" stroke-width="0.12">0.0</text>
<line x1="426.70" y1="227.88" x2="430.00" y2="227.88" stroke="#111" stroke-width="1.0"/>
<text x="423.80" y="230.57" font-size="7.6" text-anchor="end" fill="#111" stroke="#111" stroke-width="0.12">0.2</text>
<line x1="426.70" y1="211.95" x2="430.00" y2="211.95" stroke="#111" stroke-width="1.0"/>
<text x="423.80" y="214.65" font-size="7.6" text-anchor="end" fill="#111" stroke="#111" stroke-width="0.12">0.4</text>
<line x1="426.70" y1="196.03" x2="430.00" y2="196.03" stroke="#111" stroke-width="1.0"/>
<text x="423.80" y="198.72" font-size="7.6" text-anchor="end" fill="#111" stroke="#111" stroke-width="0.12">0.6</text>
<line x1="426.70" y1="180.10" x2="430.00" y2="180.10" stroke="#111" stroke-width="1.0"/>
<text x="423.80" y="182.80" font-size="7.6" text-anchor="end" fill="#111" stroke="#111" stroke-width="0.12">0.8</text>
<line x1="426.70" y1="243.80" x2="512.00" y2="243.80" stroke="#111" stroke-width="1.05"/>
<line x1="442.80" y1="243.80" x2="442.80" y2="246.60" stroke="#111" stroke-width="0.9"/>
<line x1="470.60" y1="243.80" x2="470.60" y2="246.60" stroke="#111" stroke-width="0.9"/>
<line x1="499.00" y1="243.80" x2="499.00" y2="246.60" stroke="#111" stroke-width="0.9"/>
<rect x="434.40" y="231.46" width="7.20" height="12.34" fill="#000"/>
<line x1="438.00" y1="231.46" x2="438.00" y2="214.34" stroke="#000" stroke-width="0.9"/>
<line x1="436.20" y1="214.34" x2="439.80" y2="214.34" stroke="#000" stroke-width="0.9"/>
<circle cx="438.00" cy="206.38" r="1.45" fill="#fff" stroke="#000" stroke-width="0.85"/>
<circle cx="438.00" cy="235.84" r="0.9" fill="#fff"/>
<circle cx="438.00" cy="239.02" r="0.9" fill="#fff"/>
<circle cx="438.00" cy="243.80" r="1.45" fill="#fff" stroke="#000" stroke-width="0.85"/>
<rect x="444.10" y="239.82" width="7.20" height="3.98" fill="#0c6b51"/>
<line x1="447.70" y1="239.82" x2="447.70" y2="231.86" stroke="#0c6b51" stroke-width="0.9"/>
<line x1="445.90" y1="231.86" x2="449.50" y2="231.86" stroke="#0c6b51" stroke-width="0.9"/>
<circle cx="447.70" cy="229.47" r="1.3" fill="#fff" stroke="#0c6b51" stroke-width="0.85"/>
<circle cx="447.70" cy="239.82" r="1.3" fill="#fff" stroke="#0c6b51" stroke-width="0.85"/>
<circle cx="444.40" cy="243.80" r="1.3" fill="#fff" stroke="#0c6b51" stroke-width="0.85"/>
<circle cx="451.00" cy="243.80" r="1.3" fill="#fff" stroke="#0c6b51" stroke-width="0.85"/>
<circle cx="462.50" cy="243.80" r="1.45" fill="#fff" stroke="#000" stroke-width="0.85"/>
<circle cx="465.80" cy="243.80" r="1.45" fill="#fff" stroke="#000" stroke-width="0.85"/>
<circle cx="469.10" cy="243.80" r="1.45" fill="#fff" stroke="#000" stroke-width="0.85"/>
<rect x="470.50" y="242.00" width="10.00" height="3.30" fill="#4a9a84"/>
<circle cx="472.40" cy="243.60" r="0.85" fill="#fff"/>
<circle cx="475.50" cy="243.60" r="0.85" fill="#fff"/>
<circle cx="478.60" cy="243.60" r="0.85" fill="#fff"/>
<circle cx="490.90" cy="243.80" r="1.45" fill="#fff" stroke="#000" stroke-width="0.85"/>
<circle cx="494.20" cy="243.80" r="1.45" fill="#fff" stroke="#000" stroke-width="0.85"/>
<circle cx="497.50" cy="243.80" r="1.45" fill="#fff" stroke="#000" stroke-width="0.85"/>
<rect x="500.30" y="237.43" width="7.20" height="6.37" fill="#0c6b51"/>
<line x1="503.90" y1="237.43" x2="503.90" y2="223.10" stroke="#0c6b51" stroke-width="0.9"/>
<line x1="502.10" y1="223.10" x2="505.70" y2="223.10" stroke="#0c6b51" stroke-width="0.9"/>
<rect x="498.90" y="242.00" width="10.00" height="3.30" fill="#4a9a84"/>
<circle cx="500.80" cy="243.60" r="0.85" fill="#fff"/>
<circle cx="503.90" cy="243.60" r="0.85" fill="#fff"/>
<circle cx="507.00" cy="243.60" r="0.85" fill="#fff"/>
<circle cx="503.90" cy="215.93" r="1.3" fill="#fff" stroke="#0c6b51" stroke-width="0.85"/>
<text x="-6.29" y="0" transform="translate(442.90,256.60) scale(0.66,1)" font-size="8.7" letter-spacing="-1.439" fill="#111" stroke="#111" stroke-width="0.12">GM</text>
<text x="-2.90" y="0" transform="translate(470.70,256.60) scale(0.66,1)" font-size="8.7" letter-spacing="0.000" fill="#111" stroke="#111" stroke-width="0.12">E</text>
<text x="-6.67" y="0" transform="translate(499.10,256.60) scale(0.66,1)" font-size="8.7" letter-spacing="-0.098" fill="#111" stroke="#111" stroke-width="0.12">Mix</text>
<text x="462.00" y="164.40" font-size="9.8" fill="#111" textLength="18.5" lengthAdjust="spacingAndGlyphs" stroke="#111" stroke-width="0.1">MLP</text>
<circle cx="434.90" cy="175.40" r="1.4" fill="#fff" stroke="#222" stroke-width="1.1"/>
<text x="438.50" y="177.85" font-size="7.0" fill="#111" textLength="24.8" lengthAdjust="spacingAndGlyphs" stroke="#111" stroke-width="0.22">CTRLsh</text>
<circle cx="470.30" cy="175.40" r="1.4" fill="#fff" stroke="#0c6b51" stroke-width="1.1"/>
<text x="474.30" y="177.85" font-size="7.0" fill="#111" stroke="#111" stroke-width="0.22">ZZZ3sh</text>
<text x="0.00" y="0" transform="translate(395.40,236.80) rotate(-90) scale(0.6606421059447062,1)" font-size="8.6" letter-spacing="0.200" fill="#111" stroke="#111" stroke-width="0.42">Frequency</text>
<text x="0.00" y="0" transform="translate(395.40,205.30) rotate(-90) scale(0.8816828273194511,1)" font-size="8.6" letter-spacing="0.200" fill="#111" stroke="#111" stroke-width="0.42">of</text>
<text x="0.00" y="0" transform="translate(395.40,197.00) rotate(-90) scale(0.531134680116488,1)" font-size="8.6" letter-spacing="0.200" fill="#111" stroke="#111" stroke-width="0.42">CFC</text>
<text x="0.00" y="0" transform="translate(406.20,240.80) rotate(-90) scale(0.6523355034809017,1)" font-size="8.6" letter-spacing="0.200" fill="#111" stroke="#111" stroke-width="0.42">amongst</text>
<text x="0.00" y="0" transform="translate(406.20,214.60) rotate(-90) scale(0.6999120633144134,1)" font-size="8.6" letter-spacing="0.200" fill="#111" stroke="#111" stroke-width="0.42">plated</text>
<text x="0.00" y="0" transform="translate(406.20,196.20) rotate(-90) scale(0.727608034150019,1)" font-size="8.6" letter-spacing="0.200" fill="#111" stroke="#111" stroke-width="0.42">cells</text>
<line x1="48.50" y1="304.30" x2="48.50" y2="369.90" stroke="#111" stroke-width="1.05"/>
<line x1="45.20" y1="369.40" x2="48.50" y2="369.40" stroke="#111" stroke-width="1.0"/>
<text x="42.30" y="372.10" font-size="7.6" text-anchor="end" fill="#111" stroke="#111" stroke-width="0.12">0.0</text>
<line x1="45.20" y1="356.48" x2="48.50" y2="356.48" stroke="#111" stroke-width="1.0"/>
<text x="42.30" y="359.18" font-size="7.6" text-anchor="end" fill="#111" stroke="#111" stroke-width="0.12">0.1</text>
<line x1="45.20" y1="343.56" x2="48.50" y2="343.56" stroke="#111" stroke-width="1.0"/>
<text x="42.30" y="346.26" font-size="7.6" text-anchor="end" fill="#111" stroke="#111" stroke-width="0.12">0.2</text>
<line x1="45.20" y1="330.64" x2="48.50" y2="330.64" stroke="#111" stroke-width="1.0"/>
<text x="42.30" y="333.34" font-size="7.6" text-anchor="end" fill="#111" stroke="#111" stroke-width="0.12">0.3</text>
<line x1="45.20" y1="317.72" x2="48.50" y2="317.72" stroke="#111" stroke-width="1.0"/>
<text x="42.30" y="320.42" font-size="7.6" text-anchor="end" fill="#111" stroke="#111" stroke-width="0.12">0.4</text>
<line x1="45.20" y1="304.80" x2="48.50" y2="304.80" stroke="#111" stroke-width="1.0"/>
<text x="42.30" y="307.50" font-size="7.6" text-anchor="end" fill="#111" stroke="#111" stroke-width="0.12">0.5</text>
<line x1="45.20" y1="369.40" x2="131.40" y2="369.40" stroke="#111" stroke-width="1.05"/>
<line x1="61.50" y1="369.40" x2="61.50" y2="372.20" stroke="#111" stroke-width="0.9"/>
<line x1="90.00" y1="369.40" x2="90.00" y2="372.20" stroke="#111" stroke-width="0.9"/>
<line x1="118.50" y1="369.40" x2="118.50" y2="372.20" stroke="#111" stroke-width="0.9"/>
<rect x="53.10" y="351.31" width="7.20" height="18.09" fill="#000"/>
<line x1="56.70" y1="351.31" x2="56.70" y2="338.39" stroke="#000" stroke-width="0.9"/>
<line x1="54.90" y1="338.39" x2="58.50" y2="338.39" stroke="#000" stroke-width="0.9"/>
<circle cx="56.70" cy="334.52" r="1.45" fill="#fff" stroke="#000" stroke-width="0.85"/>
<circle cx="56.70" cy="346.14" r="1.45" fill="#fff" stroke="#000" stroke-width="0.85"/>
<circle cx="53.30" cy="362.94" r="1.45" fill="#fff" stroke="#000" stroke-width="0.85"/>
<circle cx="60.10" cy="362.94" r="1.45" fill="#fff" stroke="#000" stroke-width="0.85"/>
<rect x="62.80" y="361.65" width="7.20" height="7.75" fill="#35a9e1"/>
<line x1="66.40" y1="361.65" x2="66.40" y2="352.60" stroke="#35a9e1" stroke-width="0.9"/>
<line x1="64.60" y1="352.60" x2="68.20" y2="352.60" stroke="#35a9e1" stroke-width="0.9"/>
<circle cx="66.40" cy="352.60" r="1.3" fill="#fff" stroke="#35a9e1" stroke-width="0.85"/>
<circle cx="66.40" cy="356.48" r="1.3" fill="#fff" stroke="#35a9e1" stroke-width="0.85"/>
<circle cx="66.40" cy="360.36" r="1.3" fill="#fff" stroke="#35a9e1" stroke-width="0.85"/>
<circle cx="66.40" cy="369.40" r="1.3" fill="#fff" stroke="#35a9e1" stroke-width="0.85"/>
<rect x="81.60" y="359.32" width="7.20" height="10.08" fill="#000"/>
<line x1="85.20" y1="359.32" x2="85.20" y2="350.02" stroke="#000" stroke-width="0.9"/>
<line x1="83.40" y1="350.02" x2="87.00" y2="350.02" stroke="#000" stroke-width="0.9"/>
<circle cx="85.20" cy="346.14" r="1.45" fill="#fff" stroke="#000" stroke-width="0.85"/>
<circle cx="81.80" cy="359.32" r="1.45" fill="#fff" stroke="#000" stroke-width="0.85"/>
<circle cx="88.60" cy="359.32" r="1.45" fill="#fff" stroke="#000" stroke-width="0.85"/>
<circle cx="85.20" cy="368.11" r="0.9" fill="#fff"/>
<rect x="91.30" y="364.62" width="7.20" height="4.78" fill="#35a9e1"/>
<line x1="94.90" y1="364.62" x2="94.90" y2="356.48" stroke="#35a9e1" stroke-width="0.9"/>
<line x1="93.10" y1="356.48" x2="96.70" y2="356.48" stroke="#35a9e1" stroke-width="0.9"/>
<circle cx="94.90" cy="355.19" r="1.3" fill="#fff" stroke="#35a9e1" stroke-width="0.85"/>
<circle cx="94.90" cy="361.00" r="1.3" fill="#fff" stroke="#35a9e1" stroke-width="0.85"/>
<circle cx="91.50" cy="369.40" r="1.3" fill="#fff" stroke="#35a9e1" stroke-width="0.85"/>
<circle cx="98.30" cy="369.40" r="1.3" fill="#fff" stroke="#35a9e1" stroke-width="0.85"/>
<rect x="110.10" y="364.88" width="7.20" height="4.52" fill="#000"/>
<circle cx="113.70" cy="360.36" r="1.45" fill="#fff" stroke="#000" stroke-width="0.85"/>
<circle cx="110.30" cy="364.88" r="1.45" fill="#fff" stroke="#000" stroke-width="0.85"/>
<circle cx="117.10" cy="364.88" r="1.45" fill="#fff" stroke="#000" stroke-width="0.85"/>
<circle cx="113.70" cy="364.23" r="1.45" fill="#fff" stroke="#000" stroke-width="0.85"/>
<rect x="119.80" y="364.23" width="7.20" height="5.17" fill="#35a9e1"/>
<line x1="123.40" y1="364.23" x2="123.40" y2="356.48" stroke="#35a9e1" stroke-width="0.9"/>
<line x1="121.60" y1="356.48" x2="125.20" y2="356.48" stroke="#35a9e1" stroke-width="0.9"/>
<circle cx="123.40" cy="356.48" r="1.3" fill="#fff" stroke="#35a9e1" stroke-width="0.85"/>
<circle cx="120.00" cy="362.94" r="1.3" fill="#fff" stroke="#35a9e1" stroke-width="0.85"/>
<circle cx="126.80" cy="364.23" r="1.3" fill="#fff" stroke="#35a9e1" stroke-width="0.85"/>
<circle cx="123.40" cy="369.40" r="1.3" fill="#fff" stroke="#35a9e1" stroke-width="0.85"/>
<text x="-6.06" y="0" transform="translate(61.60,380.80) scale(0.66,1)" font-size="8.0" letter-spacing="-0.766" fill="#111" stroke="#111" stroke-width="0.12">GM</text>
<text x="-2.67" y="0" transform="translate(90.10,380.80) scale(0.66,1)" font-size="8.0" letter-spacing="0.000" fill="#111" stroke="#111" stroke-width="0.12">E</text>
<text x="-6.74" y="0" transform="translate(118.60,380.80) scale(0.66,1)" font-size="8.0" letter-spacing="0.522" fill="#111" stroke="#111" stroke-width="0.12">Mix</text>
<text x="68.50" y="289.10" font-size="9.8" fill="#111" textLength="43.3" lengthAdjust="spacingAndGlyphs" stroke="#111" stroke-width="0.1">HSC/MPP</text>
<circle cx="51.80" cy="300.00" r="1.4" fill="#fff" stroke="#222" stroke-width="1.1"/>
<text x="55.60" y="302.45" font-size="7.0" fill="#111" textLength="24.8" lengthAdjust="spacingAndGlyphs" stroke="#111" stroke-width="0.22">CTRLsh</text>
<circle cx="89.30" cy="300.00" r="1.4" fill="#fff" stroke="#35a9e1" stroke-width="1.1"/>
<text x="93.30" y="302.45" font-size="7.0" fill="#111" stroke="#111" stroke-width="0.22">SUPT20Hsh</text>
<text x="0.00" y="0" transform="translate(14.50,361.70) rotate(-90) scale(0.6606421059447068,1)" font-size="8.6" letter-spacing="0.200" fill="#111" stroke="#111" stroke-width="0.42">Frequency</text>
<text x="0.00" y="0" transform="translate(14.50,330.20) rotate(-90) scale(0.8816828273194511,1)" font-size="8.6" letter-spacing="0.200" fill="#111" stroke="#111" stroke-width="0.42">of</text>
<text x="0.00" y="0" transform="translate(14.50,321.90) rotate(-90) scale(0.5311346801164896,1)" font-size="8.6" letter-spacing="0.200" fill="#111" stroke="#111" stroke-width="0.42">CFC</text>
<text x="0.00" y="0" transform="translate(25.50,365.70) rotate(-90) scale(0.6523355034809017,1)" font-size="8.6" letter-spacing="0.200" fill="#111" stroke="#111" stroke-width="0.42">amongst</text>
<text x="0.00" y="0" transform="translate(25.50,339.50) rotate(-90) scale(0.6999120633144146,1)" font-size="8.6" letter-spacing="0.200" fill="#111" stroke="#111" stroke-width="0.42">plated</text>
<text x="0.00" y="0" transform="translate(25.50,321.10) rotate(-90) scale(0.7276080341500174,1)" font-size="8.6" letter-spacing="0.200" fill="#111" stroke="#111" stroke-width="0.42">cells</text>
<line x1="176.50" y1="304.30" x2="176.50" y2="369.90" stroke="#111" stroke-width="1.05"/>
<line x1="173.20" y1="369.40" x2="176.50" y2="369.40" stroke="#111" stroke-width="1.0"/>
<text x="170.30" y="372.10" font-size="7.6" text-anchor="end" fill="#111" stroke="#111" stroke-width="0.12">0.0</text>
<line x1="173.20" y1="353.25" x2="176.50" y2="353.25" stroke="#111" stroke-width="1.0"/>
<text x="170.30" y="355.95" font-size="7.6" text-anchor="end" fill="#111" stroke="#111" stroke-width="0.12">0.2</text>
<line x1="173.20" y1="337.10" x2="176.50" y2="337.10" stroke="#111" stroke-width="1.0"/>
<text x="170.30" y="339.80" font-size="7.6" text-anchor="end" fill="#111" stroke="#111" stroke-width="0.12">0.4</text>
<line x1="173.20" y1="320.95" x2="176.50" y2="320.95" stroke="#111" stroke-width="1.0"/>
<text x="170.30" y="323.65" font-size="7.6" text-anchor="end" fill="#111" stroke="#111" stroke-width="0.12">0.6</text>
<line x1="173.20" y1="304.80" x2="176.50" y2="304.80" stroke="#111" stroke-width="1.0"/>
<text x="170.30" y="307.50" font-size="7.6" text-anchor="end" fill="#111" stroke="#111" stroke-width="0.12">0.8</text>
<line x1="173.20" y1="369.40" x2="259.40" y2="369.40" stroke="#111" stroke-width="1.05"/>
<line x1="189.50" y1="369.40" x2="189.50" y2="372.20" stroke="#111" stroke-width="0.9"/>
<line x1="217.90" y1="369.40" x2="217.90" y2="372.20" stroke="#111" stroke-width="0.9"/>
<line x1="246.30" y1="369.40" x2="246.30" y2="372.20" stroke="#111" stroke-width="0.9"/>
<rect x="181.10" y="366.17" width="7.20" height="3.23" fill="#000"/>
<line x1="184.70" y1="366.17" x2="184.70" y2="361.32" stroke="#000" stroke-width="0.9"/>
<line x1="182.90" y1="361.32" x2="186.50" y2="361.32" stroke="#000" stroke-width="0.9"/>
<circle cx="184.70" cy="358.09" r="1.45" fill="#fff" stroke="#000" stroke-width="0.85"/>
<circle cx="181.30" cy="366.17" r="1.45" fill="#fff" stroke="#000" stroke-width="0.85"/>
<circle cx="188.10" cy="367.78" r="1.45" fill="#fff" stroke="#000" stroke-width="0.85"/>
<circle cx="181.30" cy="369.40" r="1.45" fill="#fff" stroke="#000" stroke-width="0.85"/>
<rect x="190.80" y="368.43" width="7.20" height="0.97" fill="#35a9e1"/>
<circle cx="191.00" cy="369.40" r="1.3" fill="#fff" stroke="#35a9e1" stroke-width="0.85"/>
<circle cx="194.40" cy="366.98" r="1.3" fill="#fff" stroke="#35a9e1" stroke-width="0.85"/>
<circle cx="197.80" cy="365.36" r="1.3" fill="#fff" stroke="#35a9e1" stroke-width="0.85"/>
<rect x="209.50" y="350.02" width="7.20" height="19.38" fill="#000"/>
<line x1="213.10" y1="350.02" x2="213.10" y2="330.64" stroke="#000" stroke-width="0.9"/>
<line x1="211.30" y1="330.64" x2="214.90" y2="330.64" stroke="#000" stroke-width="0.9"/>
<circle cx="213.10" cy="330.64" r="1.45" fill="#fff" stroke="#000" stroke-width="0.85"/>
<circle cx="213.10" cy="344.37" r="1.45" fill="#fff" stroke="#000" stroke-width="0.85"/>
<circle cx="213.10" cy="353.25" r="0.9" fill="#fff"/>
<circle cx="213.10" cy="369.40" r="1.45" fill="#fff" stroke="#000" stroke-width="0.85"/>
<rect x="219.20" y="354.87" width="7.20" height="14.53" fill="#35a9e1"/>
<line x1="222.80" y1="354.87" x2="222.80" y2="337.91" stroke="#35a9e1" stroke-width="0.9"/>
<line x1="221.00" y1="337.91" x2="224.60" y2="337.91" stroke="#35a9e1" stroke-width="0.9"/>
<circle cx="222.80" cy="337.91" r="1.3" fill="#fff" stroke="#35a9e1" stroke-width="0.85"/>
<circle cx="222.80" cy="345.98" r="1.3" fill="#fff" stroke="#35a9e1" stroke-width="0.85"/>
<circle cx="222.80" cy="364.56" r="0.9" fill="#fff"/>
<circle cx="222.80" cy="369.40" r="1.3" fill="#fff" stroke="#35a9e1" stroke-width="0.85"/>
<rect x="237.90" y="366.57" width="7.20" height="2.83" fill="#000"/>
<circle cx="241.50" cy="360.52" r="1.45" fill="#fff" stroke="#000" stroke-width="0.85"/>
<circle cx="241.50" cy="365.36" r="1.45" fill="#fff" stroke="#000" stroke-width="0.85"/>
<circle cx="238.10" cy="369.40" r="1.45" fill="#fff" stroke="#000" stroke-width="0.85"/>
<circle cx="244.90" cy="369.40" r="1.45" fill="#fff" stroke="#000" stroke-width="0.85"/>
<rect x="247.60" y="365.36" width="7.20" height="4.04" fill="#35a9e1"/>
<circle cx="247.90" cy="364.56" r="1.3" fill="#fff" stroke="#35a9e1" stroke-width="0.85"/>
<circle cx="251.20" cy="364.56" r="1.3" fill="#fff" stroke="#35a9e1" stroke-width="0.85"/>
<circle cx="254.50" cy="364.56" r="1.3" fill="#fff" stroke="#35a9e1" stroke-width="0.85"/>
<circle cx="251.20" cy="367.78" r="1.3" fill="#fff" stroke="#35a9e1" stroke-width="0.85"/>
<text x="-6.06" y="0" transform="translate(189.60,380.80) scale(0.66,1)" font-size="8.0" letter-spacing="-0.766" fill="#111" stroke="#111" stroke-width="0.12">GM</text>
<text x="-2.67" y="0" transform="translate(218.00,380.80) scale(0.66,1)" font-size="8.0" letter-spacing="0.000" fill="#111" stroke="#111" stroke-width="0.12">E</text>
<text x="-6.74" y="0" transform="translate(246.40,380.80) scale(0.66,1)" font-size="8.0" letter-spacing="0.522" fill="#111" stroke="#111" stroke-width="0.12">Mix</text>
<text x="208.10" y="289.10" font-size="9.8" fill="#111" textLength="19.5" lengthAdjust="spacingAndGlyphs" stroke="#111" stroke-width="0.1">MEP</text>
<circle cx="177.00" cy="299.80" r="1.4" fill="#fff" stroke="#222" stroke-width="1.1"/>
<text x="182.10" y="302.25" font-size="7.0" fill="#111" textLength="24.8" lengthAdjust="spacingAndGlyphs" stroke="#111" stroke-width="0.22">CTRLsh</text>
<circle cx="215.10" cy="299.80" r="1.4" fill="#fff" stroke="#35a9e1" stroke-width="1.1"/>
<text x="219.80" y="302.25" font-size="7.0" fill="#111" stroke="#111" stroke-width="0.22">SUPT20Hsh</text>
<text x="0.00" y="0" transform="translate(142.10,361.70) rotate(-90) scale(0.6606421059447068,1)" font-size="8.6" letter-spacing="0.200" fill="#111" stroke="#111" stroke-width="0.42">Frequency</text>
<text x="0.00" y="0" transform="translate(142.10,330.20) rotate(-90) scale(0.8816828273194511,1)" font-size="8.6" letter-spacing="0.200" fill="#111" stroke="#111" stroke-width="0.42">of</text>
<text x="0.00" y="0" transform="translate(142.10,321.90) rotate(-90) scale(0.5311346801164896,1)" font-size="8.6" letter-spacing="0.200" fill="#111" stroke="#111" stroke-width="0.42">CFC</text>
<text x="0.00" y="0" transform="translate(153.70,365.70) rotate(-90) scale(0.6523355034809017,1)" font-size="8.6" letter-spacing="0.200" fill="#111" stroke="#111" stroke-width="0.42">amongst</text>
<text x="0.00" y="0" transform="translate(153.70,339.50) rotate(-90) scale(0.6999120633144146,1)" font-size="8.6" letter-spacing="0.200" fill="#111" stroke="#111" stroke-width="0.42">plated</text>
<text x="0.00" y="0" transform="translate(153.70,321.10) rotate(-90) scale(0.7276080341500174,1)" font-size="8.6" letter-spacing="0.200" fill="#111" stroke="#111" stroke-width="0.42">cells</text>
<circle cx="309.60" cy="299.80" r="1.4" fill="#fff" stroke="#222" stroke-width="1.1"/>
<text x="313.80" y="302.25" font-size="7.0" fill="#111" textLength="24.8" lengthAdjust="spacingAndGlyphs" stroke="#111" stroke-width="0.22">CTRLsh</text>
<circle cx="344.50" cy="299.80" r="1.4" fill="#fff" stroke="#35a9e1" stroke-width="1.1"/>
<text x="349.30" y="302.25" font-size="7.0" fill="#111" stroke="#111" stroke-width="0.22">SUPT20Hsh</text>
<text x="337.50" y="289.10" font-size="9.8" fill="#111" textLength="21.1" lengthAdjust="spacingAndGlyphs" stroke="#111" stroke-width="0.1">GMP</text>
<text x="0.00" y="0" transform="translate(268.20,361.70) rotate(-90) scale(0.6606421059447068,1)" font-size="8.6" letter-spacing="0.200" fill="#111" stroke="#111" stroke-width="0.42">Frequency</text>
<text x="0.00" y="0" transform="translate(268.20,330.20) rotate(-90) scale(0.8816828273194511,1)" font-size="8.6" letter-spacing="0.200" fill="#111" stroke="#111" stroke-width="0.42">of</text>
<text x="0.00" y="0" transform="translate(268.20,321.90) rotate(-90) scale(0.5311346801164896,1)" font-size="8.6" letter-spacing="0.200" fill="#111" stroke="#111" stroke-width="0.42">CFC</text>
<text x="0.00" y="0" transform="translate(279.40,365.70) rotate(-90) scale(0.6523355034809017,1)" font-size="8.6" letter-spacing="0.200" fill="#111" stroke="#111" stroke-width="0.42">amongst</text>
<text x="0.00" y="0" transform="translate(279.40,339.50) rotate(-90) scale(0.6999120633144146,1)" font-size="8.6" letter-spacing="0.200" fill="#111" stroke="#111" stroke-width="0.42">plated</text>
<text x="0.00" y="0" transform="translate(279.40,321.10) rotate(-90) scale(0.7276080341500174,1)" font-size="8.6" letter-spacing="0.200" fill="#111" stroke="#111" stroke-width="0.42">cells</text>
<circle cx="435.00" cy="299.60" r="1.4" fill="#fff" stroke="#222" stroke-width="1.1"/>
<text x="438.80" y="302.05" font-size="7.0" fill="#111" textLength="24.8" lengthAdjust="spacingAndGlyphs" stroke="#111" stroke-width="0.22">CTRLsh</text>
<circle cx="470.10" cy="299.60" r="1.4" fill="#fff" stroke="#35a9e1" stroke-width="1.1"/>
<text x="474.30" y="302.05" font-size="7.0" fill="#111" stroke="#111" stroke-width="0.22">SUPT20Hsh</text>
<text x="462.50" y="289.10" font-size="9.8" fill="#111" textLength="18.6" lengthAdjust="spacingAndGlyphs" stroke="#111" stroke-width="0.1">MLP</text>
<text x="0.00" y="0" transform="translate(394.20,361.70) rotate(-90) scale(0.6606421059447068,1)" font-size="8.6" letter-spacing="0.200" fill="#111" stroke="#111" stroke-width="0.42">Frequency</text>
<text x="0.00" y="0" transform="translate(394.20,330.20) rotate(-90) scale(0.8816828273194511,1)" font-size="8.6" letter-spacing="0.200" fill="#111" stroke="#111" stroke-width="0.42">of</text>
<text x="0.00" y="0" transform="translate(394.20,321.90) rotate(-90) scale(0.5311346801164896,1)" font-size="8.6" letter-spacing="0.200" fill="#111" stroke="#111" stroke-width="0.42">CFC</text>
<text x="0.00" y="0" transform="translate(405.10,365.70) rotate(-90) scale(0.6523355034809017,1)" font-size="8.6" letter-spacing="0.200" fill="#111" stroke="#111" stroke-width="0.42">amongst</text>
<text x="0.00" y="0" transform="translate(405.10,339.50) rotate(-90) scale(0.6999120633144146,1)" font-size="8.6" letter-spacing="0.200" fill="#111" stroke="#111" stroke-width="0.42">plated</text>
<text x="0.00" y="0" transform="translate(405.10,321.10) rotate(-90) scale(0.7276080341500174,1)" font-size="8.6" letter-spacing="0.200" fill="#111" stroke="#111" stroke-width="0.42">cells</text>
<line x1="306.50" y1="304.00" x2="306.50" y2="338.40" stroke="#111" stroke-width="1.05"/>
<line x1="304.30" y1="338.40" x2="308.70" y2="338.40" stroke="#111" stroke-width="1.0"/>
<line x1="306.50" y1="342.80" x2="306.50" y2="369.90" stroke="#111" stroke-width="1.05"/>
<line x1="304.30" y1="342.80" x2="308.70" y2="342.80" stroke="#111" stroke-width="1.0"/>
<line x1="303.20" y1="304.50" x2="306.50" y2="304.50" stroke="#111" stroke-width="1.0"/>
<text x="300.40" y="307.20" font-size="7.6" text-anchor="end" fill="#111" stroke="#111" stroke-width="0.12">0.5</text>
<line x1="303.20" y1="311.28" x2="306.50" y2="311.28" stroke="#111" stroke-width="1.0"/>
<text x="300.40" y="313.98" font-size="7.6" text-anchor="end" fill="#111" stroke="#111" stroke-width="0.12">0.4</text>
<line x1="303.20" y1="318.06" x2="306.50" y2="318.06" stroke="#111" stroke-width="1.0"/>
<text x="300.40" y="320.76" font-size="7.6" text-anchor="end" fill="#111" stroke="#111" stroke-width="0.12">0.3</text>
<line x1="303.20" y1="324.84" x2="306.50" y2="324.84" stroke="#111" stroke-width="1.0"/>
<text x="300.40" y="327.54" font-size="7.6" text-anchor="end" fill="#111" stroke="#111" stroke-width="0.12">0.2</text>
<line x1="303.20" y1="331.62" x2="306.50" y2="331.62" stroke="#111" stroke-width="1.0"/>
<text x="300.40" y="334.32" font-size="7.6" text-anchor="end" fill="#111" stroke="#111" stroke-width="0.12">0.1</text>
<line x1="303.20" y1="342.80" x2="306.50" y2="342.80" stroke="#111" stroke-width="1.0"/>
<text x="300.40" y="345.50" font-size="7.6" text-anchor="end" fill="#111" stroke="#111" stroke-width="0.12">0.02</text>
<line x1="303.20" y1="356.10" x2="306.50" y2="356.10" stroke="#111" stroke-width="1.0"/>
<text x="300.40" y="358.80" font-size="7.6" text-anchor="end" fill="#111" stroke="#111" stroke-width="0.12">0.01</text>
<text x="300.40" y="372.10" font-size="7.6" text-anchor="end" fill="#111" stroke="#111" stroke-width="0.12">0.00</text>
<line x1="303.20" y1="369.40" x2="389.50" y2="369.40" stroke="#111" stroke-width="1.05"/>
<line x1="319.50" y1="369.40" x2="319.50" y2="372.20" stroke="#111" stroke-width="0.9"/>
<line x1="347.60" y1="369.40" x2="347.60" y2="372.20" stroke="#111" stroke-width="0.9"/>
<line x1="376.10" y1="369.40" x2="376.10" y2="372.20" stroke="#111" stroke-width="0.9"/>
<text x="-6.06" y="0" transform="translate(319.60,380.80) scale(0.66,1)" font-size="8.0" letter-spacing="-0.766" fill="#111" stroke="#111" stroke-width="0.12">GM</text>
<text x="-2.67" y="0" transform="translate(347.70,380.80) scale(0.66,1)" font-size="8.0" letter-spacing="0.000" fill="#111" stroke="#111" stroke-width="0.12">E</text>
<text x="-6.74" y="0" transform="translate(376.20,380.80) scale(0.66,1)" font-size="8.0" letter-spacing="0.522" fill="#111" stroke="#111" stroke-width="0.12">Mix</text>
<rect x="310.90" y="342.80" width="7.20" height="26.60" fill="#000"/>
<rect x="310.90" y="336.80" width="7.20" height="1.60" fill="#000"/>
<rect x="320.90" y="342.80" width="7.20" height="26.60" fill="#35a9e1"/>
<rect x="320.90" y="336.80" width="7.20" height="1.60" fill="#35a9e1"/>
<circle cx="314.5" cy="366.8" r="0.9" fill="#fff"/>
<line x1="314.50" y1="336.80" x2="314.50" y2="334.50" stroke="#000" stroke-width="0.9"/>
<line x1="312.70" y1="334.50" x2="316.30" y2="334.50" stroke="#000" stroke-width="0.9"/>
<circle cx="314.50" cy="333.60" r="1.45" fill="#fff" stroke="#000" stroke-width="0.85"/>
<circle cx="314.50" cy="335.60" r="1.3" fill="#fff" stroke="#000" stroke-width="0.8"/>
<line x1="324.50" y1="336.80" x2="324.50" y2="328.40" stroke="#35a9e1" stroke-width="0.9"/>
<circle cx="324.50" cy="328.20" r="1.45" fill="#fff" stroke="#35a9e1" stroke-width="0.85"/>
<circle cx="321.40" cy="369.20" r="1.45" fill="#fff" stroke="#35a9e1" stroke-width="0.85"/>
<circle cx="324.50" cy="369.20" r="1.45" fill="#fff" stroke="#35a9e1" stroke-width="0.85"/>
<circle cx="327.80" cy="369.20" r="1.45" fill="#fff" stroke="#35a9e1" stroke-width="0.85"/>
<line x1="343.00" y1="369.40" x2="343.00" y2="362.00" stroke="#000" stroke-width="0.9"/>
<line x1="341.40" y1="362.00" x2="344.60" y2="362.00" stroke="#000" stroke-width="0.9"/>
<rect x="339.30" y="367.40" width="7.20" height="2.00" fill="#000"/>
<circle cx="343.00" cy="364.40" r="1.45" fill="#fff" stroke="#000" stroke-width="0.85"/>
<circle cx="340.00" cy="369.20" r="1.45" fill="#fff" stroke="#000" stroke-width="0.85"/>
<circle cx="346.00" cy="369.20" r="1.45" fill="#fff" stroke="#000" stroke-width="0.85"/>
<rect x="349.00" y="367.20" width="7.20" height="2.20" fill="#35a9e1"/>
<line x1="352.60" y1="367.20" x2="352.60" y2="360.60" stroke="#35a9e1" stroke-width="0.9"/>
<circle cx="352.60" cy="360.40" r="1.45" fill="#fff" stroke="#35a9e1" stroke-width="0.85"/>
<circle cx="349.50" cy="369.20" r="1.45" fill="#fff" stroke="#35a9e1" stroke-width="0.85"/>
<circle cx="355.80" cy="369.20" r="1.45" fill="#fff" stroke="#35a9e1" stroke-width="0.85"/>
<line x1="371.30" y1="369.40" x2="371.30" y2="363.50" stroke="#000" stroke-width="0.9"/>
<circle cx="371.30" cy="362.60" r="1.45" fill="#fff" stroke="#000" stroke-width="0.85"/>
<circle cx="368.20" cy="369.20" r="1.45" fill="#fff" stroke="#000" stroke-width="0.85"/>
<circle cx="374.40" cy="369.20" r="1.45" fill="#fff" stroke="#000" stroke-width="0.85"/>
<circle cx="377.90" cy="369.20" r="1.45" fill="#fff" stroke="#35a9e1" stroke-width="0.85"/>
<circle cx="381.50" cy="369.20" r="1.45" fill="#fff" stroke="#35a9e1" stroke-width="0.85"/>
<circle cx="385.00" cy="369.20" r="1.45" fill="#fff" stroke="#35a9e1" stroke-width="0.85"/>
<line x1="431.40" y1="304.30" x2="431.40" y2="339.20" stroke="#111" stroke-width="1.05"/>
<line x1="429.20" y1="339.20" x2="433.60" y2="339.20" stroke="#111" stroke-width="1.0"/>
<line x1="431.40" y1="343.40" x2="431.40" y2="369.90" stroke="#111" stroke-width="1.05"/>
<line x1="429.20" y1="343.40" x2="433.60" y2="343.40" stroke="#111" stroke-width="1.0"/>
<line x1="428.10" y1="304.80" x2="431.40" y2="304.80" stroke="#111" stroke-width="1.0"/>
<text x="425.80" y="307.50" font-size="7.6" text-anchor="end" fill="#111" stroke="#111" stroke-width="0.12">0.05</text>
<line x1="428.10" y1="311.68" x2="431.40" y2="311.68" stroke="#111" stroke-width="1.0"/>
<text x="425.80" y="314.38" font-size="7.6" text-anchor="end" fill="#111" stroke="#111" stroke-width="0.12">0.04</text>
<line x1="428.10" y1="318.56" x2="431.40" y2="318.56" stroke="#111" stroke-width="1.0"/>
<text x="425.80" y="321.26" font-size="7.6" text-anchor="end" fill="#111" stroke="#111" stroke-width="0.12">0.03</text>
<line x1="428.10" y1="325.44" x2="431.40" y2="325.44" stroke="#111" stroke-width="1.0"/>
<text x="425.80" y="328.14" font-size="7.6" text-anchor="end" fill="#111" stroke="#111" stroke-width="0.12">0.02</text>
<line x1="428.10" y1="332.32" x2="431.40" y2="332.32" stroke="#111" stroke-width="1.0"/>
<text x="425.80" y="335.02" font-size="7.6" text-anchor="end" fill="#111" stroke="#111" stroke-width="0.12">0.01</text>
<text x="425.80" y="372.10" font-size="7.6" text-anchor="end" fill="#111" stroke="#111" stroke-width="0.12">0</text>
<line x1="428.10" y1="369.40" x2="512.00" y2="369.40" stroke="#111" stroke-width="1.05"/>
<line x1="444.40" y1="369.40" x2="444.40" y2="372.20" stroke="#111" stroke-width="0.9"/>
<line x1="471.30" y1="369.40" x2="471.30" y2="372.20" stroke="#111" stroke-width="0.9"/>
<line x1="498.90" y1="369.40" x2="498.90" y2="372.20" stroke="#111" stroke-width="0.9"/>
<text x="-6.06" y="0" transform="translate(444.50,380.80) scale(0.66,1)" font-size="8.0" letter-spacing="-0.766" fill="#111" stroke="#111" stroke-width="0.12">GM</text>
<text x="-2.67" y="0" transform="translate(471.40,380.80) scale(0.66,1)" font-size="8.0" letter-spacing="0.000" fill="#111" stroke="#111" stroke-width="0.12">E</text>
<text x="-6.74" y="0" transform="translate(499.00,380.80) scale(0.66,1)" font-size="8.0" letter-spacing="0.522" fill="#111" stroke="#111" stroke-width="0.12">Mix</text>
<rect x="435.80" y="343.40" width="7.00" height="26.00" fill="#000"/>
<rect x="435.80" y="330.40" width="7.00" height="8.80" fill="#000"/>
<line x1="439.30" y1="330.40" x2="439.30" y2="318.60" stroke="#000" stroke-width="0.9"/>
<line x1="437.50" y1="318.60" x2="441.10" y2="318.60" stroke="#000" stroke-width="0.9"/>
<circle cx="439.30" cy="318.30" r="1.45" fill="#fff" stroke="#000" stroke-width="0.85"/>
<circle cx="439.3" cy="333.2" r="0.9" fill="#fff"/>
<circle cx="439.30" cy="339.00" r="1.45" fill="#fff" stroke="#000" stroke-width="0.85"/>
<rect x="445.80" y="343.40" width="7.00" height="26.00" fill="#35a9e1"/>
<rect x="445.80" y="336.00" width="7.00" height="3.20" fill="#35a9e1"/>
<line x1="449.30" y1="336.00" x2="449.30" y2="330.00" stroke="#35a9e1" stroke-width="0.9"/>
<line x1="447.50" y1="333.00" x2="451.10" y2="333.00" stroke="#35a9e1" stroke-width="0.9"/>
<circle cx="449.30" cy="329.80" r="1.45" fill="#fff" stroke="#35a9e1" stroke-width="0.85"/>
<circle cx="449.30" cy="336.40" r="1.45" fill="#fff" stroke="#35a9e1" stroke-width="0.85"/>
<circle cx="449.3" cy="352.2" r="0.9" fill="#fff"/>
<rect x="463.50" y="367.30" width="7.00" height="2.10" fill="#000"/>
<line x1="467.00" y1="367.30" x2="467.00" y2="361.00" stroke="#000" stroke-width="0.9"/>
<circle cx="467.00" cy="360.80" r="1.45" fill="#fff" stroke="#000" stroke-width="0.85"/>
<circle cx="463.80" cy="369.20" r="1.45" fill="#fff" stroke="#000" stroke-width="0.85"/>
<circle cx="470.20" cy="369.20" r="1.45" fill="#fff" stroke="#000" stroke-width="0.85"/>
<circle cx="474.00" cy="369.20" r="1.45" fill="#fff" stroke="#35a9e1" stroke-width="0.85"/>
<circle cx="477.50" cy="369.20" r="1.45" fill="#fff" stroke="#35a9e1" stroke-width="0.85"/>
<circle cx="481.00" cy="369.20" r="1.45" fill="#fff" stroke="#35a9e1" stroke-width="0.85"/>
<circle cx="491.10" cy="369.20" r="1.45" fill="#fff" stroke="#000" stroke-width="0.85"/>
<circle cx="494.60" cy="369.20" r="1.45" fill="#fff" stroke="#000" stroke-width="0.85"/>
<circle cx="498.00" cy="369.20" r="1.45" fill="#fff" stroke="#000" stroke-width="0.85"/>
<circle cx="501.60" cy="369.20" r="1.45" fill="#fff" stroke="#35a9e1" stroke-width="0.85"/>
<circle cx="505.10" cy="369.20" r="1.45" fill="#fff" stroke="#35a9e1" stroke-width="0.85"/>
<circle cx="508.60" cy="369.20" r="1.45" fill="#fff" stroke="#35a9e1" stroke-width="0.85"/>
<rect x="1.5" y="1.5" width="517" height="386" fill="none" stroke="#9a9a9a" stroke-width="1"/>
<rect x="0.5" y="0.5" width="519" height="388" fill="none" stroke="#000" stroke-width="1"/>
</svg></div></body></html>
